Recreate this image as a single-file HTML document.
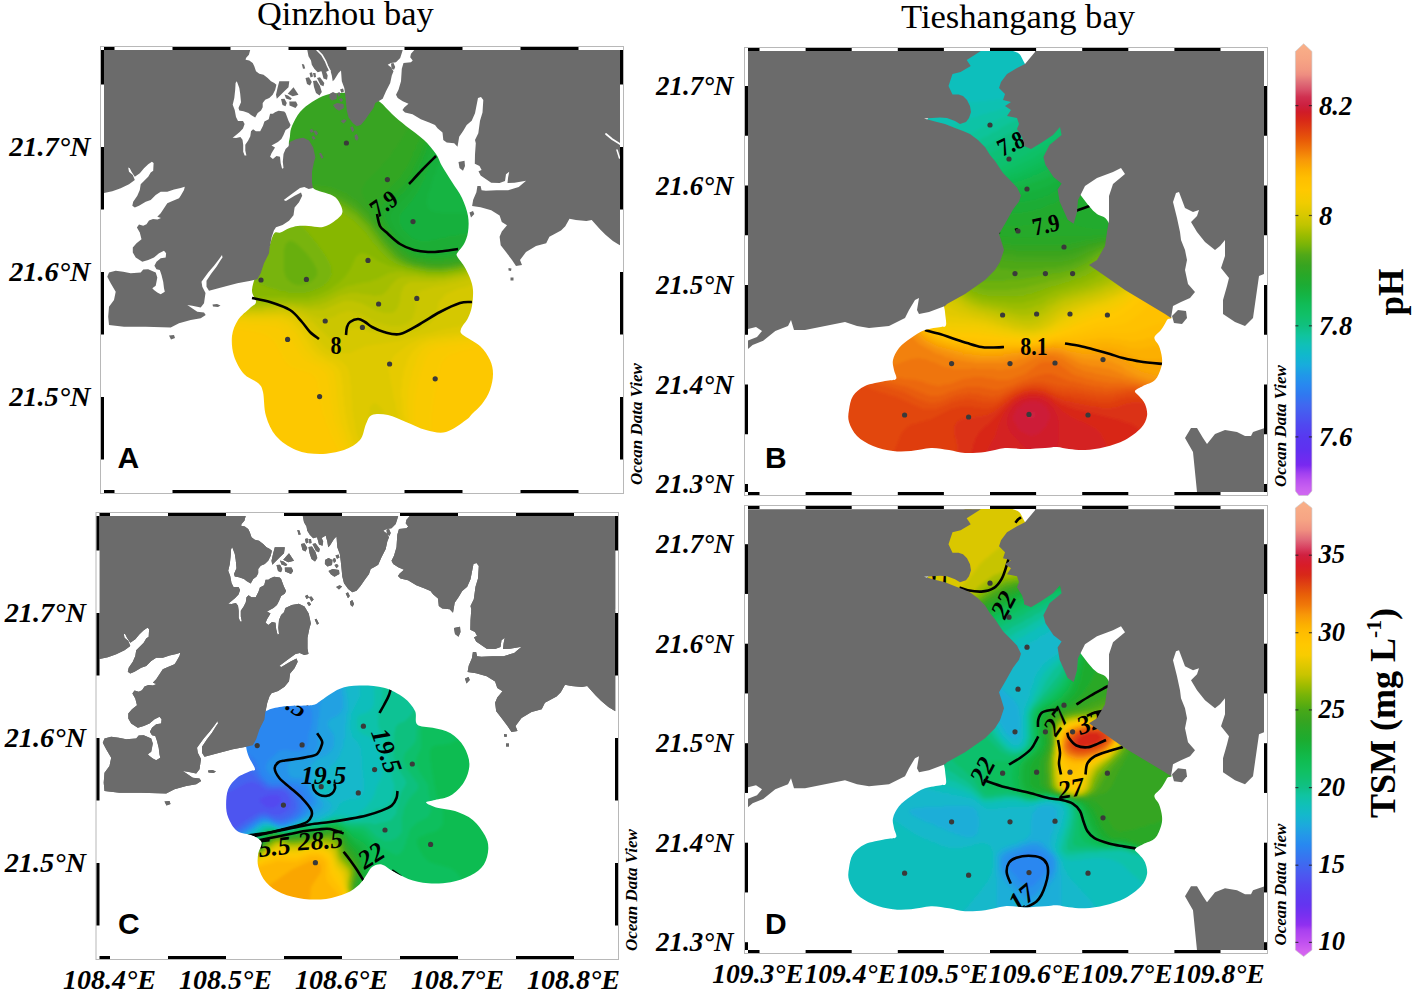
<!DOCTYPE html>
<html><head><meta charset="utf-8"><style>
html,body{margin:0;padding:0;background:#fff;}
body{width:1417px;height:990px;overflow:hidden;}
svg{display:block;}
.t{font-family:"Liberation Serif",serif;}
.bi{font-family:"Liberation Serif",serif;font-weight:bold;font-style:italic;}
.b{font-family:"Liberation Serif",serif;font-weight:bold;}
.s{font-family:"Liberation Sans",sans-serif;font-weight:bold;}
</style></head><body>
<svg width="1417" height="990" viewBox="0 0 1417 990">
<rect width="1417" height="990" fill="#fff"/>

<defs><clipPath id="clipA"><rect x="104" y="50" width="516" height="440"/></clipPath><clipPath id="clipC"><rect x="99.5" y="516" width="516" height="440"/></clipPath></defs>
<g clip-path="url(#clipA)"><g transform="translate(0,0)">
<defs><clipPath id="bcA"><path d="M290.0,150.0 C287.5,142.7 289.7,140.0 290.0,136.0 C290.3,132.0 290.3,130.0 292.0,126.0 C293.7,122.0 296.7,116.0 300.0,112.0 C303.3,108.0 307.7,104.8 312.0,102.0 C316.3,99.2 321.3,96.5 326.0,95.0 C330.7,93.5 335.2,93.3 340.0,93.0 C344.8,92.7 350.3,92.5 355.0,93.0 C359.7,93.5 363.8,94.5 368.0,96.0 C372.2,97.5 376.0,99.0 380.0,102.0 C384.0,105.0 387.7,110.0 392.0,114.0 C396.3,118.0 400.7,121.7 406.0,126.0 C411.3,130.3 419.0,135.3 424.0,140.0 C429.0,144.7 433.0,149.7 436.0,154.0 C439.0,158.3 439.3,161.3 442.0,166.0 C444.7,170.7 448.7,176.7 452.0,182.0 C455.3,187.3 459.3,192.3 462.0,198.0 C464.7,203.7 467.0,210.3 468.0,216.0 C469.0,221.7 468.7,227.3 468.0,232.0 C467.3,236.7 465.7,240.7 464.0,244.0 C462.3,247.3 459.2,250.0 458.0,252.0 C456.8,254.0 456.0,253.7 457.0,256.0 C458.0,258.3 461.8,262.3 464.0,266.0 C466.2,269.7 468.5,274.0 470.0,278.0 C471.5,282.0 472.7,285.3 473.0,290.0 C473.3,294.7 472.8,301.3 472.0,306.0 C471.2,310.7 469.8,314.2 468.0,318.0 C466.2,321.8 461.8,326.2 461.0,329.0 C460.2,331.8 459.8,332.2 463.0,335.0 C466.2,337.8 475.5,341.8 480.0,346.0 C484.5,350.2 487.8,355.3 490.0,360.0 C492.2,364.7 493.0,369.0 493.0,374.0 C493.0,379.0 491.8,385.0 490.0,390.0 C488.2,395.0 485.0,400.0 482.0,404.0 C479.0,408.0 474.7,411.3 472.0,414.0 C469.3,416.7 470.3,417.0 466.0,420.0 C461.7,423.0 452.7,430.3 446.0,432.0 C439.3,433.7 432.7,431.7 426.0,430.0 C419.3,428.3 412.3,424.5 406.0,422.0 C399.7,419.5 393.7,416.2 388.0,415.0 C382.3,413.8 375.7,413.5 372.0,415.0 C368.3,416.5 368.0,419.8 366.0,424.0 C364.0,428.2 363.7,435.7 360.0,440.0 C356.3,444.3 350.7,447.7 344.0,450.0 C337.3,452.3 328.0,454.0 320.0,454.0 C312.0,454.0 303.3,453.0 296.0,450.0 C288.7,447.0 281.0,441.7 276.0,436.0 C271.0,430.3 268.2,423.3 266.0,416.0 C263.8,408.7 264.3,397.5 263.0,392.0 C261.7,386.5 261.2,386.0 258.0,383.0 C254.8,380.0 248.0,378.5 244.0,374.0 C240.0,369.5 236.0,362.3 234.0,356.0 C232.0,349.7 231.3,342.0 232.0,336.0 C232.7,330.0 235.0,324.7 238.0,320.0 C241.0,315.3 247.0,311.0 250.0,308.0 C253.0,305.0 255.7,305.0 256.0,302.0 C256.3,299.0 251.7,295.3 252.0,290.0 C252.3,284.7 255.3,276.7 258.0,270.0 C260.7,263.3 265.4,256.1 268.0,250.0 C270.6,243.9 271.8,236.6 273.9,233.7 C276.0,230.8 277.9,233.5 280.4,232.6 C282.9,231.7 286.1,229.4 289.0,228.3 C291.9,227.2 294.5,226.4 297.8,226.0 C301.1,225.6 305.1,225.8 308.7,226.0 C312.3,226.2 316.7,227.2 319.6,227.2 C322.5,227.2 323.6,226.9 326.0,226.0 C328.4,225.1 331.3,223.3 333.7,221.7 C336.1,220.1 338.8,217.9 340.2,216.3 C341.6,214.7 342.2,213.6 342.4,212.0 C342.6,210.4 342.2,208.7 341.3,206.5 C340.4,204.3 338.8,201.0 337.0,199.0 C335.2,197.0 333.3,195.9 330.4,194.6 C327.5,193.3 322.5,192.4 319.6,191.3 C316.7,190.2 315.4,189.9 313.0,188.0 C310.6,186.1 308.8,186.3 305.0,180.0 C301.2,173.7 292.5,157.3 290.0,150.0Z"/></clipPath><filter id="bfA" x="-5%" y="-5%" width="110%" height="110%"><feGaussianBlur stdDeviation="1.5"/></filter></defs><g clip-path="url(#bcA)"><g filter="url(#bfA)"><rect x="230" y="88" width="270" height="372" fill="#10bc58"/><path d="M230.0,88.0 230.0,459.0 499.0,459.0 499.0,88.0Z" fill="#13b74b" fill-rule="evenodd"/><path d="M230.0,88.0 230.0,459.0 499.0,459.0 499.0,88.0Z" fill="#14b443" fill-rule="evenodd"/><path d="M230.0,88.0 230.0,459.0 499.0,459.0 499.0,213.0 442.0,213.0 441.0,212.0 436.0,212.0 431.0,210.0 428.0,207.0 428.0,205.0 427.0,204.0 428.0,194.0 429.0,193.0 434.0,176.0 436.0,173.0 437.0,168.0 439.0,165.0 440.0,160.0 444.0,152.0 445.0,147.0 447.0,144.0 447.0,142.0 451.0,134.0 452.0,129.0 458.0,116.0 459.0,111.0 461.0,108.0 461.0,106.0 463.0,103.0 463.0,101.0 469.0,88.0Z" fill="#18b03d" fill-rule="evenodd"/><path d="M230.0,88.0 230.0,459.0 499.0,459.0 499.0,230.0 484.0,231.0 483.0,232.0 475.0,232.0 474.0,233.0 466.0,233.0 465.0,234.0 459.0,234.0 458.0,235.0 448.0,236.0 447.0,237.0 439.0,238.0 438.0,239.0 430.0,240.0 429.0,241.0 420.0,241.0 419.0,240.0 414.0,239.0 411.0,237.0 403.0,229.0 400.0,223.0 400.0,216.0 401.0,214.0 412.0,201.0 418.0,192.0 425.0,178.0 425.0,176.0 428.0,171.0 428.0,169.0 430.0,166.0 430.0,164.0 432.0,161.0 432.0,159.0 434.0,156.0 434.0,154.0 436.0,151.0 436.0,149.0 438.0,146.0 438.0,144.0 444.0,131.0 445.0,126.0 447.0,123.0 447.0,121.0 449.0,118.0 449.0,116.0 451.0,113.0 451.0,111.0 453.0,108.0 453.0,106.0 455.0,103.0 455.0,101.0 461.0,88.0Z" fill="#1bad36" fill-rule="evenodd"/><path d="M230.0,88.0 230.0,459.0 499.0,459.0 499.0,239.0 492.0,240.0 491.0,241.0 487.0,241.0 482.0,243.0 478.0,243.0 477.0,244.0 473.0,244.0 468.0,246.0 454.0,248.0 453.0,249.0 448.0,249.0 447.0,250.0 438.0,250.0 437.0,251.0 422.0,250.0 421.0,249.0 415.0,248.0 410.0,245.0 399.0,234.0 394.0,227.0 391.0,220.0 391.0,215.0 393.0,211.0 410.0,193.0 416.0,184.0 422.0,172.0 422.0,170.0 426.0,163.0 426.0,161.0 428.0,158.0 428.0,156.0 430.0,153.0 430.0,151.0 432.0,148.0 432.0,146.0 434.0,143.0 434.0,141.0 436.0,138.0 436.0,136.0 438.0,133.0 438.0,131.0 444.0,118.0 447.0,108.0 450.0,103.0 450.0,101.0 456.0,88.0Z" fill="#1fab31" fill-rule="evenodd"/><path d="M230.0,88.0 230.0,459.0 499.0,459.0 499.0,244.0 495.0,244.0 494.0,245.0 491.0,245.0 486.0,247.0 482.0,247.0 481.0,248.0 478.0,248.0 473.0,250.0 469.0,250.0 468.0,251.0 460.0,252.0 459.0,253.0 455.0,253.0 454.0,254.0 448.0,254.0 447.0,255.0 426.0,255.0 425.0,254.0 420.0,254.0 412.0,251.0 402.0,243.0 402.0,242.0 396.0,236.0 389.0,226.0 385.0,217.0 386.0,210.0 390.0,206.0 390.0,205.0 405.0,191.0 414.0,178.0 419.0,168.0 419.0,166.0 423.0,159.0 423.0,157.0 425.0,154.0 427.0,147.0 430.0,142.0 430.0,140.0 432.0,137.0 433.0,132.0 435.0,129.0 435.0,127.0 437.0,124.0 437.0,122.0 439.0,119.0 441.0,112.0 444.0,107.0 446.0,100.0 452.0,88.0Z" fill="#24a92c" fill-rule="evenodd"/><path d="M230.0,88.0 230.0,459.0 499.0,459.0 499.0,247.0 491.0,248.0 490.0,249.0 487.0,249.0 486.0,250.0 483.0,250.0 478.0,252.0 474.0,252.0 473.0,253.0 470.0,253.0 465.0,255.0 461.0,255.0 460.0,256.0 456.0,256.0 455.0,257.0 449.0,257.0 448.0,258.0 426.0,258.0 425.0,257.0 417.0,256.0 407.0,251.0 395.0,239.0 385.0,225.0 380.0,214.0 380.0,210.0 383.0,204.0 404.0,184.0 410.0,175.0 421.0,152.0 423.0,145.0 426.0,140.0 426.0,138.0 428.0,135.0 428.0,133.0 430.0,130.0 430.0,128.0 432.0,125.0 432.0,123.0 434.0,120.0 436.0,113.0 439.0,108.0 439.0,106.0 442.0,101.0 442.0,99.0 447.0,90.0 447.0,88.0Z" fill="#2aa827" fill-rule="evenodd"/><path d="M230.0,88.0 230.0,459.0 499.0,459.0 499.0,249.0 489.0,251.0 488.0,252.0 485.0,252.0 484.0,253.0 480.0,253.0 479.0,254.0 476.0,254.0 471.0,256.0 467.0,256.0 462.0,258.0 452.0,259.0 451.0,260.0 444.0,260.0 443.0,261.0 432.0,261.0 431.0,260.0 424.0,260.0 423.0,259.0 416.0,258.0 409.0,255.0 399.0,247.0 399.0,246.0 393.0,240.0 380.0,222.0 375.0,211.0 375.0,203.0 376.0,201.0 399.0,179.0 407.0,167.0 413.0,155.0 413.0,153.0 416.0,148.0 416.0,146.0 419.0,141.0 419.0,139.0 422.0,134.0 422.0,132.0 427.0,122.0 427.0,120.0 431.0,113.0 431.0,111.0 437.0,100.0 437.0,98.0 442.0,88.0Z" fill="#30a624" fill-rule="evenodd"/><path d="M230.0,88.0 230.0,459.0 499.0,459.0 499.0,251.0 489.0,253.0 488.0,254.0 484.0,254.0 483.0,255.0 480.0,255.0 479.0,256.0 476.0,256.0 471.0,258.0 467.0,258.0 462.0,260.0 452.0,261.0 451.0,262.0 443.0,262.0 442.0,263.0 425.0,262.0 424.0,261.0 420.0,261.0 419.0,260.0 413.0,259.0 405.0,255.0 392.0,242.0 374.0,217.0 373.0,214.0 368.0,207.0 362.0,193.0 362.0,189.0 365.0,183.0 382.0,166.0 382.0,165.0 388.0,159.0 404.0,136.0 405.0,133.0 409.0,128.0 410.0,125.0 414.0,120.0 415.0,117.0 422.0,107.0 423.0,104.0 425.0,102.0 426.0,99.0 428.0,97.0 433.0,88.0Z" fill="#37a421" fill-rule="evenodd"/><path d="M230.0,165.0 230.0,459.0 499.0,459.0 499.0,253.0 496.0,253.0 495.0,254.0 492.0,254.0 487.0,256.0 483.0,256.0 482.0,257.0 479.0,257.0 478.0,258.0 475.0,258.0 470.0,260.0 466.0,260.0 461.0,262.0 451.0,263.0 450.0,264.0 426.0,264.0 425.0,263.0 417.0,262.0 416.0,261.0 411.0,260.0 402.0,255.0 388.0,240.0 367.0,211.0 358.0,202.0 345.0,193.0 330.0,187.0 320.0,186.0 319.0,185.0 309.0,185.0 308.0,184.0 291.0,184.0 290.0,183.0 277.0,183.0 276.0,182.0 271.0,182.0 270.0,181.0 267.0,181.0 261.0,178.0 259.0,178.0 254.0,175.0 252.0,175.0 247.0,172.0 245.0,172.0 240.0,169.0 238.0,169.0Z" fill="#40a51d" fill-rule="evenodd"/><path d="M230.0,167.0 230.0,459.0 499.0,459.0 499.0,254.0 494.0,255.0 493.0,256.0 490.0,256.0 489.0,257.0 486.0,257.0 485.0,258.0 482.0,258.0 481.0,259.0 478.0,259.0 477.0,260.0 473.0,260.0 472.0,261.0 469.0,261.0 464.0,263.0 454.0,264.0 453.0,265.0 448.0,265.0 447.0,266.0 429.0,266.0 428.0,265.0 423.0,265.0 422.0,264.0 414.0,263.0 400.0,256.0 387.0,242.0 367.0,215.0 356.0,205.0 350.0,201.0 345.0,199.0 343.0,197.0 341.0,197.0 338.0,195.0 336.0,195.0 332.0,193.0 323.0,192.0 322.0,191.0 301.0,190.0 300.0,189.0 286.0,189.0 285.0,188.0 273.0,187.0 272.0,186.0 267.0,185.0 264.0,183.0 262.0,183.0Z" fill="#4aa71a" fill-rule="evenodd"/><path d="M230.0,169.0 230.0,459.0 499.0,459.0 499.0,256.0 496.0,256.0 495.0,257.0 492.0,257.0 491.0,258.0 488.0,258.0 487.0,259.0 484.0,259.0 483.0,260.0 480.0,260.0 475.0,262.0 471.0,262.0 466.0,264.0 462.0,264.0 461.0,265.0 457.0,265.0 456.0,266.0 452.0,266.0 451.0,267.0 443.0,267.0 442.0,268.0 425.0,267.0 424.0,266.0 420.0,266.0 419.0,265.0 412.0,264.0 401.0,259.0 397.0,256.0 386.0,244.0 369.0,221.0 359.0,211.0 346.0,202.0 335.0,197.0 329.0,196.0 328.0,195.0 315.0,194.0 314.0,193.0 302.0,193.0 301.0,192.0 288.0,192.0 287.0,191.0 279.0,191.0 278.0,190.0 271.0,189.0Z" fill="#57aa15" fill-rule="evenodd"/><path d="M230.0,171.0 230.0,459.0 499.0,459.0 499.0,257.0 494.0,258.0 493.0,259.0 490.0,259.0 489.0,260.0 486.0,260.0 485.0,261.0 482.0,261.0 481.0,262.0 478.0,262.0 477.0,263.0 473.0,263.0 472.0,264.0 469.0,264.0 464.0,266.0 460.0,266.0 459.0,267.0 455.0,267.0 454.0,268.0 448.0,268.0 447.0,269.0 428.0,269.0 427.0,268.0 422.0,268.0 421.0,267.0 413.0,266.0 412.0,265.0 407.0,264.0 395.0,257.0 383.0,244.0 370.0,226.0 356.0,212.0 347.0,206.0 344.0,205.0 342.0,203.0 329.0,198.0 319.0,197.0 318.0,196.0 295.0,195.0 294.0,194.0 283.0,194.0 282.0,193.0 273.0,192.0 267.0,189.0 265.0,189.0 257.0,185.0 255.0,183.0Z" fill="#67af0f" fill-rule="evenodd"/><path d="M230.0,173.0 230.0,459.0 499.0,459.0 499.0,259.0 496.0,259.0 495.0,260.0 492.0,260.0 491.0,261.0 488.0,261.0 487.0,262.0 484.0,262.0 483.0,263.0 480.0,263.0 475.0,265.0 471.0,265.0 466.0,267.0 462.0,267.0 457.0,269.0 444.0,270.0 443.0,271.0 424.0,270.0 423.0,269.0 419.0,269.0 418.0,268.0 414.0,268.0 410.0,266.0 407.0,266.0 398.0,262.0 391.0,257.0 381.0,246.0 366.0,226.0 356.0,216.0 339.0,205.0 337.0,205.0 334.0,203.0 332.0,203.0 328.0,201.0 320.0,200.0 319.0,199.0 276.0,196.0 275.0,195.0 270.0,194.0ZM289.0,241.0 292.0,241.0 297.0,244.0 307.0,254.0 313.0,262.0 317.0,270.0 317.0,275.0 316.0,277.0 311.0,282.0 307.0,284.0 304.0,284.0 303.0,285.0 296.0,285.0 295.0,284.0 293.0,284.0 287.0,279.0 285.0,275.0 285.0,273.0 284.0,272.0 284.0,249.0 285.0,248.0 285.0,245.0Z" fill="#78b408" fill-rule="evenodd"/><path d="M230.0,265.0 230.0,459.0 499.0,459.0 499.0,260.0 494.0,261.0 493.0,262.0 490.0,262.0 489.0,263.0 486.0,263.0 485.0,264.0 482.0,264.0 481.0,265.0 478.0,265.0 477.0,266.0 474.0,266.0 473.0,267.0 469.0,267.0 464.0,269.0 460.0,269.0 459.0,270.0 455.0,270.0 454.0,271.0 449.0,271.0 448.0,272.0 426.0,272.0 425.0,271.0 420.0,271.0 419.0,270.0 415.0,270.0 414.0,269.0 407.0,268.0 406.0,267.0 398.0,265.0 388.0,259.0 378.0,249.0 378.0,248.0 373.0,243.0 365.0,232.0 353.0,220.0 338.0,210.0 325.0,205.0 316.0,204.0 315.0,203.0 291.0,203.0 288.0,205.0 289.0,210.0 316.0,242.0 326.0,256.0 331.0,266.0 332.0,274.0 328.0,282.0 322.0,287.0 310.0,292.0 307.0,292.0 306.0,293.0 288.0,293.0 287.0,292.0 279.0,291.0 278.0,290.0 267.0,287.0 264.0,285.0 262.0,285.0 242.0,274.0Z" fill="#87b705" fill-rule="evenodd"/><path d="M230.0,297.0 230.0,459.0 499.0,459.0 499.0,262.0 489.0,264.0 488.0,265.0 485.0,265.0 484.0,266.0 480.0,266.0 479.0,267.0 476.0,267.0 475.0,268.0 472.0,268.0 467.0,270.0 463.0,270.0 458.0,272.0 453.0,272.0 452.0,273.0 447.0,273.0 446.0,274.0 427.0,274.0 426.0,273.0 415.0,272.0 414.0,271.0 410.0,271.0 409.0,270.0 405.0,270.0 404.0,269.0 389.0,266.0 376.0,260.0 374.0,258.0 366.0,254.0 361.0,253.0 356.0,257.0 350.0,270.0 345.0,277.0 340.0,282.0 329.0,290.0 316.0,296.0 313.0,296.0 308.0,298.0 287.0,298.0 286.0,297.0 236.0,298.0 235.0,297.0Z" fill="#95bb01" fill-rule="evenodd"/><path d="M499.0,264.0 496.0,264.0 495.0,265.0 492.0,265.0 491.0,266.0 488.0,266.0 487.0,267.0 484.0,267.0 483.0,268.0 480.0,268.0 475.0,270.0 471.0,270.0 470.0,271.0 467.0,271.0 462.0,273.0 458.0,273.0 457.0,274.0 453.0,274.0 452.0,275.0 446.0,275.0 445.0,276.0 426.0,276.0 425.0,275.0 419.0,275.0 418.0,274.0 405.0,273.0 404.0,272.0 395.0,272.0 394.0,273.0 390.0,273.0 376.0,280.0 374.0,280.0 370.0,282.0 361.0,283.0 360.0,284.0 356.0,284.0 355.0,285.0 348.0,286.0 324.0,298.0 322.0,298.0 319.0,300.0 316.0,300.0 315.0,301.0 311.0,301.0 310.0,302.0 269.0,301.0 268.0,302.0 258.0,302.0 257.0,303.0 243.0,303.0 242.0,302.0 232.0,302.0 230.0,301.0 230.0,459.0 499.0,459.0Z" fill="#a4be00" fill-rule="evenodd"/><path d="M499.0,266.0 496.0,266.0 495.0,267.0 492.0,267.0 491.0,268.0 488.0,268.0 487.0,269.0 484.0,269.0 483.0,270.0 480.0,270.0 479.0,271.0 476.0,271.0 471.0,273.0 467.0,273.0 462.0,275.0 458.0,275.0 457.0,276.0 453.0,276.0 452.0,277.0 447.0,277.0 446.0,278.0 435.0,278.0 433.0,279.0 432.0,278.0 420.0,278.0 419.0,277.0 402.0,277.0 397.0,279.0 391.0,285.0 388.0,290.0 382.0,295.0 373.0,296.0 372.0,295.0 360.0,294.0 359.0,293.0 349.0,293.0 348.0,294.0 341.0,295.0 325.0,303.0 323.0,303.0 319.0,305.0 314.0,305.0 313.0,306.0 304.0,306.0 303.0,305.0 295.0,305.0 294.0,304.0 268.0,304.0 267.0,305.0 258.0,305.0 257.0,306.0 244.0,306.0 243.0,305.0 233.0,305.0 232.0,304.0 230.0,304.0 230.0,459.0 499.0,459.0Z" fill="#b3c100" fill-rule="evenodd"/><path d="M499.0,268.0 494.0,269.0 493.0,270.0 490.0,270.0 489.0,271.0 486.0,271.0 485.0,272.0 482.0,272.0 481.0,273.0 478.0,273.0 477.0,274.0 474.0,274.0 473.0,275.0 470.0,275.0 469.0,276.0 466.0,276.0 465.0,277.0 461.0,277.0 460.0,278.0 452.0,279.0 451.0,280.0 446.0,280.0 445.0,281.0 438.0,281.0 437.0,282.0 410.0,282.0 404.0,286.0 401.0,293.0 400.0,302.0 399.0,303.0 398.0,308.0 393.0,313.0 383.0,313.0 382.0,312.0 377.0,311.0 361.0,303.0 355.0,302.0 354.0,301.0 344.0,301.0 323.0,310.0 308.0,310.0 307.0,309.0 302.0,309.0 301.0,308.0 296.0,308.0 295.0,307.0 289.0,307.0 288.0,306.0 272.0,306.0 271.0,307.0 263.0,307.0 262.0,308.0 240.0,308.0 239.0,307.0 231.0,307.0 230.0,306.0 230.0,459.0 499.0,459.0Z" fill="#c1c400" fill-rule="evenodd"/><path d="M499.0,272.0 496.0,272.0 495.0,273.0 492.0,273.0 491.0,274.0 488.0,274.0 487.0,275.0 484.0,275.0 483.0,276.0 480.0,276.0 479.0,277.0 476.0,277.0 475.0,278.0 472.0,278.0 471.0,279.0 468.0,279.0 467.0,280.0 464.0,280.0 463.0,281.0 460.0,281.0 455.0,283.0 451.0,283.0 446.0,285.0 432.0,287.0 431.0,288.0 428.0,288.0 427.0,289.0 422.0,290.0 419.0,292.0 416.0,298.0 415.0,312.0 414.0,313.0 413.0,318.0 408.0,323.0 400.0,326.0 389.0,326.0 388.0,325.0 384.0,325.0 383.0,324.0 375.0,322.0 358.0,313.0 352.0,312.0 351.0,311.0 346.0,311.0 345.0,312.0 340.0,313.0 334.0,317.0 332.0,317.0 328.0,319.0 324.0,319.0 323.0,318.0 319.0,318.0 300.0,311.0 297.0,311.0 292.0,309.0 286.0,309.0 285.0,308.0 275.0,308.0 274.0,309.0 265.0,309.0 264.0,310.0 241.0,310.0 240.0,309.0 232.0,309.0 230.0,308.0 230.0,459.0 499.0,459.0Z" fill="#cbc600" fill-rule="evenodd"/><path d="M499.0,278.0 494.0,279.0 493.0,280.0 490.0,280.0 489.0,281.0 486.0,281.0 485.0,282.0 482.0,282.0 481.0,283.0 478.0,283.0 477.0,284.0 474.0,284.0 463.0,288.0 460.0,288.0 446.0,294.0 439.0,302.0 437.0,312.0 434.0,319.0 427.0,326.0 415.0,331.0 407.0,332.0 406.0,333.0 400.0,333.0 399.0,334.0 383.0,334.0 382.0,333.0 371.0,332.0 363.0,329.0 354.0,328.0 353.0,329.0 350.0,329.0 337.0,339.0 331.0,339.0 329.0,338.0 313.0,322.0 307.0,318.0 293.0,312.0 290.0,312.0 289.0,311.0 281.0,311.0 280.0,310.0 277.0,310.0 276.0,311.0 265.0,311.0 264.0,312.0 242.0,312.0 241.0,311.0 233.0,311.0 232.0,310.0 230.0,310.0 230.0,459.0 499.0,459.0Z" fill="#d5c800" fill-rule="evenodd"/><path d="M230.0,312.0 230.0,459.0 378.0,459.0 373.0,443.0 372.0,442.0 371.0,434.0 370.0,433.0 370.0,426.0 369.0,425.0 369.0,412.0 370.0,411.0 370.0,407.0 374.0,403.0 377.0,404.0 382.0,409.0 388.0,420.0 388.0,422.0 393.0,435.0 393.0,438.0 394.0,439.0 394.0,442.0 395.0,443.0 395.0,446.0 396.0,447.0 396.0,450.0 398.0,455.0 398.0,459.0 499.0,459.0 499.0,319.0 497.0,320.0 487.0,321.0 486.0,322.0 476.0,323.0 475.0,324.0 470.0,324.0 469.0,325.0 464.0,325.0 463.0,326.0 459.0,326.0 458.0,327.0 453.0,327.0 452.0,328.0 443.0,329.0 442.0,330.0 439.0,330.0 438.0,331.0 435.0,331.0 434.0,332.0 419.0,335.0 415.0,337.0 412.0,337.0 411.0,338.0 408.0,338.0 407.0,339.0 404.0,339.0 399.0,341.0 365.0,346.0 350.0,353.0 337.0,353.0 327.0,349.0 320.0,342.0 310.0,327.0 304.0,321.0 293.0,315.0 287.0,314.0 286.0,313.0 244.0,314.0 243.0,313.0 235.0,313.0 234.0,312.0Z" fill="#dec900" fill-rule="evenodd"/><path d="M499.0,327.0 490.0,328.0 489.0,329.0 485.0,329.0 484.0,330.0 479.0,330.0 478.0,331.0 465.0,332.0 464.0,333.0 446.0,334.0 445.0,335.0 438.0,335.0 437.0,336.0 428.0,337.0 424.0,339.0 421.0,339.0 408.0,345.0 394.0,356.0 389.0,366.0 389.0,373.0 390.0,374.0 390.0,379.0 391.0,380.0 391.0,384.0 392.0,385.0 394.0,399.0 396.0,404.0 396.0,408.0 398.0,413.0 399.0,422.0 401.0,427.0 402.0,436.0 404.0,441.0 404.0,445.0 405.0,446.0 405.0,450.0 406.0,451.0 407.0,459.0 499.0,459.0ZM230.0,314.0 230.0,459.0 367.0,459.0 362.0,450.0 362.0,448.0 360.0,445.0 360.0,443.0 356.0,433.0 356.0,430.0 355.0,429.0 354.0,419.0 353.0,418.0 353.0,412.0 352.0,411.0 352.0,400.0 351.0,399.0 351.0,385.0 350.0,384.0 350.0,376.0 349.0,375.0 349.0,372.0 347.0,367.0 342.0,362.0 332.0,357.0 330.0,357.0 323.0,353.0 316.0,346.0 310.0,337.0 309.0,334.0 303.0,326.0 296.0,320.0 290.0,317.0 283.0,316.0 282.0,315.0 246.0,316.0 245.0,315.0Z" fill="#e6ca00" fill-rule="evenodd"/><path d="M499.0,331.0 490.0,332.0 489.0,333.0 484.0,333.0 483.0,334.0 478.0,334.0 477.0,335.0 472.0,335.0 471.0,336.0 454.0,337.0 453.0,338.0 443.0,338.0 442.0,339.0 431.0,340.0 421.0,344.0 412.0,352.0 407.0,361.0 407.0,363.0 404.0,370.0 403.0,378.0 402.0,379.0 402.0,388.0 401.0,389.0 401.0,397.0 402.0,398.0 403.0,415.0 404.0,416.0 405.0,427.0 406.0,428.0 406.0,432.0 407.0,433.0 407.0,437.0 408.0,438.0 408.0,443.0 409.0,444.0 412.0,459.0 499.0,459.0ZM230.0,316.0 230.0,459.0 361.0,459.0 354.0,445.0 354.0,443.0 352.0,440.0 352.0,438.0 348.0,428.0 348.0,425.0 347.0,424.0 347.0,420.0 346.0,419.0 346.0,415.0 345.0,414.0 345.0,407.0 344.0,406.0 344.0,397.0 343.0,396.0 343.0,385.0 342.0,384.0 342.0,378.0 341.0,377.0 341.0,374.0 339.0,369.0 333.0,363.0 326.0,360.0 324.0,358.0 318.0,355.0 312.0,349.0 301.0,331.0 293.0,323.0 288.0,320.0 286.0,320.0 282.0,318.0 244.0,318.0 243.0,317.0 235.0,317.0 234.0,316.0Z" fill="#eecc00" fill-rule="evenodd"/><path d="M499.0,334.0 492.0,335.0 491.0,336.0 486.0,336.0 485.0,337.0 480.0,337.0 479.0,338.0 474.0,338.0 473.0,339.0 467.0,339.0 466.0,340.0 458.0,340.0 457.0,341.0 448.0,341.0 447.0,342.0 435.0,343.0 434.0,344.0 429.0,345.0 423.0,349.0 419.0,354.0 416.0,360.0 416.0,362.0 412.0,372.0 412.0,375.0 410.0,379.0 410.0,383.0 409.0,384.0 409.0,388.0 408.0,389.0 408.0,400.0 407.0,401.0 409.0,425.0 410.0,426.0 411.0,437.0 412.0,438.0 412.0,442.0 413.0,443.0 413.0,447.0 414.0,448.0 414.0,453.0 415.0,454.0 415.0,458.0 416.0,459.0 499.0,459.0ZM230.0,318.0 230.0,459.0 356.0,459.0 346.0,438.0 346.0,436.0 341.0,423.0 340.0,415.0 339.0,414.0 339.0,409.0 338.0,408.0 338.0,401.0 337.0,400.0 336.0,381.0 335.0,380.0 335.0,376.0 333.0,371.0 327.0,365.0 315.0,359.0 306.0,350.0 296.0,333.0 288.0,325.0 277.0,321.0 250.0,321.0 249.0,320.0 240.0,320.0 239.0,319.0 232.0,319.0Z" fill="#f4cb00" fill-rule="evenodd"/><path d="M499.0,338.0 495.0,338.0 494.0,339.0 490.0,339.0 489.0,340.0 484.0,340.0 483.0,341.0 478.0,341.0 477.0,342.0 472.0,342.0 471.0,343.0 465.0,343.0 464.0,344.0 458.0,344.0 457.0,345.0 450.0,345.0 449.0,346.0 439.0,347.0 430.0,352.0 427.0,356.0 424.0,362.0 424.0,364.0 420.0,374.0 420.0,377.0 418.0,381.0 417.0,389.0 416.0,390.0 416.0,394.0 415.0,395.0 415.0,401.0 414.0,402.0 414.0,421.0 415.0,422.0 415.0,430.0 416.0,431.0 418.0,448.0 419.0,449.0 419.0,453.0 420.0,454.0 420.0,459.0 499.0,459.0ZM230.0,321.0 230.0,459.0 351.0,459.0 340.0,437.0 340.0,435.0 338.0,432.0 338.0,430.0 334.0,420.0 333.0,412.0 332.0,411.0 332.0,406.0 331.0,405.0 331.0,399.0 330.0,398.0 329.0,382.0 328.0,381.0 328.0,378.0 326.0,373.0 318.0,366.0 307.0,361.0 300.0,354.0 290.0,337.0 282.0,329.0 275.0,326.0 270.0,326.0 269.0,325.0 246.0,324.0 245.0,323.0 238.0,323.0 237.0,322.0 231.0,322.0Z" fill="#f9ca00" fill-rule="evenodd"/><path d="M499.0,343.0 459.0,351.0 458.0,352.0 450.0,354.0 443.0,360.0 440.0,366.0 439.0,372.0 438.0,373.0 438.0,377.0 437.0,378.0 437.0,382.0 436.0,383.0 436.0,387.0 435.0,388.0 435.0,392.0 434.0,393.0 434.0,398.0 433.0,399.0 433.0,404.0 432.0,405.0 432.0,412.0 431.0,413.0 431.0,448.0 432.0,449.0 432.0,458.0 433.0,459.0 499.0,459.0ZM230.0,327.0 230.0,459.0 344.0,459.0 342.0,457.0 330.0,433.0 330.0,431.0 326.0,423.0 326.0,421.0 323.0,414.0 323.0,411.0 322.0,410.0 322.0,406.0 321.0,405.0 321.0,401.0 320.0,400.0 320.0,394.0 319.0,393.0 319.0,388.0 318.0,387.0 318.0,383.0 316.0,378.0 312.0,374.0 308.0,372.0 306.0,372.0 302.0,370.0 299.0,370.0 290.0,366.0 285.0,361.0 275.0,342.0 267.0,335.0 262.0,333.0 255.0,332.0 254.0,331.0 250.0,331.0 249.0,330.0 244.0,330.0 243.0,329.0 238.0,329.0 237.0,328.0 232.0,328.0Z" fill="#fdc800" fill-rule="evenodd"/></g></g><path d="M436.0,156.0 C433.7,158.3 426.5,165.3 422.0,170.0 C417.5,174.7 411.2,181.7 409.0,184.0" fill="none" stroke="#000" stroke-width="2.6" stroke-linecap="butt"/><path d="M377.0,214.0 C377.5,216.0 378.5,223.0 380.0,226.0 C381.5,229.0 382.7,229.0 386.0,232.0 C389.3,235.0 395.3,241.0 400.0,244.0 C404.7,247.0 409.3,248.7 414.0,250.0 C418.7,251.3 423.0,251.8 428.0,252.0 C433.0,252.2 439.0,251.5 444.0,251.0 C449.0,250.5 455.7,249.3 458.0,249.0" fill="none" stroke="#000" stroke-width="2.6" stroke-linecap="butt"/><path d="M252.0,298.0 C255.0,298.7 263.7,300.0 270.0,302.0 C276.3,304.0 284.7,306.7 290.0,310.0 C295.3,313.3 298.7,318.3 302.0,322.0 C305.3,325.7 307.2,329.2 310.0,332.0 C312.8,334.8 317.5,337.8 319.0,339.0" fill="none" stroke="#000" stroke-width="2.6" stroke-linecap="butt"/><path d="M346.0,335.0 C346.2,333.7 346.3,329.2 347.0,327.0 C347.7,324.8 348.2,323.3 350.0,322.0 C351.8,320.7 355.5,319.0 358.0,319.0 C360.5,319.0 362.7,320.7 365.0,322.0 C367.3,323.3 368.8,325.3 372.0,327.0 C375.2,328.7 379.3,330.8 384.0,332.0 C388.7,333.2 394.0,335.3 400.0,334.0 C406.0,332.7 413.3,327.7 420.0,324.0 C426.7,320.3 433.3,315.5 440.0,312.0 C446.7,308.5 454.7,304.7 460.0,303.0 C465.3,301.3 470.0,302.2 472.0,302.0" fill="none" stroke="#000" stroke-width="2.6" stroke-linecap="butt"/>
<path d="M104.0,50.0 250.2,50.0 248.9,54.7 246.0,58.0 245.6,59.7 249.3,60.5 252.7,63.0 254.3,66.3 256.0,71.3 259.3,73.8 263.5,74.7 267.7,78.0 271.0,81.3 274.3,83.0 276.4,84.7 275.2,89.7 272.7,94.7 269.3,98.0 265.2,99.7 262.7,103.0 262.7,107.2 261.0,110.5 257.7,113.0 255.2,117.5 251.0,115.0 248.5,113.0 243.5,111.3 239.3,110.5 238.5,108.0 241.0,102.2 240.2,93.8 239.3,88.0 236.8,81.3 235.6,83.0 235.2,89.7 234.3,98.0 232.7,104.7 234.7,110.0 236.0,117.0 238.0,121.0 243.0,121.0 244.6,124.0 243.0,128.5 239.7,132.0 236.1,134.9 232.6,137.7 236.1,138.0 240.4,137.0 242.5,139.8 243.2,144.8 243.2,151.8 244.6,155.4 246.4,155.4 245.3,150.4 245.3,144.8 248.2,140.5 250.3,136.3 251.0,131.3 253.1,129.2 255.9,131.3 260.2,131.3 263.0,125.7 264.4,121.4 268.7,119.3 270.1,113.7 272.9,113.7 275.0,112.2 278.6,110.8 284.2,111.5 285.6,113.0 288.5,120.7 290.6,125.0 289.2,127.8 285.6,129.9 283.5,134.9 281.4,139.1 277.9,142.0 271.5,145.5 275.0,147.6 271.5,153.3 270.1,156.8 272.9,158.9 276.5,156.1 280.0,156.8 280.7,163.2 282.1,168.8 283.5,168.1 282.8,161.7 283.5,154.0 285.6,149.0 288.5,146.2 289.9,142.0 296.3,139.1 303.3,137.7 309.0,140.5 313.2,147.6 315.4,157.5 314.0,162.0 312.0,171.7 312.0,182.6 313.0,188.0 308.7,189.1 304.3,187.0 300.0,188.0 292.4,193.5 283.7,200.0 285.9,201.1 294.6,195.7 301.0,192.4 302.2,195.7 299.0,202.2 294.6,207.6 293.5,215.2 289.0,220.7 282.6,225.0 276.0,227.2 273.9,230.4 271.7,237.0 269.6,247.8 269.0,253.3 264.0,263.3 260.7,273.3 257.3,279.2 250.7,280.8 237.3,283.3 224.0,286.7 209.0,290.8 206.5,286.7 206.5,280.8 211.5,273.3 216.5,266.7 220.7,260.0 222.5,257.5 222.0,255.0 219.0,259.2 214.0,265.8 208.2,272.5 204.0,278.3 201.5,281.7 202.3,286.7 205.5,293.0 204.0,303.3 200.7,307.5 192.3,305.8 187.3,305.0 197.3,311.7 204.0,312.5 205.7,315.0 200.7,318.3 190.7,320.0 179.0,323.3 170.7,327.5 145.7,326.7 124.0,326.7 109.0,325.0 108.2,316.7 109.0,306.7 114.0,300.0 115.7,291.7 110.7,283.3 107.3,276.7 109.0,272.5 115.7,270.8 123.2,271.7 130.7,273.3 140.7,272.5 143.2,269.6 148.2,269.2 155.7,272.5 157.3,277.5 156.5,281.7 155.7,285.8 152.3,288.3 154.0,290.0 157.3,292.5 160.7,294.2 164.8,291.7 164.0,288.3 163.2,281.7 161.5,275.0 159.8,270.0 156.5,269.2 154.4,265.8 156.5,261.7 160.7,258.3 165.7,257.5 166.1,253.3 164.0,250.8 159.0,253.3 154.0,257.5 148.2,260.0 142.3,261.7 135.7,257.5 132.8,252.5 132.8,247.5 136.5,243.3 141.5,239.2 139.8,232.5 136.9,227.5 139.0,224.6 143.2,225.8 146.5,224.2 149.0,220.5 153.0,219.0 157.5,219.5 161.0,218.0 157.3,216.7 160.7,213.3 164.0,208.3 167.3,203.3 170.7,201.7 179.0,198.3 180.7,195.8 184.0,190.0 184.8,186.7 180.7,187.9 174.0,189.6 167.3,191.7 160.7,191.7 155.7,195.0 150.7,200.0 145.7,201.7 139.0,205.8 134.8,207.5 132.3,205.8 133.2,201.7 137.3,195.8 139.8,190.0 140.7,184.2 143.2,181.7 148.2,176.7 150.7,172.5 153.2,170.8 153.6,162.9 151.9,161.7 148.2,164.2 144.0,168.3 139.8,173.3 134.8,176.7 131.5,171.7 129.8,168.3 128.2,167.5 129.0,171.7 132.8,175.0 134.8,180.0 129.0,184.2 120.7,188.3 112.3,191.2 104.0,192.9ZM307.3,50.0 402.7,50.0 401.8,53.0 400.2,58.0 396.0,62.2 391.0,63.0 387.7,64.7 391.0,67.2 393.5,71.3 391.8,75.5 390.2,83.0 386.0,91.3 382.7,98.8 378.5,101.3 375.2,103.0 373.5,108.0 369.3,113.8 365.2,119.7 361.0,124.7 356.8,126.3 352.7,123.0 348.5,117.2 346.8,110.5 346.0,102.2 345.2,94.7 344.3,88.0 341.8,81.3 341.0,70.5 338.5,73.0 334.3,79.7 332.7,81.3 331.8,75.5 330.2,69.7 326.0,72.0 321.0,71.3 317.7,72.2 314.3,68.8 311.8,64.7 311.0,60.5 308.5,56.3ZM414.3,50.0 620.0,50.0 620.0,245.3 618.2,244.2 612.9,241.0 605.5,234.7 600.2,229.4 591.7,219.9 586.4,220.9 575.9,219.9 569.5,218.8 565.3,226.2 561.0,230.4 549.4,236.8 546.2,243.2 536.0,246.0 526.0,252.0 520.0,260.0 522.0,265.0 516.0,266.0 512.0,260.0 506.0,252.0 500.7,245.3 499.6,236.8 501.8,231.5 507.0,225.2 501.8,222.0 499.6,215.6 491.2,210.3 480.6,207.2 472.1,206.1 473.2,199.8 476.4,192.3 477.4,186.0 480.6,186.0 481.6,190.2 485.9,190.8 496.5,190.2 508.1,190.2 518.7,187.0 526.1,180.7 514.5,182.8 507.5,183.0 508.1,177.5 509.2,171.7 506.0,174.3 505.0,181.0 499.6,183.0 491.2,182.8 480.6,175.4 478.5,171.2 481.6,170.1 479.5,165.9 474.8,163.8 475.0,154.2 475.8,143.3 475.0,140.0 478.3,133.3 480.0,120.8 482.5,112.5 483.3,100.0 481.0,97.0 478.0,98.0 475.0,113.3 471.7,120.8 466.7,125.0 463.3,130.8 459.2,136.7 457.5,146.7 454.2,143.3 446.7,142.5 443.3,140.0 442.5,132.5 437.5,128.3 435.0,125.0 429.2,122.5 420.8,119.2 412.5,114.2 405.0,112.5 402.5,110.0 404.2,107.5 408.5,103.8 402.7,101.3 397.7,98.0 396.0,94.7 398.5,89.7 401.0,81.3 401.8,68.8 403.5,63.0 411.0,62.2 412.7,60.5 410.2,57.2 411.0,53.8Z" fill="#6b6b6b"/>
<path d="M317.0,50.0 322.0,55.0 325.5,61.0 327.5,66.0 330.0,71.0" fill="none" stroke="#fff" stroke-width="1.6" stroke-linecap="round"/>
<path d="M606.0,134.0 612.0,139.0 620.0,144.0" fill="none" stroke="#fff" stroke-width="1.8" stroke-linecap="round"/>
<path d="M617.0,150.0 619.5,158.0" fill="none" stroke="#fff" stroke-width="1.5" stroke-linecap="round"/>
<path d="M279.3,81.3 289.3,81.3 288.5,87.2 284.3,91.3 279.3,96.3 276.8,98.8 276.0,94.7 277.7,87.2ZM293.5,87.2 298.5,94.7 292.7,96.3 287.7,93.8ZM284.5,94.5 288.0,95.5 291.8,98.5 290.5,100.0 286.0,98.5ZM281.0,99.0 284.5,98.8 286.8,103.0 285.5,106.3 282.5,105.0ZM289.3,101.5 296.0,101.5 297.7,105.0 295.5,108.0 292.0,106.5 289.5,105.5ZM301.8,64.0 304.0,64.5 305.2,68.5 303.0,68.8ZM305.5,78.0 309.0,77.2 311.8,82.0 310.0,85.5 307.0,84.0ZM309.5,73.0 312.0,72.2 313.0,76.5 310.5,77.5ZM313.0,73.0 315.5,73.0 316.0,77.0 314.0,77.5ZM313.0,81.0 316.5,80.5 320.0,86.0 321.8,92.0 319.5,95.5 316.0,93.0 314.0,87.0ZM317.0,78.0 320.0,77.2 324.3,83.0 323.5,86.3 320.5,85.0ZM321.5,71.0 325.5,70.5 327.7,75.5 327.0,79.7 323.5,78.5ZM391.0,63.5 393.5,63.0 395.2,67.0 394.0,69.7 391.5,68.5ZM458.5,162.0 464.5,160.8 465.0,166.0 463.0,170.8 459.5,168.0ZM508.5,268.0 511.5,268.5 511.0,271.0 508.5,270.5ZM510.5,277.5 513.5,277.5 513.5,280.5 510.5,280.5ZM169.0,335.5 174.0,335.0 175.0,338.0 171.0,339.5ZM212.5,304.5 217.0,304.0 220.5,305.5 218.0,307.0 213.0,306.5ZM329.5,94.0 333.0,91.9 337.0,94.0 336.5,99.0 332.0,100.5 329.4,98.0ZM337.2,93.0 339.5,91.9 340.6,95.0 338.5,97.0ZM339.0,99.0 341.5,97.9 343.1,100.0 341.0,102.2ZM340.0,89.5 343.0,88.4 344.0,91.5 341.5,92.7ZM333.0,105.0 337.0,103.0 343.5,104.0 343.9,108.0 339.0,110.8 335.5,108.5ZM340.6,121.0 344.0,119.3 346.6,120.5 343.5,123.6ZM350.2,127.5 352.5,126.2 354.3,130.0 352.5,132.2ZM354.5,135.5 356.8,134.0 358.6,138.0 357.0,140.8 355.0,139.0ZM309.6,130.0 312.0,128.8 313.5,131.5 311.0,133.0ZM313.5,131.0 316.0,130.5 318.2,133.5 316.0,135.7ZM311.4,137.0 313.5,135.7 315.7,138.5 313.5,140.0ZM319.2,153.5 321.0,152.8 323.4,157.5 321.5,158.8ZM469.5,212.5 473.0,211.0 474.3,214.0 471.0,217.6Z" fill="#6b6b6b"/>
<circle cx="346.4" cy="143" r="2.6" fill="#3a3a3a"/><circle cx="387.4" cy="179.6" r="2.6" fill="#3a3a3a"/><circle cx="413" cy="221.6" r="2.6" fill="#3a3a3a"/><circle cx="368" cy="260.4" r="2.6" fill="#3a3a3a"/><circle cx="306.4" cy="279.4" r="2.6" fill="#3a3a3a"/><circle cx="261" cy="280" r="2.6" fill="#3a3a3a"/><circle cx="416.8" cy="298.4" r="2.6" fill="#3a3a3a"/><circle cx="378.6" cy="304" r="2.6" fill="#3a3a3a"/><circle cx="325.2" cy="321" r="2.6" fill="#3a3a3a"/><circle cx="362.4" cy="327.4" r="2.6" fill="#3a3a3a"/><circle cx="287.6" cy="339.4" r="2.6" fill="#3a3a3a"/><circle cx="389.6" cy="364" r="2.6" fill="#3a3a3a"/><circle cx="435.2" cy="378.8" r="2.6" fill="#3a3a3a"/><circle cx="319.6" cy="396.6" r="2.6" fill="#3a3a3a"/><g><text class="b" x="384" y="212" font-size="25" text-anchor="middle" transform="rotate(-35,384,204) translate(384,0) scale(0.88,1) translate(-384,0)">7.9</text><text class="b" x="336" y="354" font-size="25" text-anchor="middle" transform="rotate(0,336,346) translate(336,0) scale(0.88,1) translate(-336,0)">8</text></g>
</g></g>
<g clip-path="url(#clipC)"><g transform="translate(-4.5,466)">
<path d="M104.0,50.0 250.2,50.0 248.9,54.7 246.0,58.0 245.6,59.7 249.3,60.5 252.7,63.0 254.3,66.3 256.0,71.3 259.3,73.8 263.5,74.7 267.7,78.0 271.0,81.3 274.3,83.0 276.4,84.7 275.2,89.7 272.7,94.7 269.3,98.0 265.2,99.7 262.7,103.0 262.7,107.2 261.0,110.5 257.7,113.0 255.2,117.5 251.0,115.0 248.5,113.0 243.5,111.3 239.3,110.5 238.5,108.0 241.0,102.2 240.2,93.8 239.3,88.0 236.8,81.3 235.6,83.0 235.2,89.7 234.3,98.0 232.7,104.7 234.7,110.0 236.0,117.0 238.0,121.0 243.0,121.0 244.6,124.0 243.0,128.5 239.7,132.0 236.1,134.9 232.6,137.7 236.1,138.0 240.4,137.0 242.5,139.8 243.2,144.8 243.2,151.8 244.6,155.4 246.4,155.4 245.3,150.4 245.3,144.8 248.2,140.5 250.3,136.3 251.0,131.3 253.1,129.2 255.9,131.3 260.2,131.3 263.0,125.7 264.4,121.4 268.7,119.3 270.1,113.7 272.9,113.7 275.0,112.2 278.6,110.8 284.2,111.5 285.6,113.0 288.5,120.7 290.6,125.0 289.2,127.8 285.6,129.9 283.5,134.9 281.4,139.1 277.9,142.0 271.5,145.5 275.0,147.6 271.5,153.3 270.1,156.8 272.9,158.9 276.5,156.1 280.0,156.8 280.7,163.2 282.1,168.8 283.5,168.1 282.8,161.7 283.5,154.0 285.6,149.0 288.5,146.2 289.9,142.0 296.3,139.1 303.3,137.7 309.0,140.5 313.2,147.6 315.4,157.5 314.0,162.0 312.0,171.7 312.0,182.6 313.0,188.0 308.7,189.1 304.3,187.0 300.0,188.0 292.4,193.5 283.7,200.0 285.9,201.1 294.6,195.7 301.0,192.4 302.2,195.7 299.0,202.2 294.6,207.6 293.5,215.2 289.0,220.7 282.6,225.0 276.0,227.2 273.9,230.4 271.7,237.0 269.6,247.8 269.0,253.3 264.0,263.3 260.7,273.3 257.3,279.2 250.7,280.8 237.3,283.3 224.0,286.7 209.0,290.8 206.5,286.7 206.5,280.8 211.5,273.3 216.5,266.7 220.7,260.0 222.5,257.5 222.0,255.0 219.0,259.2 214.0,265.8 208.2,272.5 204.0,278.3 201.5,281.7 202.3,286.7 205.5,293.0 204.0,303.3 200.7,307.5 192.3,305.8 187.3,305.0 197.3,311.7 204.0,312.5 205.7,315.0 200.7,318.3 190.7,320.0 179.0,323.3 170.7,327.5 145.7,326.7 124.0,326.7 109.0,325.0 108.2,316.7 109.0,306.7 114.0,300.0 115.7,291.7 110.7,283.3 107.3,276.7 109.0,272.5 115.7,270.8 123.2,271.7 130.7,273.3 140.7,272.5 143.2,269.6 148.2,269.2 155.7,272.5 157.3,277.5 156.5,281.7 155.7,285.8 152.3,288.3 154.0,290.0 157.3,292.5 160.7,294.2 164.8,291.7 164.0,288.3 163.2,281.7 161.5,275.0 159.8,270.0 156.5,269.2 154.4,265.8 156.5,261.7 160.7,258.3 165.7,257.5 166.1,253.3 164.0,250.8 159.0,253.3 154.0,257.5 148.2,260.0 142.3,261.7 135.7,257.5 132.8,252.5 132.8,247.5 136.5,243.3 141.5,239.2 139.8,232.5 136.9,227.5 139.0,224.6 143.2,225.8 146.5,224.2 149.0,220.5 153.0,219.0 157.5,219.5 161.0,218.0 157.3,216.7 160.7,213.3 164.0,208.3 167.3,203.3 170.7,201.7 179.0,198.3 180.7,195.8 184.0,190.0 184.8,186.7 180.7,187.9 174.0,189.6 167.3,191.7 160.7,191.7 155.7,195.0 150.7,200.0 145.7,201.7 139.0,205.8 134.8,207.5 132.3,205.8 133.2,201.7 137.3,195.8 139.8,190.0 140.7,184.2 143.2,181.7 148.2,176.7 150.7,172.5 153.2,170.8 153.6,162.9 151.9,161.7 148.2,164.2 144.0,168.3 139.8,173.3 134.8,176.7 131.5,171.7 129.8,168.3 128.2,167.5 129.0,171.7 132.8,175.0 134.8,180.0 129.0,184.2 120.7,188.3 112.3,191.2 104.0,192.9ZM307.3,50.0 402.7,50.0 401.8,53.0 400.2,58.0 396.0,62.2 391.0,63.0 387.7,64.7 391.0,67.2 393.5,71.3 391.8,75.5 390.2,83.0 386.0,91.3 382.7,98.8 378.5,101.3 375.2,103.0 373.5,108.0 369.3,113.8 365.2,119.7 361.0,124.7 356.8,126.3 352.7,123.0 348.5,117.2 346.8,110.5 346.0,102.2 345.2,94.7 344.3,88.0 341.8,81.3 341.0,70.5 338.5,73.0 334.3,79.7 332.7,81.3 331.8,75.5 330.2,69.7 326.0,72.0 321.0,71.3 317.7,72.2 314.3,68.8 311.8,64.7 311.0,60.5 308.5,56.3ZM414.3,50.0 620.0,50.0 620.0,245.3 618.2,244.2 612.9,241.0 605.5,234.7 600.2,229.4 591.7,219.9 586.4,220.9 575.9,219.9 569.5,218.8 565.3,226.2 561.0,230.4 549.4,236.8 546.2,243.2 536.0,246.0 526.0,252.0 520.0,260.0 522.0,265.0 516.0,266.0 512.0,260.0 506.0,252.0 500.7,245.3 499.6,236.8 501.8,231.5 507.0,225.2 501.8,222.0 499.6,215.6 491.2,210.3 480.6,207.2 472.1,206.1 473.2,199.8 476.4,192.3 477.4,186.0 480.6,186.0 481.6,190.2 485.9,190.8 496.5,190.2 508.1,190.2 518.7,187.0 526.1,180.7 514.5,182.8 507.5,183.0 508.1,177.5 509.2,171.7 506.0,174.3 505.0,181.0 499.6,183.0 491.2,182.8 480.6,175.4 478.5,171.2 481.6,170.1 479.5,165.9 474.8,163.8 475.0,154.2 475.8,143.3 475.0,140.0 478.3,133.3 480.0,120.8 482.5,112.5 483.3,100.0 481.0,97.0 478.0,98.0 475.0,113.3 471.7,120.8 466.7,125.0 463.3,130.8 459.2,136.7 457.5,146.7 454.2,143.3 446.7,142.5 443.3,140.0 442.5,132.5 437.5,128.3 435.0,125.0 429.2,122.5 420.8,119.2 412.5,114.2 405.0,112.5 402.5,110.0 404.2,107.5 408.5,103.8 402.7,101.3 397.7,98.0 396.0,94.7 398.5,89.7 401.0,81.3 401.8,68.8 403.5,63.0 411.0,62.2 412.7,60.5 410.2,57.2 411.0,53.8Z" fill="#6b6b6b"/>
<path d="M317.0,50.0 322.0,55.0 325.5,61.0 327.5,66.0 330.0,71.0" fill="none" stroke="#fff" stroke-width="1.6" stroke-linecap="round"/>
<path d="M606.0,134.0 612.0,139.0 620.0,144.0" fill="none" stroke="#fff" stroke-width="1.8" stroke-linecap="round"/>
<path d="M617.0,150.0 619.5,158.0" fill="none" stroke="#fff" stroke-width="1.5" stroke-linecap="round"/>
<path d="M279.3,81.3 289.3,81.3 288.5,87.2 284.3,91.3 279.3,96.3 276.8,98.8 276.0,94.7 277.7,87.2ZM293.5,87.2 298.5,94.7 292.7,96.3 287.7,93.8ZM284.5,94.5 288.0,95.5 291.8,98.5 290.5,100.0 286.0,98.5ZM281.0,99.0 284.5,98.8 286.8,103.0 285.5,106.3 282.5,105.0ZM289.3,101.5 296.0,101.5 297.7,105.0 295.5,108.0 292.0,106.5 289.5,105.5ZM301.8,64.0 304.0,64.5 305.2,68.5 303.0,68.8ZM305.5,78.0 309.0,77.2 311.8,82.0 310.0,85.5 307.0,84.0ZM309.5,73.0 312.0,72.2 313.0,76.5 310.5,77.5ZM313.0,73.0 315.5,73.0 316.0,77.0 314.0,77.5ZM313.0,81.0 316.5,80.5 320.0,86.0 321.8,92.0 319.5,95.5 316.0,93.0 314.0,87.0ZM317.0,78.0 320.0,77.2 324.3,83.0 323.5,86.3 320.5,85.0ZM321.5,71.0 325.5,70.5 327.7,75.5 327.0,79.7 323.5,78.5ZM391.0,63.5 393.5,63.0 395.2,67.0 394.0,69.7 391.5,68.5ZM458.5,162.0 464.5,160.8 465.0,166.0 463.0,170.8 459.5,168.0ZM508.5,268.0 511.5,268.5 511.0,271.0 508.5,270.5ZM510.5,277.5 513.5,277.5 513.5,280.5 510.5,280.5ZM169.0,335.5 174.0,335.0 175.0,338.0 171.0,339.5ZM212.5,304.5 217.0,304.0 220.5,305.5 218.0,307.0 213.0,306.5ZM329.5,94.0 333.0,91.9 337.0,94.0 336.5,99.0 332.0,100.5 329.4,98.0ZM337.2,93.0 339.5,91.9 340.6,95.0 338.5,97.0ZM339.0,99.0 341.5,97.9 343.1,100.0 341.0,102.2ZM340.0,89.5 343.0,88.4 344.0,91.5 341.5,92.7ZM333.0,105.0 337.0,103.0 343.5,104.0 343.9,108.0 339.0,110.8 335.5,108.5ZM340.6,121.0 344.0,119.3 346.6,120.5 343.5,123.6ZM350.2,127.5 352.5,126.2 354.3,130.0 352.5,132.2ZM354.5,135.5 356.8,134.0 358.6,138.0 357.0,140.8 355.0,139.0ZM309.6,130.0 312.0,128.8 313.5,131.5 311.0,133.0ZM313.5,131.0 316.0,130.5 318.2,133.5 316.0,135.7ZM311.4,137.0 313.5,135.7 315.7,138.5 313.5,140.0ZM319.2,153.5 321.0,152.8 323.4,157.5 321.5,158.8ZM469.5,212.5 473.0,211.0 474.3,214.0 471.0,217.6Z" fill="#6b6b6b"/>
</g></g>
<g clip-path="url(#clipC)"><defs><clipPath id="bcC"><path d="M321.7,700.0 C325.8,697.4 333.1,691.3 339.4,688.9 C345.7,686.5 352.0,685.8 359.4,685.6 C366.8,685.4 376.5,685.8 383.9,687.8 C391.3,689.8 398.7,693.9 403.9,697.8 C409.1,701.7 412.8,706.6 415.0,711.0 C417.2,715.4 414.2,721.6 417.2,724.4 C420.2,727.2 427.2,726.3 432.8,727.8 C438.4,729.3 445.4,730.1 450.6,733.3 C455.8,736.4 460.8,741.5 463.9,746.7 C467.0,751.9 469.4,758.5 469.4,764.4 C469.4,770.3 467.0,777.0 463.9,782.2 C460.8,787.4 455.4,792.6 450.6,795.6 C445.8,798.6 439.1,798.9 435.0,800.0 C430.9,801.1 425.7,801.2 426.1,802.5 C426.5,803.8 432.4,806.4 437.2,807.8 C442.0,809.2 449.1,809.1 455.0,811.1 C460.9,813.1 467.8,815.9 472.8,820.0 C477.8,824.1 482.4,830.8 485.0,835.6 C487.6,840.4 488.5,844.1 488.3,848.9 C488.1,853.7 486.8,859.9 483.9,864.4 C480.9,868.9 476.2,872.6 470.6,875.6 C465.1,878.6 457.7,880.9 450.6,882.2 C443.6,883.5 435.4,883.8 428.3,883.3 C421.2,882.8 414.2,880.9 408.3,878.9 C402.4,876.9 397.2,873.5 392.8,871.1 C388.4,868.7 385.2,865.1 381.7,864.4 C378.2,863.7 374.6,865.1 372.0,867.0 C369.4,868.9 368.2,872.7 366.1,875.6 C364.0,878.5 362.7,881.5 359.4,884.4 C356.1,887.3 351.7,890.9 346.1,893.3 C340.6,895.7 333.1,898.0 326.1,898.9 C319.1,899.8 311.3,899.8 303.9,898.9 C296.5,898.0 288.0,896.1 281.7,893.3 C275.4,890.5 270.0,886.6 266.1,882.2 C262.2,877.8 259.6,871.5 258.3,866.7 C257.0,861.9 257.7,857.4 258.3,853.3 C258.9,849.2 262.6,845.2 261.7,842.2 C260.8,839.2 256.9,837.5 252.8,835.6 C248.7,833.8 241.3,834.1 237.2,831.1 C233.1,828.1 230.2,822.2 228.3,817.8 C226.5,813.3 226.1,809.2 226.1,804.4 C226.1,799.6 226.5,793.3 228.3,788.9 C230.2,784.5 233.5,780.8 237.2,777.8 C240.9,774.8 247.6,772.6 250.6,771.1 C253.6,769.6 255.4,771.5 255.0,768.9 C254.6,766.3 249.8,760.0 248.3,755.6 C246.8,751.2 245.7,747.4 246.1,742.2 C246.5,737.0 247.3,729.6 250.6,724.4 C253.9,719.2 260.9,714.0 266.1,711.1 C271.3,708.2 275.4,707.6 281.7,706.7 C288.0,705.8 298.3,706.0 303.9,705.6 C309.4,705.2 312.0,705.3 315.0,704.4 C318.0,703.5 317.6,702.6 321.7,700.0Z"/></clipPath><filter id="bfC" x="-5%" y="-5%" width="110%" height="110%"><feGaussianBlur stdDeviation="1.5"/></filter></defs><g clip-path="url(#bcC)"><g filter="url(#bfC)"><rect x="215" y="670" width="285" height="240" fill="#5d3bf0"/><path d="M215.0,670.0 215.0,909.0 499.0,909.0 499.0,670.0Z" fill="#5349f0" fill-rule="evenodd"/><path d="M215.0,670.0 215.0,909.0 499.0,909.0 499.0,670.0ZM259.0,801.0 261.0,798.0 269.0,795.0 278.0,795.0 281.0,798.0 281.0,802.0 277.0,806.0 273.0,808.0 266.0,807.0Z" fill="#4d55f0" fill-rule="evenodd"/><path d="M215.0,670.0 215.0,796.0 216.0,795.0 222.0,794.0 225.0,792.0 230.0,791.0 246.0,783.0 248.0,783.0 249.0,782.0 254.0,782.0 255.0,783.0 257.0,783.0 263.0,788.0 267.0,790.0 281.0,790.0 282.0,791.0 284.0,791.0 288.0,795.0 291.0,802.0 290.0,808.0 286.0,812.0 280.0,815.0 273.0,815.0 265.0,812.0 258.0,813.0 242.0,823.0 239.0,826.0 235.0,828.0 215.0,843.0 215.0,909.0 499.0,909.0 499.0,670.0Z" fill="#4562f0" fill-rule="evenodd"/><path d="M215.0,670.0 215.0,764.0 216.0,765.0 222.0,765.0 223.0,766.0 229.0,766.0 230.0,767.0 235.0,767.0 236.0,768.0 244.0,769.0 250.0,772.0 267.0,787.0 269.0,787.0 270.0,788.0 284.0,788.0 285.0,789.0 287.0,789.0 292.0,794.0 296.0,802.0 296.0,809.0 291.0,815.0 283.0,819.0 276.0,819.0 267.0,815.0 261.0,815.0 243.0,826.0 215.0,847.0 215.0,909.0 499.0,909.0 499.0,670.0Z" fill="#3b6ef0" fill-rule="evenodd"/><path d="M215.0,670.0 215.0,741.0 247.0,760.0 254.0,767.0 261.0,779.0 268.0,785.0 270.0,785.0 271.0,786.0 286.0,786.0 293.0,790.0 298.0,796.0 300.0,801.0 300.0,804.0 301.0,805.0 299.0,812.0 295.0,816.0 288.0,820.0 286.0,820.0 282.0,822.0 275.0,821.0 267.0,817.0 261.0,817.0 257.0,819.0 215.0,849.0 215.0,909.0 499.0,909.0 499.0,670.0Z" fill="#327bf0" fill-rule="evenodd"/><path d="M215.0,670.0 215.0,735.0 218.0,736.0 220.0,738.0 223.0,739.0 225.0,741.0 235.0,746.0 237.0,748.0 240.0,749.0 242.0,751.0 251.0,756.0 256.0,761.0 261.0,774.0 267.0,781.0 271.0,783.0 284.0,783.0 285.0,784.0 291.0,785.0 299.0,789.0 305.0,796.0 305.0,806.0 304.0,807.0 304.0,809.0 302.0,813.0 296.0,818.0 286.0,823.0 277.0,823.0 269.0,819.0 266.0,819.0 265.0,818.0 261.0,819.0 251.0,825.0 248.0,828.0 244.0,830.0 241.0,833.0 237.0,835.0 234.0,838.0 230.0,840.0 223.0,846.0 215.0,851.0 215.0,909.0 499.0,909.0 499.0,670.0Z" fill="#2987f0" fill-rule="evenodd"/><path d="M287.0,670.0 296.0,686.0 309.0,705.0 312.0,712.0 312.0,724.0 311.0,725.0 311.0,728.0 309.0,733.0 308.0,743.0 307.0,744.0 307.0,746.0 303.0,750.0 301.0,750.0 300.0,751.0 290.0,751.0 289.0,750.0 282.0,750.0 281.0,751.0 279.0,751.0 268.0,761.0 266.0,765.0 266.0,769.0 268.0,773.0 274.0,778.0 277.0,778.0 278.0,779.0 285.0,780.0 289.0,782.0 298.0,783.0 299.0,784.0 304.0,785.0 307.0,788.0 312.0,798.0 312.0,801.0 306.0,812.0 298.0,819.0 284.0,825.0 279.0,825.0 268.0,820.0 262.0,820.0 255.0,824.0 252.0,827.0 248.0,829.0 245.0,832.0 241.0,834.0 234.0,840.0 230.0,842.0 223.0,848.0 215.0,853.0 215.0,909.0 499.0,909.0 499.0,670.0Z" fill="#2593ea" fill-rule="evenodd"/><path d="M313.0,670.0 315.0,673.0 315.0,675.0 317.0,678.0 317.0,680.0 321.0,690.0 321.0,703.0 320.0,704.0 319.0,718.0 318.0,719.0 318.0,726.0 317.0,727.0 318.0,745.0 315.0,752.0 311.0,756.0 305.0,759.0 298.0,759.0 297.0,760.0 292.0,760.0 290.0,761.0 288.0,765.0 288.0,772.0 289.0,773.0 289.0,775.0 291.0,777.0 293.0,777.0 294.0,778.0 301.0,778.0 307.0,781.0 312.0,793.0 317.0,800.0 317.0,803.0 307.0,815.0 303.0,818.0 291.0,824.0 289.0,824.0 285.0,826.0 278.0,826.0 267.0,821.0 261.0,822.0 249.0,831.0 245.0,833.0 234.0,842.0 230.0,844.0 223.0,850.0 215.0,855.0 215.0,909.0 499.0,909.0 499.0,670.0Z" fill="#20a1e2" fill-rule="evenodd"/><path d="M215.0,858.0 215.0,909.0 499.0,909.0 499.0,670.0 338.0,670.0 339.0,672.0 339.0,677.0 340.0,678.0 340.0,683.0 341.0,684.0 341.0,689.0 342.0,690.0 342.0,695.0 343.0,696.0 343.0,708.0 341.0,712.0 337.0,716.0 331.0,719.0 328.0,722.0 328.0,726.0 334.0,735.0 334.0,738.0 335.0,739.0 334.0,741.0 334.0,746.0 332.0,750.0 327.0,755.0 317.0,759.0 310.0,766.0 311.0,785.0 316.0,795.0 323.0,802.0 323.0,807.0 319.0,811.0 313.0,814.0 311.0,816.0 286.0,827.0 279.0,827.0 278.0,826.0 273.0,825.0 270.0,823.0 263.0,823.0 253.0,829.0Z" fill="#1aaed8" fill-rule="evenodd"/><path d="M215.0,860.0 215.0,909.0 499.0,909.0 499.0,670.0 343.0,670.0 344.0,680.0 345.0,681.0 345.0,686.0 346.0,687.0 346.0,692.0 347.0,693.0 347.0,698.0 348.0,699.0 348.0,711.0 346.0,716.0 346.0,723.0 345.0,724.0 345.0,738.0 344.0,739.0 343.0,747.0 340.0,753.0 340.0,755.0 336.0,761.0 328.0,769.0 324.0,770.0 317.0,774.0 314.0,779.0 314.0,787.0 315.0,788.0 315.0,790.0 318.0,794.0 326.0,798.0 331.0,804.0 331.0,807.0 329.0,811.0 319.0,817.0 313.0,818.0 312.0,819.0 308.0,819.0 286.0,828.0 279.0,828.0 269.0,824.0 264.0,824.0 257.0,828.0 241.0,840.0 237.0,844.0Z" fill="#14b8cb" fill-rule="evenodd"/><path d="M318.0,780.0 317.0,782.0 317.0,788.0 318.0,790.0 324.0,794.0 329.0,793.0 331.0,790.0 331.0,785.0 330.0,783.0 325.0,779.0 320.0,779.0ZM499.0,670.0 358.0,670.0 358.0,672.0 359.0,673.0 360.0,696.0 351.0,714.0 351.0,719.0 350.0,720.0 350.0,730.0 351.0,731.0 352.0,736.0 358.0,743.0 361.0,749.0 361.0,756.0 362.0,757.0 362.0,770.0 363.0,771.0 363.0,778.0 364.0,779.0 364.0,791.0 361.0,796.0 358.0,798.0 356.0,798.0 355.0,799.0 350.0,799.0 342.0,802.0 339.0,805.0 337.0,809.0 332.0,814.0 319.0,820.0 303.0,822.0 286.0,829.0 280.0,829.0 269.0,825.0 263.0,826.0 231.0,850.0 227.0,854.0 218.0,860.0 215.0,863.0 215.0,909.0 499.0,909.0Z" fill="#11bebc" fill-rule="evenodd"/><path d="M499.0,670.0 374.0,670.0 374.0,704.0 373.0,705.0 373.0,707.0 368.0,712.0 359.0,715.0 357.0,718.0 357.0,728.0 358.0,730.0 362.0,734.0 372.0,738.0 377.0,743.0 377.0,745.0 379.0,749.0 379.0,752.0 381.0,756.0 382.0,763.0 383.0,764.0 383.0,772.0 382.0,773.0 382.0,776.0 376.0,788.0 375.0,793.0 372.0,799.0 367.0,806.0 357.0,815.0 352.0,815.0 351.0,816.0 349.0,816.0 348.0,815.0 336.0,815.0 319.0,822.0 315.0,822.0 314.0,823.0 304.0,823.0 285.0,830.0 281.0,830.0 273.0,827.0 265.0,827.0 260.0,830.0 243.0,844.0 233.0,851.0 229.0,855.0 215.0,865.0 215.0,909.0 499.0,909.0Z" fill="#10c2aa" fill-rule="evenodd"/><path d="M499.0,670.0 382.0,670.0 382.0,701.0 381.0,702.0 381.0,706.0 378.0,713.0 378.0,726.0 381.0,733.0 383.0,735.0 386.0,741.0 388.0,759.0 390.0,764.0 391.0,774.0 392.0,775.0 392.0,779.0 394.0,784.0 394.0,791.0 393.0,792.0 393.0,796.0 392.0,797.0 391.0,802.0 385.0,807.0 375.0,809.0 366.0,817.0 359.0,820.0 346.0,820.0 341.0,818.0 333.0,818.0 317.0,824.0 304.0,824.0 289.0,830.0 278.0,830.0 274.0,828.0 266.0,828.0 264.0,829.0 237.0,851.0 232.0,854.0 228.0,858.0 215.0,867.0 215.0,909.0 499.0,909.0Z" fill="#10c294" fill-rule="evenodd"/><path d="M499.0,670.0 442.0,670.0 410.0,716.0 405.0,721.0 398.0,724.0 395.0,728.0 395.0,732.0 394.0,733.0 394.0,748.0 393.0,749.0 394.0,759.0 395.0,760.0 396.0,765.0 406.0,781.0 406.0,783.0 404.0,788.0 401.0,792.0 401.0,794.0 399.0,798.0 396.0,814.0 391.0,820.0 386.0,822.0 379.0,823.0 378.0,824.0 372.0,824.0 371.0,823.0 348.0,823.0 340.0,820.0 331.0,820.0 319.0,825.0 305.0,825.0 304.0,826.0 301.0,826.0 288.0,831.0 279.0,831.0 274.0,829.0 268.0,829.0 264.0,831.0 232.0,857.0 215.0,868.0 215.0,909.0 499.0,909.0Z" fill="#10c07e" fill-rule="evenodd"/><path d="M499.0,670.0 462.0,670.0 420.0,721.0 417.0,728.0 416.0,740.0 414.0,744.0 406.0,752.0 404.0,755.0 404.0,758.0 403.0,759.0 407.0,769.0 418.0,784.0 418.0,789.0 409.0,799.0 404.0,808.0 403.0,815.0 402.0,816.0 402.0,832.0 397.0,838.0 390.0,841.0 385.0,841.0 377.0,837.0 369.0,829.0 364.0,826.0 352.0,826.0 351.0,825.0 347.0,825.0 337.0,821.0 329.0,822.0 328.0,823.0 326.0,823.0 319.0,826.0 316.0,826.0 315.0,827.0 309.0,827.0 308.0,826.0 306.0,827.0 301.0,827.0 300.0,828.0 298.0,828.0 291.0,831.0 288.0,831.0 287.0,832.0 281.0,832.0 280.0,831.0 276.0,831.0 275.0,830.0 269.0,830.0 262.0,834.0 233.0,858.0 229.0,860.0 223.0,865.0 215.0,869.0 215.0,909.0 499.0,909.0Z" fill="#10c06c" fill-rule="evenodd"/><path d="M499.0,670.0 467.0,670.0 424.0,722.0 421.0,728.0 421.0,732.0 420.0,733.0 421.0,734.0 421.0,748.0 416.0,759.0 416.0,764.0 420.0,773.0 428.0,785.0 429.0,796.0 430.0,797.0 431.0,811.0 428.0,817.0 418.0,822.0 411.0,828.0 409.0,832.0 408.0,837.0 406.0,840.0 406.0,843.0 404.0,846.0 404.0,848.0 400.0,854.0 396.0,855.0 384.0,849.0 378.0,845.0 365.0,831.0 361.0,829.0 350.0,828.0 339.0,823.0 330.0,823.0 329.0,824.0 327.0,824.0 320.0,827.0 317.0,827.0 316.0,828.0 302.0,828.0 301.0,829.0 298.0,829.0 297.0,830.0 295.0,830.0 291.0,832.0 287.0,832.0 286.0,833.0 278.0,832.0 277.0,831.0 270.0,831.0 269.0,832.0 267.0,832.0 259.0,838.0 254.0,843.0 253.0,843.0 249.0,847.0 248.0,847.0 244.0,851.0 228.0,863.0 222.0,866.0 220.0,868.0 215.0,870.0 215.0,909.0 499.0,909.0Z" fill="#10bf5d" fill-rule="evenodd"/><path d="M396.0,905.0 395.0,904.0 395.0,893.0 394.0,892.0 394.0,889.0 381.0,865.0 378.0,854.0 374.0,847.0 370.0,843.0 370.0,842.0 361.0,834.0 351.0,831.0 345.0,828.0 343.0,826.0 341.0,826.0 338.0,824.0 331.0,824.0 330.0,825.0 327.0,825.0 316.0,829.0 302.0,829.0 301.0,830.0 298.0,830.0 290.0,833.0 270.0,832.0 261.0,838.0 256.0,843.0 255.0,843.0 237.0,858.0 220.0,869.0 215.0,871.0 215.0,909.0 396.0,909.0ZM499.0,711.0 458.0,740.0 449.0,744.0 445.0,744.0 444.0,745.0 436.0,745.0 435.0,746.0 433.0,746.0 430.0,750.0 430.0,762.0 431.0,763.0 431.0,769.0 432.0,770.0 432.0,774.0 433.0,775.0 433.0,779.0 434.0,780.0 434.0,785.0 435.0,786.0 436.0,794.0 443.0,810.0 443.0,823.0 441.0,827.0 438.0,830.0 434.0,832.0 426.0,834.0 423.0,836.0 421.0,836.0 417.0,839.0 417.0,845.0 423.0,856.0 428.0,861.0 432.0,863.0 450.0,868.0 456.0,872.0 465.0,883.0 467.0,887.0 473.0,894.0 483.0,909.0 499.0,909.0Z" fill="#10bc51" fill-rule="evenodd"/><path d="M391.0,895.0 390.0,894.0 389.0,887.0 385.0,880.0 371.0,866.0 369.0,861.0 368.0,849.0 366.0,845.0 363.0,842.0 354.0,837.0 346.0,830.0 336.0,825.0 328.0,826.0 317.0,830.0 303.0,830.0 302.0,831.0 299.0,831.0 298.0,832.0 295.0,832.0 290.0,834.0 271.0,833.0 263.0,838.0 236.0,860.0 227.0,865.0 225.0,867.0 215.0,872.0 215.0,909.0 391.0,909.0Z" fill="#13b644" fill-rule="evenodd"/><path d="M380.0,903.0 379.0,902.0 379.0,899.0 378.0,898.0 377.0,893.0 368.0,874.0 368.0,872.0 365.0,865.0 365.0,862.0 364.0,861.0 364.0,855.0 363.0,854.0 362.0,849.0 357.0,844.0 356.0,844.0 342.0,829.0 338.0,827.0 329.0,827.0 328.0,828.0 325.0,828.0 317.0,831.0 305.0,831.0 304.0,832.0 299.0,832.0 298.0,833.0 295.0,833.0 290.0,835.0 282.0,835.0 281.0,834.0 276.0,834.0 275.0,833.0 274.0,834.0 271.0,834.0 266.0,837.0 251.0,850.0 239.0,859.0 215.0,873.0 215.0,909.0 380.0,909.0Z" fill="#18b038" fill-rule="evenodd"/><path d="M360.0,855.0 358.0,851.0 349.0,842.0 343.0,832.0 339.0,829.0 337.0,829.0 336.0,828.0 330.0,828.0 329.0,829.0 322.0,830.0 318.0,832.0 300.0,833.0 299.0,834.0 290.0,835.0 289.0,836.0 283.0,836.0 282.0,835.0 278.0,835.0 277.0,834.0 271.0,835.0 242.0,858.0 233.0,864.0 230.0,865.0 228.0,867.0 215.0,873.0 215.0,909.0 362.0,909.0 361.0,901.0 360.0,900.0 360.0,893.0 361.0,892.0 361.0,888.0 362.0,887.0 363.0,879.0 364.0,878.0 364.0,872.0 363.0,871.0 363.0,867.0 362.0,866.0Z" fill="#1fab2e" fill-rule="evenodd"/><path d="M359.0,861.0 355.0,853.0 348.0,845.0 343.0,835.0 337.0,830.0 327.0,830.0 326.0,831.0 323.0,831.0 318.0,833.0 314.0,833.0 313.0,834.0 302.0,834.0 301.0,835.0 290.0,836.0 289.0,837.0 285.0,837.0 284.0,836.0 280.0,836.0 279.0,835.0 274.0,835.0 267.0,839.0 253.0,851.0 236.0,863.0 215.0,874.0 215.0,909.0 360.0,909.0 359.0,903.0 358.0,902.0 358.0,898.0 357.0,897.0 358.0,886.0 359.0,885.0 359.0,882.0 361.0,877.0 361.0,869.0 360.0,868.0Z" fill="#29a828" fill-rule="evenodd"/><path d="M358.0,865.0 356.0,860.0 347.0,848.0 344.0,842.0 344.0,840.0 340.0,834.0 337.0,832.0 330.0,831.0 329.0,832.0 325.0,832.0 324.0,833.0 316.0,834.0 315.0,835.0 306.0,835.0 305.0,836.0 298.0,836.0 297.0,837.0 291.0,837.0 290.0,838.0 286.0,838.0 285.0,837.0 281.0,837.0 280.0,836.0 274.0,836.0 270.0,838.0 256.0,850.0 236.0,864.0 229.0,867.0 227.0,869.0 217.0,874.0 215.0,874.0 215.0,909.0 359.0,909.0 358.0,908.0 358.0,905.0 356.0,900.0 356.0,894.0 355.0,893.0 356.0,891.0 356.0,885.0 357.0,884.0 357.0,881.0 359.0,876.0 359.0,869.0 358.0,868.0Z" fill="#35a521" fill-rule="evenodd"/><path d="M357.0,868.0 354.0,861.0 347.0,853.0 342.0,840.0 338.0,835.0 334.0,833.0 328.0,833.0 327.0,834.0 322.0,834.0 321.0,835.0 317.0,835.0 316.0,836.0 301.0,837.0 300.0,838.0 293.0,838.0 292.0,839.0 286.0,839.0 285.0,838.0 281.0,838.0 280.0,837.0 275.0,837.0 268.0,841.0 255.0,852.0 239.0,863.0 215.0,875.0 215.0,909.0 358.0,909.0 356.0,905.0 355.0,897.0 354.0,896.0 354.0,887.0 355.0,886.0 355.0,882.0 357.0,877.0Z" fill="#42a61b" fill-rule="evenodd"/><path d="M355.0,867.0 353.0,863.0 345.0,854.0 342.0,844.0 340.0,840.0 336.0,836.0 334.0,836.0 333.0,835.0 326.0,835.0 325.0,836.0 320.0,836.0 319.0,837.0 314.0,837.0 313.0,838.0 306.0,838.0 305.0,839.0 297.0,839.0 296.0,840.0 286.0,840.0 281.0,838.0 275.0,838.0 271.0,840.0 258.0,851.0 242.0,862.0 215.0,876.0 215.0,909.0 357.0,909.0 356.0,908.0 356.0,905.0 355.0,904.0 354.0,897.0 353.0,896.0 353.0,884.0 355.0,879.0Z" fill="#54ab12" fill-rule="evenodd"/><path d="M354.0,870.0 352.0,865.0 344.0,856.0 339.0,842.0 334.0,838.0 332.0,838.0 331.0,837.0 324.0,837.0 323.0,838.0 317.0,838.0 316.0,839.0 310.0,839.0 309.0,840.0 302.0,840.0 301.0,841.0 286.0,841.0 281.0,839.0 276.0,839.0 269.0,843.0 261.0,850.0 247.0,860.0 233.0,867.0 231.0,869.0 227.0,870.0 215.0,876.0 215.0,909.0 356.0,909.0 354.0,904.0 353.0,897.0 352.0,896.0 352.0,882.0 353.0,881.0 353.0,877.0 354.0,876.0Z" fill="#6db10b" fill-rule="evenodd"/><path d="M352.0,869.0 349.0,864.0 342.0,857.0 338.0,844.0 333.0,840.0 330.0,840.0 329.0,839.0 322.0,839.0 321.0,840.0 314.0,840.0 313.0,841.0 298.0,842.0 297.0,843.0 289.0,843.0 288.0,842.0 277.0,840.0 271.0,843.0 263.0,850.0 247.0,861.0 215.0,877.0 215.0,909.0 355.0,909.0 355.0,907.0 352.0,900.0 352.0,897.0 351.0,896.0Z" fill="#89b705" fill-rule="evenodd"/><path d="M350.0,869.0 341.0,859.0 336.0,845.0 331.0,842.0 327.0,842.0 326.0,841.0 318.0,841.0 317.0,842.0 311.0,842.0 310.0,843.0 305.0,843.0 304.0,844.0 287.0,844.0 283.0,842.0 275.0,842.0 269.0,846.0 265.0,850.0 247.0,862.0 221.0,875.0 219.0,875.0 215.0,877.0 215.0,909.0 354.0,909.0 353.0,903.0 350.0,895.0 350.0,890.0 349.0,889.0 350.0,876.0 351.0,875.0Z" fill="#a8be00" fill-rule="evenodd"/><path d="M215.0,878.0 215.0,909.0 354.0,909.0 351.0,902.0 351.0,899.0 349.0,894.0 349.0,890.0 348.0,889.0 348.0,880.0 349.0,879.0 349.0,873.0 348.0,872.0 348.0,870.0 339.0,860.0 337.0,855.0 337.0,852.0 335.0,848.0 332.0,845.0 330.0,845.0 329.0,844.0 325.0,844.0 324.0,843.0 315.0,843.0 314.0,844.0 309.0,844.0 308.0,845.0 303.0,845.0 302.0,846.0 288.0,846.0 281.0,843.0 277.0,843.0 247.0,863.0Z" fill="#c7c400" fill-rule="evenodd"/><path d="M215.0,878.0 215.0,909.0 353.0,909.0 349.0,898.0 348.0,891.0 347.0,890.0 347.0,874.0 346.0,873.0 346.0,871.0 338.0,862.0 334.0,851.0 330.0,847.0 328.0,847.0 327.0,846.0 323.0,846.0 322.0,845.0 312.0,845.0 311.0,846.0 307.0,846.0 306.0,847.0 302.0,847.0 301.0,848.0 289.0,848.0 282.0,845.0 277.0,845.0 270.0,849.0 261.0,856.0 251.0,861.0 249.0,863.0 235.0,870.0 233.0,870.0 224.0,875.0 222.0,875.0 217.0,878.0Z" fill="#dac700" fill-rule="evenodd"/><path d="M215.0,879.0 215.0,909.0 352.0,909.0 348.0,898.0 347.0,891.0 346.0,890.0 344.0,873.0 337.0,865.0 332.0,852.0 330.0,850.0 322.0,847.0 311.0,847.0 310.0,848.0 306.0,848.0 301.0,850.0 289.0,850.0 282.0,847.0 277.0,847.0 267.0,854.0 257.0,859.0 255.0,861.0 239.0,869.0 237.0,869.0 228.0,874.0 226.0,874.0 221.0,877.0 219.0,877.0Z" fill="#edca00" fill-rule="evenodd"/><path d="M346.0,895.0 346.0,892.0 344.0,888.0 342.0,877.0 340.0,873.0 335.0,867.0 331.0,855.0 328.0,852.0 321.0,849.0 310.0,849.0 309.0,850.0 306.0,850.0 301.0,852.0 296.0,852.0 295.0,853.0 288.0,852.0 284.0,850.0 276.0,850.0 274.0,852.0 269.0,854.0 267.0,856.0 260.0,859.0 258.0,861.0 252.0,864.0 250.0,864.0 239.0,870.0 237.0,870.0 230.0,874.0 228.0,874.0 223.0,877.0 221.0,877.0 215.0,880.0 215.0,909.0 351.0,909.0Z" fill="#facb00" fill-rule="evenodd"/><path d="M350.0,909.0 349.0,908.0 343.0,888.0 341.0,885.0 341.0,883.0 333.0,870.0 333.0,868.0 331.0,864.0 331.0,861.0 329.0,857.0 325.0,853.0 320.0,851.0 310.0,851.0 309.0,852.0 306.0,852.0 298.0,855.0 289.0,855.0 284.0,853.0 277.0,853.0 253.0,865.0 251.0,865.0 244.0,869.0 242.0,869.0 237.0,872.0 235.0,872.0 230.0,875.0 228.0,875.0 223.0,878.0 221.0,878.0 215.0,881.0 215.0,909.0Z" fill="#ffc700" fill-rule="evenodd"/><path d="M348.0,908.0 347.0,907.0 346.0,902.0 344.0,899.0 343.0,894.0 339.0,886.0 334.0,880.0 330.0,873.0 330.0,869.0 329.0,868.0 329.0,863.0 328.0,862.0 328.0,860.0 323.0,855.0 318.0,853.0 310.0,853.0 297.0,858.0 288.0,858.0 284.0,856.0 275.0,857.0 272.0,859.0 265.0,861.0 260.0,864.0 258.0,864.0 248.0,869.0 246.0,869.0 236.0,874.0 234.0,874.0 224.0,879.0 222.0,879.0 219.0,881.0 215.0,882.0 215.0,909.0 348.0,909.0Z" fill="#ffc000" fill-rule="evenodd"/><path d="M338.0,894.0 327.0,881.0 327.0,879.0 326.0,878.0 326.0,864.0 324.0,860.0 318.0,856.0 310.0,856.0 296.0,862.0 276.0,861.0 275.0,862.0 258.0,867.0 255.0,869.0 250.0,870.0 247.0,872.0 245.0,872.0 242.0,874.0 240.0,874.0 237.0,876.0 235.0,876.0 232.0,878.0 230.0,878.0 227.0,880.0 225.0,880.0 222.0,882.0 215.0,884.0 215.0,909.0 344.0,909.0Z" fill="#feb600" fill-rule="evenodd"/><path d="M321.0,865.0 316.0,861.0 310.0,861.0 291.0,870.0 236.0,909.0 309.0,909.0 311.0,887.0 321.0,872.0Z" fill="#faa603" fill-rule="evenodd"/></g></g><g clip-path="url(#bcC)"><path d="M317.1,733.3 C317.8,734.4 320.7,738.2 321.5,740.0 C322.3,741.8 322.7,741.9 322.0,744.2 C321.3,746.5 319.6,751.8 317.1,753.9 C314.6,756.0 310.2,756.2 307.0,757.0 C303.8,757.8 301.4,758.2 297.7,758.8 C294.0,759.4 288.2,759.9 285.0,760.5 C281.8,761.1 280.0,761.1 278.3,762.4 C276.6,763.7 274.5,765.9 274.7,768.5 C274.9,771.1 276.9,775.0 279.5,778.2 C282.1,781.4 286.6,784.5 290.5,787.9 C294.4,791.3 299.2,795.2 302.6,798.8 C306.0,802.4 309.6,806.8 311.1,809.7 C312.6,812.6 312.2,814.0 311.5,816.0 C310.8,818.0 309.6,820.3 307.0,822.0 C304.4,823.7 300.2,824.8 296.0,826.0 C291.8,827.2 286.8,828.4 282.0,829.5 C277.2,830.6 272.9,831.8 267.4,832.7 C261.9,833.7 254.6,834.5 249.2,835.2 C243.8,835.9 237.4,836.7 235.0,837.0" fill="none" stroke="#000" stroke-width="2.6"/><path d="M392.0,684.0 C391.5,685.8 390.3,691.5 389.0,695.0 C387.7,698.5 385.6,702.0 384.0,705.0 C382.4,708.0 380.2,711.7 379.5,713.0" fill="none" stroke="#000" stroke-width="2.6"/><path d="M397.5,791.0 C397.3,792.2 397.4,795.6 396.5,798.0 C395.6,800.4 394.4,803.4 391.8,805.5 C389.2,807.6 385.1,809.2 380.9,810.9 C376.7,812.6 371.8,814.1 366.4,815.5 C360.9,816.9 354.3,818.0 348.2,819.1 C342.1,820.2 336.4,821.1 330.0,822.0 C323.6,822.9 316.3,823.5 310.0,824.5 C303.7,825.5 297.8,826.8 292.0,828.0 C286.2,829.2 281.2,830.2 275.0,831.5 C268.8,832.8 261.2,834.8 255.0,836.0 C248.8,837.2 240.8,838.5 238.0,839.0" fill="none" stroke="#000" stroke-width="2.6"/><path d="M250.0,842.0 C253.3,841.3 263.3,839.3 270.0,838.0 C276.7,836.7 284.2,835.2 290.0,834.0 C295.8,832.8 300.3,831.8 305.0,831.0 C309.7,830.2 313.8,829.8 318.0,829.5 C322.2,829.2 325.7,828.3 330.0,829.0 C334.3,829.7 341.3,832.8 343.6,833.6" fill="none" stroke="#000" stroke-width="2.6"/><path d="M343.6,851.8 C344.7,853.2 347.8,857.0 350.0,860.0 C352.2,863.0 354.6,866.3 357.0,870.0 C359.4,873.7 363.2,880.0 364.5,882.0" fill="none" stroke="#000" stroke-width="2.6"/><path d="M392.0,870.5 C392.7,870.9 394.5,872.0 396.0,873.0 C397.5,874.0 400.2,875.9 401.0,876.5" fill="none" stroke="#000" stroke-width="2.6"/><path d="M312.8,784.0 C313.0,785.0 312.9,788.2 314.0,790.0 C315.1,791.8 317.5,793.8 319.5,794.8 C321.5,795.8 323.9,796.2 326.0,796.0 C328.1,795.8 330.5,794.8 332.0,793.5 C333.5,792.2 334.6,790.1 335.0,788.5 C335.4,786.9 334.6,784.8 334.5,784.0" fill="none" stroke="#000" stroke-width="2.6"/></g><g clip-path="url(#bcC)"><text class="bi" x="286" y="708" font-size="26" text-anchor="middle" transform="rotate(32,286,700)">16.5</text><text class="bi" x="386" y="759" font-size="26" text-anchor="middle" transform="rotate(70,386,751)">19.5</text><text class="bi" x="323.5" y="783.5" font-size="26" text-anchor="middle" transform="rotate(0,323.5,775.5)">19.5</text><text class="bi" x="320.5" y="849" font-size="26" text-anchor="middle" transform="rotate(-4,320.5,841)">28.5</text><text class="bi" x="268" y="856" font-size="26" text-anchor="middle" transform="rotate(-6,268,848)">25.5</text><text class="bi" x="371.5" y="864" font-size="26" text-anchor="middle" transform="rotate(-32,371.5,856)">22</text></g><path d="M104.0,50.0 250.2,50.0 248.9,54.7 246.0,58.0 245.6,59.7 249.3,60.5 252.7,63.0 254.3,66.3 256.0,71.3 259.3,73.8 263.5,74.7 267.7,78.0 271.0,81.3 274.3,83.0 276.4,84.7 275.2,89.7 272.7,94.7 269.3,98.0 265.2,99.7 262.7,103.0 262.7,107.2 261.0,110.5 257.7,113.0 255.2,117.5 251.0,115.0 248.5,113.0 243.5,111.3 239.3,110.5 238.5,108.0 241.0,102.2 240.2,93.8 239.3,88.0 236.8,81.3 235.6,83.0 235.2,89.7 234.3,98.0 232.7,104.7 234.7,110.0 236.0,117.0 238.0,121.0 243.0,121.0 244.6,124.0 243.0,128.5 239.7,132.0 236.1,134.9 232.6,137.7 236.1,138.0 240.4,137.0 242.5,139.8 243.2,144.8 243.2,151.8 244.6,155.4 246.4,155.4 245.3,150.4 245.3,144.8 248.2,140.5 250.3,136.3 251.0,131.3 253.1,129.2 255.9,131.3 260.2,131.3 263.0,125.7 264.4,121.4 268.7,119.3 270.1,113.7 272.9,113.7 275.0,112.2 278.6,110.8 284.2,111.5 285.6,113.0 288.5,120.7 290.6,125.0 289.2,127.8 285.6,129.9 283.5,134.9 281.4,139.1 277.9,142.0 271.5,145.5 275.0,147.6 271.5,153.3 270.1,156.8 272.9,158.9 276.5,156.1 280.0,156.8 280.7,163.2 282.1,168.8 283.5,168.1 282.8,161.7 283.5,154.0 285.6,149.0 288.5,146.2 289.9,142.0 296.3,139.1 303.3,137.7 309.0,140.5 313.2,147.6 315.4,157.5 314.0,162.0 312.0,171.7 312.0,182.6 313.0,188.0 308.7,189.1 304.3,187.0 300.0,188.0 292.4,193.5 283.7,200.0 285.9,201.1 294.6,195.7 301.0,192.4 302.2,195.7 299.0,202.2 294.6,207.6 293.5,215.2 289.0,220.7 282.6,225.0 276.0,227.2 273.9,230.4 271.7,237.0 269.6,247.8 269.0,253.3 264.0,263.3 260.7,273.3 257.3,279.2 250.7,280.8 237.3,283.3 224.0,286.7 209.0,290.8 206.5,286.7 206.5,280.8 211.5,273.3 216.5,266.7 220.7,260.0 222.5,257.5 222.0,255.0 219.0,259.2 214.0,265.8 208.2,272.5 204.0,278.3 201.5,281.7 202.3,286.7 205.5,293.0 204.0,303.3 200.7,307.5 192.3,305.8 187.3,305.0 197.3,311.7 204.0,312.5 205.7,315.0 200.7,318.3 190.7,320.0 179.0,323.3 170.7,327.5 145.7,326.7 124.0,326.7 109.0,325.0 108.2,316.7 109.0,306.7 114.0,300.0 115.7,291.7 110.7,283.3 107.3,276.7 109.0,272.5 115.7,270.8 123.2,271.7 130.7,273.3 140.7,272.5 143.2,269.6 148.2,269.2 155.7,272.5 157.3,277.5 156.5,281.7 155.7,285.8 152.3,288.3 154.0,290.0 157.3,292.5 160.7,294.2 164.8,291.7 164.0,288.3 163.2,281.7 161.5,275.0 159.8,270.0 156.5,269.2 154.4,265.8 156.5,261.7 160.7,258.3 165.7,257.5 166.1,253.3 164.0,250.8 159.0,253.3 154.0,257.5 148.2,260.0 142.3,261.7 135.7,257.5 132.8,252.5 132.8,247.5 136.5,243.3 141.5,239.2 139.8,232.5 136.9,227.5 139.0,224.6 143.2,225.8 146.5,224.2 149.0,220.5 153.0,219.0 157.5,219.5 161.0,218.0 157.3,216.7 160.7,213.3 164.0,208.3 167.3,203.3 170.7,201.7 179.0,198.3 180.7,195.8 184.0,190.0 184.8,186.7 180.7,187.9 174.0,189.6 167.3,191.7 160.7,191.7 155.7,195.0 150.7,200.0 145.7,201.7 139.0,205.8 134.8,207.5 132.3,205.8 133.2,201.7 137.3,195.8 139.8,190.0 140.7,184.2 143.2,181.7 148.2,176.7 150.7,172.5 153.2,170.8 153.6,162.9 151.9,161.7 148.2,164.2 144.0,168.3 139.8,173.3 134.8,176.7 131.5,171.7 129.8,168.3 128.2,167.5 129.0,171.7 132.8,175.0 134.8,180.0 129.0,184.2 120.7,188.3 112.3,191.2 104.0,192.9ZM307.3,50.0 402.7,50.0 401.8,53.0 400.2,58.0 396.0,62.2 391.0,63.0 387.7,64.7 391.0,67.2 393.5,71.3 391.8,75.5 390.2,83.0 386.0,91.3 382.7,98.8 378.5,101.3 375.2,103.0 373.5,108.0 369.3,113.8 365.2,119.7 361.0,124.7 356.8,126.3 352.7,123.0 348.5,117.2 346.8,110.5 346.0,102.2 345.2,94.7 344.3,88.0 341.8,81.3 341.0,70.5 338.5,73.0 334.3,79.7 332.7,81.3 331.8,75.5 330.2,69.7 326.0,72.0 321.0,71.3 317.7,72.2 314.3,68.8 311.8,64.7 311.0,60.5 308.5,56.3ZM414.3,50.0 620.0,50.0 620.0,245.3 618.2,244.2 612.9,241.0 605.5,234.7 600.2,229.4 591.7,219.9 586.4,220.9 575.9,219.9 569.5,218.8 565.3,226.2 561.0,230.4 549.4,236.8 546.2,243.2 536.0,246.0 526.0,252.0 520.0,260.0 522.0,265.0 516.0,266.0 512.0,260.0 506.0,252.0 500.7,245.3 499.6,236.8 501.8,231.5 507.0,225.2 501.8,222.0 499.6,215.6 491.2,210.3 480.6,207.2 472.1,206.1 473.2,199.8 476.4,192.3 477.4,186.0 480.6,186.0 481.6,190.2 485.9,190.8 496.5,190.2 508.1,190.2 518.7,187.0 526.1,180.7 514.5,182.8 507.5,183.0 508.1,177.5 509.2,171.7 506.0,174.3 505.0,181.0 499.6,183.0 491.2,182.8 480.6,175.4 478.5,171.2 481.6,170.1 479.5,165.9 474.8,163.8 475.0,154.2 475.8,143.3 475.0,140.0 478.3,133.3 480.0,120.8 482.5,112.5 483.3,100.0 481.0,97.0 478.0,98.0 475.0,113.3 471.7,120.8 466.7,125.0 463.3,130.8 459.2,136.7 457.5,146.7 454.2,143.3 446.7,142.5 443.3,140.0 442.5,132.5 437.5,128.3 435.0,125.0 429.2,122.5 420.8,119.2 412.5,114.2 405.0,112.5 402.5,110.0 404.2,107.5 408.5,103.8 402.7,101.3 397.7,98.0 396.0,94.7 398.5,89.7 401.0,81.3 401.8,68.8 403.5,63.0 411.0,62.2 412.7,60.5 410.2,57.2 411.0,53.8Z" fill="#6b6b6b" transform="translate(-4.5,466)"/><path d="M279.3,81.3 289.3,81.3 288.5,87.2 284.3,91.3 279.3,96.3 276.8,98.8 276.0,94.7 277.7,87.2ZM293.5,87.2 298.5,94.7 292.7,96.3 287.7,93.8ZM284.5,94.5 288.0,95.5 291.8,98.5 290.5,100.0 286.0,98.5ZM281.0,99.0 284.5,98.8 286.8,103.0 285.5,106.3 282.5,105.0ZM289.3,101.5 296.0,101.5 297.7,105.0 295.5,108.0 292.0,106.5 289.5,105.5ZM301.8,64.0 304.0,64.5 305.2,68.5 303.0,68.8ZM305.5,78.0 309.0,77.2 311.8,82.0 310.0,85.5 307.0,84.0ZM309.5,73.0 312.0,72.2 313.0,76.5 310.5,77.5ZM313.0,73.0 315.5,73.0 316.0,77.0 314.0,77.5ZM313.0,81.0 316.5,80.5 320.0,86.0 321.8,92.0 319.5,95.5 316.0,93.0 314.0,87.0ZM317.0,78.0 320.0,77.2 324.3,83.0 323.5,86.3 320.5,85.0ZM321.5,71.0 325.5,70.5 327.7,75.5 327.0,79.7 323.5,78.5ZM391.0,63.5 393.5,63.0 395.2,67.0 394.0,69.7 391.5,68.5ZM458.5,162.0 464.5,160.8 465.0,166.0 463.0,170.8 459.5,168.0ZM508.5,268.0 511.5,268.5 511.0,271.0 508.5,270.5ZM510.5,277.5 513.5,277.5 513.5,280.5 510.5,280.5ZM169.0,335.5 174.0,335.0 175.0,338.0 171.0,339.5ZM212.5,304.5 217.0,304.0 220.5,305.5 218.0,307.0 213.0,306.5ZM329.5,94.0 333.0,91.9 337.0,94.0 336.5,99.0 332.0,100.5 329.4,98.0ZM337.2,93.0 339.5,91.9 340.6,95.0 338.5,97.0ZM339.0,99.0 341.5,97.9 343.1,100.0 341.0,102.2ZM340.0,89.5 343.0,88.4 344.0,91.5 341.5,92.7ZM333.0,105.0 337.0,103.0 343.5,104.0 343.9,108.0 339.0,110.8 335.5,108.5ZM340.6,121.0 344.0,119.3 346.6,120.5 343.5,123.6ZM350.2,127.5 352.5,126.2 354.3,130.0 352.5,132.2ZM354.5,135.5 356.8,134.0 358.6,138.0 357.0,140.8 355.0,139.0ZM309.6,130.0 312.0,128.8 313.5,131.5 311.0,133.0ZM313.5,131.0 316.0,130.5 318.2,133.5 316.0,135.7ZM311.4,137.0 313.5,135.7 315.7,138.5 313.5,140.0ZM319.2,153.5 321.0,152.8 323.4,157.5 321.5,158.8ZM469.5,212.5 473.0,211.0 474.3,214.0 471.0,217.6Z" fill="#6b6b6b" transform="translate(-4.5,466)"/><circle cx="257.2" cy="745.6" r="2.6" fill="#3a3a3a"/><circle cx="302.1" cy="744.9" r="2.6" fill="#3a3a3a"/><circle cx="363.4" cy="726.2" r="2.6" fill="#3a3a3a"/><circle cx="412.3" cy="764" r="2.6" fill="#3a3a3a"/><circle cx="374.6" cy="769.6" r="2.6" fill="#3a3a3a"/><circle cx="321.2" cy="786.7" r="2.6" fill="#3a3a3a"/><circle cx="358.3" cy="792.9" r="2.6" fill="#3a3a3a"/><circle cx="283.4" cy="805.1" r="2.6" fill="#3a3a3a"/><circle cx="385" cy="830" r="2.6" fill="#3a3a3a"/><circle cx="430.6" cy="844.4" r="2.6" fill="#3a3a3a"/><circle cx="315.4" cy="862.7" r="2.6" fill="#3a3a3a"/></g>
<defs><clipPath id="clipB"><rect x="748" y="51" width="516" height="441"/></clipPath><clipPath id="clipD"><rect x="748" y="509" width="516" height="441"/></clipPath></defs>
<g clip-path="url(#clipB)">
<defs><clipPath id="bcB"><path d="M975.0,51.0 C983.0,51.0 1004.7,48.8 1013.0,51.0 C1021.3,53.2 1020.5,55.8 1025.0,64.0 C1029.5,72.2 1033.2,90.3 1040.0,100.0 C1046.8,109.7 1061.3,113.7 1066.0,122.0 C1070.7,130.3 1066.5,139.5 1068.0,150.0 C1069.5,160.5 1073.5,178.3 1075.0,185.0 C1076.5,191.7 1074.7,186.5 1077.0,190.0 C1079.3,193.5 1085.7,202.0 1089.0,206.0 C1092.3,210.0 1094.0,211.7 1097.0,214.0 C1100.0,216.3 1104.0,215.7 1107.0,220.0 C1110.0,224.3 1111.2,230.0 1115.0,240.0 C1118.8,250.0 1121.0,267.7 1130.0,280.0 C1139.0,292.3 1162.8,307.3 1169.0,314.0 C1175.2,320.7 1168.3,317.3 1167.0,320.0 C1165.7,322.7 1163.0,327.3 1161.0,330.0 C1159.0,332.7 1156.0,334.3 1155.0,336.0 C1154.0,337.7 1154.3,338.3 1155.0,340.0 C1155.7,341.7 1157.8,343.0 1159.0,346.0 C1160.2,349.0 1161.7,354.3 1162.0,358.0 C1162.3,361.7 1162.2,364.3 1161.0,368.0 C1159.8,371.7 1158.0,377.0 1155.0,380.0 C1152.0,383.0 1146.3,384.2 1143.0,386.0 C1139.7,387.8 1135.7,389.3 1135.0,391.0 C1134.3,392.7 1137.3,393.8 1139.0,396.0 C1140.7,398.2 1143.7,400.7 1145.0,404.0 C1146.3,407.3 1147.7,412.0 1147.0,416.0 C1146.3,420.0 1144.7,424.0 1141.0,428.0 C1137.3,432.0 1131.0,436.8 1125.0,440.0 C1119.0,443.2 1111.7,445.3 1105.0,447.0 C1098.3,448.7 1091.0,449.7 1085.0,450.0 C1079.0,450.3 1073.7,449.5 1069.0,449.0 C1064.3,448.5 1061.0,447.2 1057.0,447.0 C1053.0,446.8 1050.3,447.7 1045.0,448.0 C1039.7,448.3 1031.7,449.0 1025.0,449.0 C1018.3,449.0 1011.7,447.5 1005.0,448.0 C998.3,448.5 991.7,451.2 985.0,452.0 C978.3,452.8 971.0,453.3 965.0,453.0 C959.0,452.7 954.7,450.8 949.0,450.0 C943.3,449.2 937.3,447.8 931.0,448.0 C924.7,448.2 917.3,450.5 911.0,451.0 C904.7,451.5 899.3,451.8 893.0,451.0 C886.7,450.2 879.0,448.5 873.0,446.0 C867.0,443.5 861.0,440.0 857.0,436.0 C853.0,432.0 850.3,426.3 849.0,422.0 C847.7,417.7 848.3,414.3 849.0,410.0 C849.7,405.7 850.3,400.0 853.0,396.0 C855.7,392.0 859.7,388.5 865.0,386.0 C870.3,383.5 879.8,382.2 885.0,381.0 C890.2,379.8 894.5,380.8 896.0,379.0 C897.5,377.2 894.5,373.2 894.0,370.0 C893.5,366.8 892.2,363.7 893.0,360.0 C893.8,356.3 896.0,351.7 899.0,348.0 C902.0,344.3 906.7,341.0 911.0,338.0 C915.3,335.0 920.0,331.8 925.0,330.0 C930.0,328.2 937.5,327.8 941.0,327.0 C944.5,326.2 945.3,327.5 946.0,325.0 C946.7,322.5 945.2,316.2 945.0,312.0 C944.8,307.8 942.5,305.3 945.0,300.0 C947.5,294.7 953.3,288.3 960.0,280.0 C966.7,271.7 979.5,263.3 985.0,250.0 C990.5,236.7 994.2,216.7 993.0,200.0 C991.8,183.3 984.3,161.0 978.0,150.0 C971.7,139.0 963.3,138.7 955.0,134.0 C946.7,129.3 931.3,125.7 928.0,122.0 C924.7,118.3 932.3,116.5 935.0,112.0 C937.7,107.5 942.7,101.2 944.0,95.0 C945.3,88.8 941.2,81.2 943.0,75.0 C944.8,68.8 951.3,62.0 955.0,58.0 C958.7,54.0 961.7,52.2 965.0,51.0 C968.3,49.8 967.0,51.0 975.0,51.0Z"/></clipPath><filter id="bfB" x="-5%" y="-5%" width="110%" height="110%"><feGaussianBlur stdDeviation="1.5"/></filter></defs><g clip-path="url(#bcB)"><g filter="url(#bfB)"><rect x="840" y="48" width="340" height="412" fill="#12b5cf"/><path d="M840.0,48.0 840.0,459.0 1179.0,459.0 1179.0,48.0Z" fill="#10bbc4" fill-rule="evenodd"/><path d="M840.0,48.0 840.0,459.0 1179.0,459.0 1179.0,48.0Z" fill="#10bfbc" fill-rule="evenodd"/><path d="M1179.0,48.0 1155.0,48.0 1127.0,69.0 1114.0,76.0 1112.0,76.0 1105.0,79.0 1102.0,79.0 1097.0,81.0 1093.0,81.0 1092.0,82.0 1088.0,82.0 1087.0,83.0 1079.0,84.0 1078.0,85.0 1074.0,85.0 1069.0,87.0 1065.0,87.0 1064.0,88.0 1060.0,88.0 1059.0,89.0 1045.0,91.0 1044.0,92.0 1034.0,93.0 1033.0,94.0 1028.0,94.0 1027.0,95.0 1022.0,95.0 1021.0,96.0 1016.0,96.0 1015.0,97.0 1010.0,97.0 1009.0,98.0 1003.0,98.0 1002.0,99.0 996.0,99.0 995.0,100.0 988.0,100.0 987.0,101.0 980.0,101.0 979.0,102.0 969.0,102.0 968.0,103.0 957.0,103.0 956.0,104.0 917.0,105.0 916.0,106.0 889.0,106.0 888.0,107.0 861.0,107.0 860.0,108.0 840.0,108.0 840.0,459.0 1179.0,459.0Z" fill="#10c1b2" fill-rule="evenodd"/><path d="M1179.0,48.0 1158.0,48.0 1127.0,72.0 1118.0,78.0 1106.0,84.0 1100.0,85.0 1092.0,88.0 1088.0,88.0 1087.0,89.0 1076.0,91.0 1075.0,92.0 1071.0,92.0 1070.0,93.0 1067.0,93.0 1062.0,95.0 1058.0,95.0 1057.0,96.0 1054.0,96.0 1053.0,97.0 1050.0,97.0 1045.0,99.0 1041.0,99.0 1040.0,100.0 1037.0,100.0 1036.0,101.0 1033.0,101.0 1032.0,102.0 1029.0,102.0 1028.0,103.0 1025.0,103.0 1024.0,104.0 1021.0,104.0 1020.0,105.0 1017.0,105.0 1016.0,106.0 1013.0,106.0 1012.0,107.0 1009.0,107.0 1008.0,108.0 1005.0,108.0 1000.0,110.0 997.0,110.0 996.0,111.0 990.0,112.0 986.0,114.0 983.0,114.0 976.0,117.0 973.0,117.0 972.0,118.0 967.0,119.0 964.0,121.0 959.0,122.0 956.0,124.0 954.0,124.0 951.0,126.0 949.0,126.0 921.0,140.0 919.0,142.0 916.0,143.0 914.0,145.0 911.0,146.0 909.0,148.0 891.0,158.0 886.0,162.0 873.0,169.0 868.0,173.0 865.0,174.0 853.0,182.0 847.0,185.0 840.0,186.0 840.0,459.0 1179.0,459.0Z" fill="#10c3a6" fill-rule="evenodd"/><path d="M1179.0,48.0 1160.0,48.0 1121.0,78.0 1112.0,83.0 1110.0,85.0 1106.0,87.0 1104.0,87.0 1101.0,89.0 1095.0,90.0 1087.0,93.0 1084.0,93.0 1083.0,94.0 1080.0,94.0 1079.0,95.0 1076.0,95.0 1075.0,96.0 1072.0,96.0 1071.0,97.0 1068.0,97.0 1064.0,99.0 1053.0,101.0 1052.0,102.0 1042.0,104.0 1035.0,107.0 1032.0,107.0 1031.0,108.0 1014.0,113.0 1011.0,115.0 1006.0,116.0 990.0,124.0 988.0,124.0 982.0,128.0 964.0,137.0 962.0,139.0 952.0,144.0 950.0,146.0 947.0,147.0 945.0,149.0 942.0,150.0 940.0,152.0 937.0,153.0 935.0,155.0 932.0,156.0 930.0,158.0 927.0,159.0 910.0,170.0 905.0,172.0 898.0,177.0 893.0,179.0 891.0,181.0 876.0,189.0 874.0,189.0 871.0,191.0 868.0,191.0 867.0,192.0 844.0,192.0 843.0,191.0 840.0,191.0 840.0,459.0 1179.0,459.0Z" fill="#10c49a" fill-rule="evenodd"/><path d="M1179.0,48.0 1161.0,48.0 1140.0,65.0 1108.0,88.0 1098.0,93.0 1096.0,93.0 1089.0,96.0 1086.0,96.0 1082.0,98.0 1079.0,98.0 1075.0,100.0 1072.0,100.0 1068.0,102.0 1065.0,102.0 1055.0,106.0 1052.0,106.0 1051.0,107.0 1043.0,109.0 1040.0,111.0 1035.0,112.0 1027.0,116.0 1025.0,116.0 1020.0,119.0 1018.0,119.0 1000.0,128.0 998.0,130.0 991.0,133.0 989.0,135.0 982.0,138.0 975.0,143.0 970.0,145.0 963.0,150.0 958.0,152.0 956.0,154.0 946.0,159.0 944.0,161.0 934.0,166.0 932.0,168.0 927.0,170.0 925.0,172.0 920.0,174.0 918.0,176.0 889.0,191.0 887.0,191.0 883.0,193.0 880.0,193.0 879.0,194.0 873.0,194.0 872.0,195.0 848.0,194.0 847.0,193.0 841.0,193.0 840.0,192.0 840.0,459.0 1179.0,459.0Z" fill="#10c28d" fill-rule="evenodd"/><path d="M1179.0,48.0 1162.0,48.0 1158.0,52.0 1149.0,58.0 1132.0,72.0 1103.0,93.0 1091.0,99.0 1065.0,107.0 1062.0,109.0 1057.0,110.0 1054.0,112.0 1047.0,114.0 1042.0,117.0 1040.0,117.0 1012.0,131.0 1010.0,133.0 994.0,141.0 992.0,143.0 971.0,154.0 962.0,160.0 955.0,163.0 953.0,165.0 946.0,168.0 944.0,170.0 935.0,174.0 933.0,176.0 904.0,190.0 902.0,190.0 899.0,192.0 897.0,192.0 890.0,195.0 885.0,195.0 884.0,196.0 858.0,196.0 857.0,195.0 849.0,195.0 848.0,194.0 843.0,194.0 842.0,193.0 840.0,193.0 840.0,459.0 1179.0,459.0Z" fill="#10c081" fill-rule="evenodd"/><path d="M1179.0,48.0 1163.0,48.0 1159.0,52.0 1137.0,68.0 1115.0,86.0 1091.0,103.0 1081.0,108.0 1079.0,108.0 1072.0,112.0 1070.0,112.0 1063.0,116.0 1061.0,116.0 1029.0,132.0 1027.0,134.0 1016.0,139.0 1014.0,141.0 981.0,158.0 979.0,160.0 935.0,182.0 933.0,182.0 928.0,185.0 926.0,185.0 921.0,188.0 916.0,189.0 913.0,191.0 911.0,191.0 901.0,195.0 893.0,196.0 892.0,197.0 874.0,198.0 873.0,197.0 860.0,197.0 859.0,196.0 852.0,196.0 851.0,195.0 840.0,194.0 840.0,459.0 1179.0,459.0Z" fill="#10c077" fill-rule="evenodd"/><path d="M1179.0,48.0 1164.0,48.0 1143.0,65.0 1138.0,68.0 1134.0,72.0 1129.0,75.0 1115.0,87.0 1114.0,87.0 1085.0,112.0 1075.0,119.0 1063.0,125.0 1061.0,127.0 1048.0,133.0 1046.0,135.0 1031.0,142.0 1029.0,144.0 1012.0,152.0 1010.0,154.0 971.0,173.0 969.0,173.0 964.0,176.0 962.0,176.0 959.0,178.0 957.0,178.0 944.0,184.0 936.0,186.0 933.0,188.0 931.0,188.0 915.0,194.0 912.0,194.0 904.0,197.0 899.0,197.0 898.0,198.0 877.0,199.0 876.0,198.0 863.0,198.0 862.0,197.0 855.0,197.0 854.0,196.0 848.0,196.0 847.0,195.0 842.0,195.0 840.0,194.0 840.0,459.0 1179.0,459.0Z" fill="#10c06e" fill-rule="evenodd"/><path d="M1179.0,48.0 1165.0,48.0 1149.0,61.0 1144.0,64.0 1140.0,68.0 1135.0,71.0 1115.0,88.0 1114.0,88.0 1105.0,97.0 1104.0,97.0 1079.0,123.0 1064.0,134.0 1054.0,139.0 1052.0,141.0 1045.0,144.0 1043.0,146.0 1028.0,153.0 1026.0,155.0 995.0,170.0 993.0,170.0 988.0,173.0 986.0,173.0 978.0,177.0 970.0,179.0 967.0,181.0 965.0,181.0 955.0,185.0 952.0,185.0 942.0,189.0 939.0,189.0 938.0,190.0 936.0,190.0 932.0,192.0 929.0,192.0 925.0,194.0 922.0,194.0 918.0,196.0 910.0,197.0 909.0,198.0 905.0,198.0 904.0,199.0 883.0,200.0 882.0,199.0 868.0,199.0 867.0,198.0 859.0,198.0 858.0,197.0 852.0,197.0 851.0,196.0 840.0,195.0 840.0,459.0 1179.0,459.0Z" fill="#10c066" fill-rule="evenodd"/><path d="M1179.0,48.0 1166.0,48.0 1150.0,60.0 1146.0,64.0 1141.0,67.0 1122.0,83.0 1121.0,83.0 1101.0,102.0 1101.0,103.0 1094.0,110.0 1094.0,111.0 1080.0,126.0 1080.0,127.0 1065.0,140.0 1056.0,145.0 1054.0,147.0 1049.0,149.0 1047.0,151.0 1038.0,155.0 1036.0,157.0 1005.0,172.0 1003.0,172.0 1000.0,174.0 990.0,177.0 987.0,179.0 985.0,179.0 975.0,183.0 972.0,183.0 965.0,186.0 962.0,186.0 958.0,188.0 951.0,189.0 947.0,191.0 944.0,191.0 943.0,192.0 940.0,192.0 939.0,193.0 936.0,193.0 935.0,194.0 932.0,194.0 931.0,195.0 928.0,195.0 927.0,196.0 924.0,196.0 919.0,198.0 909.0,199.0 908.0,200.0 895.0,200.0 894.0,201.0 892.0,201.0 891.0,200.0 873.0,200.0 872.0,199.0 863.0,199.0 862.0,198.0 856.0,198.0 855.0,197.0 849.0,197.0 848.0,196.0 843.0,196.0 842.0,195.0 840.0,195.0 840.0,459.0 1179.0,459.0Z" fill="#10be5f" fill-rule="evenodd"/><path d="M1179.0,48.0 1167.0,48.0 1147.0,63.0 1143.0,67.0 1138.0,70.0 1122.0,84.0 1121.0,84.0 1101.0,104.0 1101.0,105.0 1097.0,109.0 1085.0,125.0 1080.0,130.0 1080.0,131.0 1067.0,144.0 1049.0,156.0 1015.0,173.0 1013.0,173.0 1000.0,179.0 998.0,179.0 988.0,183.0 985.0,183.0 981.0,185.0 978.0,185.0 974.0,187.0 971.0,187.0 970.0,188.0 967.0,188.0 966.0,189.0 963.0,189.0 962.0,190.0 959.0,190.0 958.0,191.0 955.0,191.0 954.0,192.0 951.0,192.0 950.0,193.0 947.0,193.0 946.0,194.0 943.0,194.0 938.0,196.0 934.0,196.0 929.0,198.0 925.0,198.0 924.0,199.0 920.0,199.0 919.0,200.0 914.0,200.0 913.0,201.0 878.0,201.0 877.0,200.0 868.0,200.0 867.0,199.0 853.0,198.0 852.0,197.0 847.0,197.0 846.0,196.0 842.0,196.0 840.0,195.0 840.0,459.0 1179.0,459.0Z" fill="#10bc59" fill-rule="evenodd"/><path d="M1179.0,48.0 1168.0,48.0 1166.0,49.0 1162.0,53.0 1153.0,59.0 1149.0,63.0 1129.0,78.0 1106.0,100.0 1106.0,101.0 1098.0,110.0 1078.0,137.0 1061.0,154.0 1049.0,162.0 1027.0,173.0 1025.0,173.0 1015.0,178.0 1013.0,178.0 994.0,185.0 991.0,185.0 987.0,187.0 984.0,187.0 983.0,188.0 980.0,188.0 979.0,189.0 976.0,189.0 975.0,190.0 972.0,190.0 967.0,192.0 963.0,192.0 958.0,194.0 954.0,194.0 949.0,196.0 945.0,196.0 940.0,198.0 936.0,198.0 935.0,199.0 931.0,199.0 930.0,200.0 925.0,200.0 924.0,201.0 918.0,201.0 917.0,202.0 884.0,202.0 883.0,201.0 873.0,201.0 872.0,200.0 865.0,200.0 864.0,199.0 857.0,199.0 856.0,198.0 851.0,198.0 850.0,197.0 840.0,196.0 840.0,459.0 1179.0,459.0Z" fill="#11b951" fill-rule="evenodd"/><path d="M1179.0,48.0 1169.0,48.0 1167.0,49.0 1163.0,53.0 1145.0,66.0 1130.0,79.0 1129.0,79.0 1123.0,85.0 1122.0,85.0 1111.0,96.0 1111.0,97.0 1102.0,107.0 1093.0,119.0 1091.0,123.0 1085.0,130.0 1083.0,134.0 1073.0,146.0 1073.0,147.0 1068.0,152.0 1068.0,153.0 1056.0,164.0 1050.0,168.0 1036.0,175.0 1034.0,175.0 1029.0,178.0 1024.0,179.0 1021.0,181.0 1019.0,181.0 1015.0,183.0 1012.0,183.0 1005.0,186.0 1002.0,186.0 1001.0,187.0 998.0,187.0 997.0,188.0 994.0,188.0 993.0,189.0 990.0,189.0 985.0,191.0 981.0,191.0 976.0,193.0 967.0,194.0 962.0,196.0 958.0,196.0 957.0,197.0 953.0,197.0 952.0,198.0 948.0,198.0 947.0,199.0 943.0,199.0 942.0,200.0 937.0,200.0 936.0,201.0 931.0,201.0 930.0,202.0 924.0,202.0 923.0,203.0 889.0,203.0 888.0,202.0 878.0,202.0 877.0,201.0 862.0,200.0 861.0,199.0 855.0,199.0 854.0,198.0 849.0,198.0 848.0,197.0 840.0,196.0 840.0,459.0 1179.0,459.0Z" fill="#13b649" fill-rule="evenodd"/><path d="M1179.0,48.0 1170.0,48.0 1150.0,63.0 1130.0,80.0 1129.0,80.0 1106.0,104.0 1063.0,165.0 1053.0,174.0 1042.0,180.0 1040.0,180.0 1024.0,186.0 1021.0,186.0 1020.0,187.0 1017.0,187.0 1016.0,188.0 1013.0,188.0 1012.0,189.0 1009.0,189.0 1004.0,191.0 1000.0,191.0 999.0,192.0 995.0,192.0 994.0,193.0 990.0,193.0 989.0,194.0 984.0,194.0 983.0,195.0 979.0,195.0 978.0,196.0 974.0,196.0 973.0,197.0 968.0,197.0 967.0,198.0 963.0,198.0 962.0,199.0 951.0,200.0 950.0,201.0 946.0,201.0 945.0,202.0 933.0,203.0 932.0,204.0 920.0,204.0 919.0,205.0 894.0,204.0 893.0,203.0 883.0,203.0 882.0,202.0 874.0,202.0 873.0,201.0 853.0,199.0 852.0,198.0 848.0,198.0 847.0,197.0 842.0,197.0 840.0,196.0 840.0,459.0 1179.0,459.0Z" fill="#15b341" fill-rule="evenodd"/><path d="M1179.0,48.0 1171.0,48.0 1163.0,55.0 1144.0,69.0 1140.0,73.0 1139.0,73.0 1127.0,84.0 1126.0,84.0 1117.0,93.0 1093.0,125.0 1087.0,134.0 1086.0,137.0 1080.0,145.0 1079.0,148.0 1075.0,153.0 1068.0,166.0 1061.0,176.0 1055.0,182.0 1044.0,188.0 1042.0,188.0 1038.0,190.0 1035.0,190.0 1034.0,191.0 1031.0,191.0 1030.0,192.0 1027.0,192.0 1026.0,193.0 1016.0,194.0 1015.0,195.0 1009.0,195.0 1008.0,196.0 1002.0,196.0 1001.0,197.0 994.0,197.0 993.0,198.0 987.0,198.0 986.0,199.0 980.0,199.0 979.0,200.0 973.0,200.0 972.0,201.0 966.0,201.0 965.0,202.0 959.0,202.0 958.0,203.0 945.0,204.0 944.0,205.0 936.0,205.0 935.0,206.0 910.0,206.0 909.0,205.0 888.0,204.0 887.0,203.0 879.0,203.0 878.0,202.0 864.0,201.0 863.0,200.0 846.0,198.0 845.0,197.0 841.0,197.0 840.0,196.0 840.0,459.0 1179.0,459.0Z" fill="#19af3a" fill-rule="evenodd"/><path d="M1179.0,48.0 1173.0,48.0 1169.0,52.0 1164.0,55.0 1160.0,59.0 1155.0,62.0 1135.0,79.0 1134.0,79.0 1117.0,96.0 1105.0,112.0 1091.0,133.0 1090.0,136.0 1082.0,148.0 1072.0,169.0 1070.0,171.0 1067.0,178.0 1063.0,184.0 1056.0,191.0 1047.0,196.0 1045.0,196.0 1042.0,198.0 1039.0,198.0 1035.0,200.0 1031.0,200.0 1030.0,201.0 1026.0,201.0 1025.0,202.0 1006.0,203.0 1005.0,204.0 975.0,205.0 974.0,206.0 964.0,206.0 963.0,207.0 953.0,207.0 952.0,208.0 920.0,208.0 919.0,207.0 910.0,207.0 909.0,206.0 901.0,206.0 900.0,205.0 892.0,205.0 891.0,204.0 876.0,203.0 875.0,202.0 869.0,202.0 868.0,201.0 862.0,201.0 861.0,200.0 856.0,200.0 855.0,199.0 850.0,199.0 849.0,198.0 840.0,197.0 840.0,459.0 1179.0,459.0Z" fill="#1cac34" fill-rule="evenodd"/><path d="M1179.0,48.0 1151.0,69.0 1139.0,80.0 1138.0,80.0 1126.0,92.0 1126.0,93.0 1116.0,105.0 1102.0,126.0 1097.0,136.0 1095.0,138.0 1085.0,158.0 1085.0,160.0 1081.0,167.0 1081.0,169.0 1078.0,174.0 1078.0,176.0 1074.0,184.0 1070.0,190.0 1062.0,198.0 1052.0,204.0 1050.0,204.0 1039.0,209.0 1036.0,209.0 1035.0,210.0 1028.0,211.0 1027.0,212.0 1022.0,212.0 1021.0,213.0 1012.0,213.0 1011.0,214.0 967.0,214.0 966.0,213.0 948.0,213.0 947.0,212.0 930.0,211.0 929.0,210.0 916.0,209.0 915.0,208.0 910.0,208.0 909.0,207.0 902.0,207.0 901.0,206.0 895.0,206.0 894.0,205.0 887.0,205.0 886.0,204.0 866.0,202.0 865.0,201.0 860.0,201.0 859.0,200.0 854.0,200.0 853.0,199.0 849.0,199.0 848.0,198.0 840.0,197.0 840.0,459.0 1179.0,459.0Z" fill="#21aa2f" fill-rule="evenodd"/><path d="M840.0,197.0 840.0,459.0 1179.0,459.0 1179.0,220.0 1167.0,221.0 1166.0,222.0 1160.0,222.0 1159.0,223.0 1153.0,223.0 1152.0,224.0 1146.0,224.0 1145.0,225.0 1139.0,225.0 1138.0,226.0 1123.0,227.0 1122.0,228.0 1112.0,228.0 1111.0,229.0 1093.0,229.0 1092.0,228.0 1086.0,228.0 1085.0,227.0 1078.0,226.0 1063.0,218.0 1052.0,218.0 1051.0,219.0 1045.0,220.0 1038.0,223.0 1030.0,224.0 1029.0,225.0 1023.0,225.0 1022.0,226.0 989.0,226.0 988.0,225.0 980.0,225.0 979.0,224.0 968.0,223.0 967.0,222.0 964.0,222.0 963.0,221.0 948.0,218.0 944.0,216.0 941.0,216.0 940.0,215.0 937.0,215.0 936.0,214.0 933.0,214.0 932.0,213.0 929.0,213.0 924.0,211.0 915.0,210.0 914.0,209.0 909.0,209.0 908.0,208.0 903.0,208.0 902.0,207.0 897.0,207.0 896.0,206.0 890.0,206.0 889.0,205.0 884.0,205.0 883.0,204.0 877.0,204.0 876.0,203.0 870.0,203.0 869.0,202.0 858.0,201.0 857.0,200.0 847.0,199.0 846.0,198.0Z" fill="#26a92a" fill-rule="evenodd"/><path d="M840.0,197.0 840.0,459.0 1179.0,459.0 1179.0,224.0 1178.0,225.0 1166.0,226.0 1165.0,227.0 1160.0,227.0 1159.0,228.0 1153.0,228.0 1152.0,229.0 1146.0,229.0 1145.0,230.0 1139.0,230.0 1138.0,231.0 1131.0,231.0 1130.0,232.0 1124.0,232.0 1123.0,233.0 1116.0,233.0 1115.0,234.0 1106.0,234.0 1105.0,235.0 1093.0,235.0 1092.0,236.0 1055.0,236.0 1054.0,237.0 1012.0,238.0 1011.0,237.0 994.0,236.0 993.0,235.0 988.0,235.0 987.0,234.0 976.0,232.0 975.0,231.0 961.0,227.0 958.0,225.0 953.0,224.0 950.0,222.0 945.0,221.0 942.0,219.0 940.0,219.0 924.0,213.0 921.0,213.0 917.0,211.0 913.0,211.0 912.0,210.0 904.0,209.0 903.0,208.0 899.0,208.0 898.0,207.0 887.0,206.0 886.0,205.0 880.0,205.0 879.0,204.0 862.0,202.0 861.0,201.0 851.0,200.0 850.0,199.0 846.0,199.0 845.0,198.0 841.0,198.0Z" fill="#2ca726" fill-rule="evenodd"/><path d="M840.0,198.0 840.0,459.0 1179.0,459.0 1179.0,227.0 1177.0,227.0 1176.0,228.0 1171.0,228.0 1170.0,229.0 1165.0,229.0 1164.0,230.0 1152.0,231.0 1151.0,232.0 1145.0,232.0 1144.0,233.0 1138.0,233.0 1137.0,234.0 1131.0,234.0 1130.0,235.0 1123.0,235.0 1122.0,236.0 1116.0,236.0 1115.0,237.0 1095.0,239.0 1094.0,240.0 1083.0,241.0 1082.0,242.0 1078.0,242.0 1077.0,243.0 1073.0,243.0 1072.0,244.0 1066.0,244.0 1065.0,245.0 1010.0,245.0 1009.0,244.0 1003.0,244.0 1002.0,243.0 992.0,242.0 988.0,240.0 985.0,240.0 984.0,239.0 973.0,236.0 970.0,234.0 963.0,232.0 958.0,229.0 956.0,229.0 951.0,226.0 949.0,226.0 942.0,222.0 940.0,222.0 937.0,220.0 935.0,220.0 932.0,218.0 930.0,218.0 927.0,216.0 925.0,216.0 915.0,212.0 912.0,212.0 911.0,211.0 908.0,211.0 903.0,209.0 899.0,209.0 898.0,208.0 894.0,208.0 893.0,207.0 889.0,207.0 888.0,206.0 883.0,206.0 882.0,205.0 877.0,205.0 876.0,204.0 872.0,204.0 871.0,203.0 866.0,203.0 865.0,202.0 861.0,202.0 860.0,201.0 855.0,201.0 854.0,200.0Z" fill="#33a523" fill-rule="evenodd"/><path d="M840.0,198.0 840.0,459.0 1179.0,459.0 1179.0,229.0 1177.0,229.0 1176.0,230.0 1171.0,230.0 1170.0,231.0 1166.0,231.0 1165.0,232.0 1153.0,233.0 1152.0,234.0 1146.0,234.0 1145.0,235.0 1139.0,235.0 1138.0,236.0 1132.0,236.0 1131.0,237.0 1125.0,237.0 1124.0,238.0 1119.0,238.0 1118.0,239.0 1106.0,240.0 1105.0,241.0 1101.0,241.0 1100.0,242.0 1089.0,244.0 1085.0,246.0 1082.0,246.0 1078.0,248.0 1075.0,248.0 1070.0,250.0 1066.0,250.0 1065.0,251.0 1017.0,251.0 1016.0,250.0 1001.0,249.0 1000.0,248.0 997.0,248.0 996.0,247.0 993.0,247.0 992.0,246.0 989.0,246.0 988.0,245.0 983.0,244.0 980.0,242.0 978.0,242.0 970.0,238.0 968.0,238.0 933.0,221.0 931.0,221.0 926.0,218.0 924.0,218.0 921.0,216.0 919.0,216.0 906.0,211.0 903.0,211.0 902.0,210.0 899.0,210.0 894.0,208.0 890.0,208.0 889.0,207.0 885.0,207.0 884.0,206.0 880.0,206.0 879.0,205.0 875.0,205.0 874.0,204.0 869.0,204.0 868.0,203.0 864.0,203.0 863.0,202.0 859.0,202.0 858.0,201.0 854.0,201.0 853.0,200.0 849.0,200.0 848.0,199.0Z" fill="#3aa41f" fill-rule="evenodd"/><path d="M840.0,198.0 840.0,459.0 1179.0,459.0 1179.0,231.0 1175.0,231.0 1174.0,232.0 1170.0,232.0 1169.0,233.0 1164.0,233.0 1163.0,234.0 1158.0,234.0 1157.0,235.0 1152.0,235.0 1151.0,236.0 1139.0,237.0 1138.0,238.0 1125.0,239.0 1124.0,240.0 1119.0,240.0 1118.0,241.0 1114.0,241.0 1113.0,242.0 1108.0,242.0 1107.0,243.0 1100.0,244.0 1099.0,245.0 1088.0,248.0 1080.0,252.0 1078.0,252.0 1071.0,255.0 1068.0,255.0 1067.0,256.0 1061.0,256.0 1060.0,257.0 1015.0,256.0 1014.0,255.0 1006.0,255.0 1005.0,254.0 1001.0,254.0 1000.0,253.0 997.0,253.0 996.0,252.0 993.0,252.0 992.0,251.0 984.0,249.0 972.0,243.0 970.0,243.0 929.0,222.0 927.0,222.0 913.0,215.0 911.0,215.0 901.0,211.0 898.0,211.0 894.0,209.0 886.0,208.0 881.0,206.0 877.0,206.0 876.0,205.0 872.0,205.0 871.0,204.0 867.0,204.0 866.0,203.0 862.0,203.0 861.0,202.0 857.0,202.0 856.0,201.0 852.0,201.0 851.0,200.0 847.0,200.0 846.0,199.0Z" fill="#44a61c" fill-rule="evenodd"/><path d="M840.0,198.0 840.0,459.0 1179.0,459.0 1179.0,232.0 1173.0,233.0 1172.0,234.0 1168.0,234.0 1167.0,235.0 1163.0,235.0 1162.0,236.0 1150.0,237.0 1149.0,238.0 1144.0,238.0 1143.0,239.0 1137.0,239.0 1136.0,240.0 1131.0,240.0 1130.0,241.0 1125.0,241.0 1124.0,242.0 1119.0,242.0 1118.0,243.0 1114.0,243.0 1113.0,244.0 1106.0,245.0 1105.0,246.0 1097.0,248.0 1092.0,251.0 1090.0,251.0 1074.0,259.0 1068.0,260.0 1067.0,261.0 1063.0,261.0 1062.0,262.0 1015.0,262.0 1014.0,261.0 1006.0,261.0 1005.0,260.0 1001.0,260.0 1000.0,259.0 993.0,258.0 992.0,257.0 987.0,256.0 984.0,254.0 982.0,254.0 954.0,240.0 952.0,238.0 941.0,233.0 939.0,231.0 909.0,216.0 907.0,216.0 899.0,212.0 897.0,212.0 893.0,210.0 890.0,210.0 886.0,208.0 879.0,207.0 878.0,206.0 874.0,206.0 869.0,204.0 860.0,203.0 859.0,202.0 851.0,201.0 850.0,200.0 846.0,200.0 845.0,199.0Z" fill="#4da819" fill-rule="evenodd"/><path d="M840.0,198.0 840.0,459.0 1179.0,459.0 1179.0,233.0 1178.0,234.0 1175.0,234.0 1170.0,236.0 1166.0,236.0 1165.0,237.0 1161.0,237.0 1160.0,238.0 1155.0,238.0 1154.0,239.0 1149.0,239.0 1148.0,240.0 1143.0,240.0 1142.0,241.0 1137.0,241.0 1136.0,242.0 1131.0,242.0 1130.0,243.0 1125.0,243.0 1124.0,244.0 1120.0,244.0 1119.0,245.0 1111.0,246.0 1110.0,247.0 1105.0,248.0 1102.0,250.0 1100.0,250.0 1079.0,262.0 1077.0,262.0 1071.0,265.0 1064.0,266.0 1063.0,267.0 1058.0,267.0 1057.0,268.0 1045.0,268.0 1044.0,269.0 1009.0,270.0 1008.0,269.0 1000.0,269.0 999.0,268.0 989.0,267.0 988.0,266.0 982.0,265.0 979.0,263.0 977.0,263.0 967.0,258.0 926.0,230.0 923.0,229.0 908.0,219.0 896.0,213.0 894.0,213.0 891.0,211.0 889.0,211.0 882.0,208.0 879.0,208.0 875.0,206.0 867.0,205.0 866.0,204.0 863.0,204.0 858.0,202.0 854.0,202.0 853.0,201.0 849.0,201.0 848.0,200.0 845.0,200.0Z" fill="#5cac13" fill-rule="evenodd"/><path d="M840.0,199.0 840.0,459.0 1179.0,459.0 1179.0,235.0 1169.0,237.0 1168.0,238.0 1165.0,238.0 1164.0,239.0 1155.0,240.0 1154.0,241.0 1149.0,241.0 1148.0,242.0 1143.0,242.0 1142.0,243.0 1137.0,243.0 1136.0,244.0 1131.0,244.0 1130.0,245.0 1126.0,245.0 1125.0,246.0 1117.0,247.0 1116.0,248.0 1108.0,250.0 1098.0,255.0 1087.0,263.0 1075.0,269.0 1073.0,269.0 1069.0,271.0 1066.0,271.0 1065.0,272.0 1062.0,272.0 1061.0,273.0 1051.0,274.0 1050.0,275.0 1045.0,275.0 1044.0,276.0 1038.0,276.0 1037.0,277.0 1032.0,277.0 1031.0,278.0 1026.0,278.0 1025.0,279.0 1020.0,279.0 1019.0,280.0 1006.0,280.0 1005.0,281.0 983.0,281.0 982.0,280.0 975.0,279.0 963.0,272.0 916.0,231.0 894.0,215.0 884.0,210.0 882.0,210.0 872.0,206.0 869.0,206.0 868.0,205.0 865.0,205.0 864.0,204.0 861.0,204.0 856.0,202.0 852.0,202.0 851.0,201.0Z" fill="#6db10c" fill-rule="evenodd"/><path d="M840.0,199.0 840.0,459.0 1179.0,459.0 1179.0,236.0 1174.0,238.0 1171.0,238.0 1167.0,240.0 1160.0,241.0 1159.0,242.0 1155.0,242.0 1154.0,243.0 1150.0,243.0 1149.0,244.0 1145.0,244.0 1144.0,245.0 1140.0,245.0 1139.0,246.0 1129.0,247.0 1128.0,248.0 1125.0,248.0 1124.0,249.0 1121.0,249.0 1120.0,250.0 1112.0,252.0 1100.0,259.0 1087.0,269.0 1074.0,275.0 1071.0,275.0 1060.0,279.0 1049.0,281.0 1045.0,283.0 1042.0,283.0 1041.0,284.0 1038.0,284.0 1037.0,285.0 1034.0,285.0 1033.0,286.0 1030.0,286.0 1025.0,288.0 1020.0,288.0 1019.0,289.0 1011.0,289.0 1010.0,290.0 985.0,290.0 984.0,289.0 980.0,289.0 979.0,288.0 974.0,287.0 964.0,281.0 944.0,263.0 943.0,263.0 905.0,228.0 904.0,228.0 899.0,223.0 884.0,212.0 866.0,205.0 863.0,205.0 862.0,204.0 859.0,204.0 858.0,203.0 855.0,203.0 854.0,202.0 851.0,202.0 850.0,201.0Z" fill="#7db507" fill-rule="evenodd"/><path d="M840.0,199.0 840.0,459.0 1179.0,459.0 1179.0,237.0 1178.0,238.0 1173.0,239.0 1170.0,241.0 1164.0,242.0 1157.0,245.0 1154.0,245.0 1149.0,247.0 1145.0,247.0 1144.0,248.0 1141.0,248.0 1136.0,250.0 1132.0,250.0 1128.0,252.0 1122.0,253.0 1110.0,259.0 1096.0,270.0 1086.0,276.0 1084.0,276.0 1081.0,278.0 1079.0,278.0 1069.0,282.0 1066.0,282.0 1065.0,283.0 1063.0,283.0 1062.0,284.0 1060.0,284.0 1059.0,285.0 1057.0,285.0 1056.0,286.0 1054.0,286.0 1032.0,294.0 1029.0,294.0 1024.0,296.0 1018.0,296.0 1017.0,297.0 987.0,296.0 986.0,295.0 982.0,295.0 981.0,294.0 978.0,294.0 975.0,292.0 973.0,292.0 961.0,284.0 896.0,225.0 895.0,225.0 889.0,219.0 878.0,211.0 872.0,208.0 870.0,208.0 860.0,204.0 857.0,204.0 856.0,203.0 853.0,203.0 852.0,202.0 849.0,202.0 848.0,201.0 845.0,201.0Z" fill="#8cb804" fill-rule="evenodd"/><path d="M840.0,200.0 840.0,459.0 1179.0,459.0 1179.0,239.0 1175.0,240.0 1172.0,242.0 1170.0,242.0 1160.0,247.0 1155.0,248.0 1152.0,250.0 1150.0,250.0 1144.0,253.0 1139.0,254.0 1136.0,256.0 1131.0,257.0 1117.0,264.0 1115.0,266.0 1112.0,267.0 1107.0,271.0 1104.0,272.0 1102.0,274.0 1097.0,276.0 1093.0,279.0 1091.0,279.0 1080.0,284.0 1077.0,284.0 1073.0,286.0 1070.0,286.0 1069.0,287.0 1055.0,291.0 1035.0,300.0 1025.0,302.0 1024.0,303.0 1007.0,303.0 1006.0,302.0 998.0,302.0 997.0,301.0 990.0,301.0 989.0,300.0 981.0,299.0 980.0,298.0 975.0,297.0 966.0,292.0 958.0,285.0 957.0,285.0 951.0,279.0 950.0,279.0 888.0,222.0 887.0,222.0 881.0,216.0 874.0,211.0 858.0,204.0 855.0,204.0 847.0,201.0Z" fill="#9abc00" fill-rule="evenodd"/><path d="M840.0,200.0 840.0,459.0 1179.0,459.0 1179.0,240.0 1159.0,250.0 1157.0,252.0 1147.0,257.0 1140.0,262.0 1131.0,266.0 1129.0,268.0 1125.0,270.0 1123.0,270.0 1099.0,282.0 1097.0,282.0 1086.0,287.0 1083.0,287.0 1079.0,289.0 1072.0,290.0 1071.0,291.0 1060.0,294.0 1055.0,297.0 1053.0,297.0 1047.0,300.0 1045.0,302.0 1039.0,305.0 1037.0,305.0 1031.0,308.0 1028.0,308.0 1027.0,309.0 1013.0,309.0 1012.0,308.0 1007.0,308.0 1006.0,307.0 1002.0,307.0 1001.0,306.0 996.0,306.0 995.0,305.0 991.0,305.0 990.0,304.0 982.0,303.0 968.0,297.0 957.0,289.0 950.0,282.0 949.0,282.0 906.0,242.0 905.0,242.0 895.0,232.0 894.0,232.0 885.0,223.0 884.0,223.0 872.0,212.0 861.0,206.0Z" fill="#a9bf00" fill-rule="evenodd"/><path d="M840.0,200.0 840.0,459.0 1179.0,459.0 1179.0,242.0 1169.0,247.0 1157.0,256.0 1150.0,260.0 1147.0,263.0 1138.0,268.0 1136.0,270.0 1129.0,273.0 1127.0,275.0 1125.0,275.0 1116.0,280.0 1114.0,280.0 1101.0,286.0 1096.0,287.0 1093.0,289.0 1087.0,290.0 1083.0,292.0 1080.0,292.0 1076.0,294.0 1073.0,294.0 1072.0,295.0 1064.0,297.0 1061.0,299.0 1059.0,299.0 1053.0,303.0 1048.0,305.0 1043.0,309.0 1033.0,314.0 1030.0,314.0 1029.0,315.0 1019.0,315.0 1018.0,314.0 1014.0,314.0 1013.0,313.0 1010.0,313.0 1009.0,312.0 1006.0,312.0 1005.0,311.0 1002.0,311.0 997.0,309.0 993.0,309.0 988.0,307.0 984.0,307.0 983.0,306.0 975.0,304.0 967.0,300.0 955.0,291.0 949.0,285.0 948.0,285.0 938.0,275.0 937.0,275.0 927.0,265.0 926.0,265.0 904.0,244.0 903.0,244.0 893.0,234.0 892.0,234.0 881.0,223.0 880.0,223.0 867.0,211.0 856.0,205.0 854.0,205.0 844.0,201.0 841.0,201.0Z" fill="#b8c200" fill-rule="evenodd"/><path d="M840.0,201.0 840.0,459.0 1179.0,459.0 1179.0,243.0 1177.0,245.0 1171.0,248.0 1148.0,266.0 1131.0,277.0 1121.0,282.0 1119.0,282.0 1114.0,285.0 1104.0,288.0 1101.0,290.0 1064.0,301.0 1053.0,307.0 1047.0,312.0 1035.0,319.0 1033.0,319.0 1032.0,320.0 1021.0,320.0 1020.0,319.0 1016.0,319.0 1012.0,317.0 1009.0,317.0 1002.0,314.0 999.0,314.0 995.0,312.0 980.0,309.0 974.0,306.0 972.0,306.0 963.0,301.0 955.0,294.0 954.0,294.0 948.0,288.0 947.0,288.0 939.0,280.0 938.0,280.0 867.0,214.0 859.0,208.0 851.0,204.0Z" fill="#c5c500" fill-rule="evenodd"/><path d="M840.0,201.0 840.0,459.0 1179.0,459.0 1179.0,245.0 1170.0,251.0 1144.0,272.0 1135.0,278.0 1130.0,280.0 1128.0,282.0 1120.0,286.0 1113.0,288.0 1110.0,290.0 1105.0,291.0 1102.0,293.0 1100.0,293.0 1090.0,297.0 1087.0,297.0 1077.0,301.0 1074.0,301.0 1071.0,303.0 1064.0,305.0 1037.0,323.0 1035.0,323.0 1034.0,324.0 1021.0,324.0 1020.0,323.0 1010.0,321.0 994.0,315.0 991.0,315.0 990.0,314.0 987.0,314.0 983.0,312.0 980.0,312.0 979.0,311.0 974.0,310.0 971.0,308.0 969.0,308.0 956.0,300.0 944.0,289.0 943.0,289.0 934.0,280.0 933.0,280.0 897.0,246.0 896.0,246.0 863.0,214.0 862.0,214.0 854.0,207.0Z" fill="#cfc600" fill-rule="evenodd"/><path d="M840.0,202.0 840.0,459.0 1179.0,459.0 1179.0,247.0 1145.0,274.0 1128.0,285.0 1120.0,289.0 1118.0,289.0 1113.0,292.0 1108.0,293.0 1105.0,295.0 1103.0,295.0 1102.0,296.0 1073.0,305.0 1070.0,307.0 1068.0,307.0 1059.0,312.0 1049.0,320.0 1039.0,326.0 1032.0,327.0 1031.0,328.0 1026.0,328.0 1025.0,327.0 1016.0,326.0 1000.0,320.0 997.0,320.0 990.0,317.0 987.0,317.0 983.0,315.0 980.0,315.0 979.0,314.0 976.0,314.0 975.0,313.0 970.0,312.0 965.0,309.0 963.0,309.0 961.0,307.0 952.0,302.0 932.0,284.0 931.0,284.0 904.0,258.0 903.0,258.0 856.0,211.0 848.0,205.0 842.0,202.0Z" fill="#d8c800" fill-rule="evenodd"/><path d="M840.0,202.0 840.0,459.0 1179.0,459.0 1179.0,249.0 1173.0,253.0 1147.0,275.0 1131.0,286.0 1113.0,295.0 1111.0,295.0 1105.0,298.0 1103.0,298.0 1102.0,299.0 1079.0,306.0 1076.0,308.0 1074.0,308.0 1062.0,314.0 1049.0,324.0 1039.0,329.0 1036.0,329.0 1035.0,330.0 1022.0,330.0 1021.0,329.0 1013.0,328.0 1006.0,325.0 1003.0,325.0 990.0,320.0 987.0,320.0 986.0,319.0 971.0,316.0 970.0,315.0 959.0,312.0 946.0,305.0 938.0,299.0 931.0,292.0 930.0,292.0 888.0,250.0 888.0,249.0 873.0,234.0 873.0,233.0 861.0,221.0 861.0,220.0 847.0,206.0Z" fill="#e1c900" fill-rule="evenodd"/><path d="M840.0,203.0 840.0,459.0 1179.0,459.0 1179.0,251.0 1178.0,251.0 1145.0,279.0 1127.0,291.0 1105.0,301.0 1103.0,301.0 1102.0,302.0 1088.0,306.0 1085.0,308.0 1080.0,309.0 1077.0,311.0 1075.0,311.0 1065.0,316.0 1051.0,326.0 1043.0,330.0 1037.0,331.0 1036.0,332.0 1020.0,332.0 1019.0,331.0 1015.0,331.0 1007.0,328.0 1004.0,328.0 1000.0,326.0 997.0,326.0 993.0,324.0 990.0,324.0 986.0,322.0 982.0,322.0 981.0,321.0 973.0,320.0 972.0,319.0 966.0,319.0 965.0,318.0 960.0,318.0 959.0,317.0 950.0,316.0 936.0,310.0 920.0,295.0 920.0,294.0 914.0,288.0 914.0,287.0 893.0,263.0 893.0,262.0 888.0,257.0 883.0,250.0 877.0,244.0 872.0,237.0 854.0,217.0 854.0,216.0 842.0,204.0Z" fill="#e9cb00" fill-rule="evenodd"/><path d="M840.0,204.0 840.0,459.0 1179.0,459.0 1179.0,253.0 1152.0,276.0 1147.0,279.0 1139.0,286.0 1130.0,292.0 1127.0,293.0 1125.0,295.0 1105.0,304.0 1094.0,307.0 1091.0,309.0 1089.0,309.0 1088.0,310.0 1083.0,311.0 1078.0,314.0 1076.0,314.0 1046.0,331.0 1044.0,331.0 1040.0,333.0 1037.0,333.0 1036.0,334.0 1020.0,334.0 1019.0,333.0 1014.0,333.0 1009.0,331.0 1005.0,331.0 1004.0,330.0 1001.0,330.0 1000.0,329.0 997.0,329.0 993.0,327.0 990.0,327.0 985.0,325.0 981.0,325.0 980.0,324.0 946.0,322.0 934.0,317.0 930.0,313.0 929.0,313.0 917.0,300.0 917.0,299.0 909.0,290.0 896.0,272.0 888.0,263.0 885.0,258.0 881.0,254.0 881.0,253.0 877.0,249.0 877.0,248.0 873.0,244.0 861.0,228.0 856.0,223.0 847.0,211.0Z" fill="#f1cc00" fill-rule="evenodd"/><path d="M840.0,206.0 840.0,459.0 1179.0,459.0 1179.0,255.0 1144.0,285.0 1125.0,298.0 1111.0,305.0 1095.0,310.0 1092.0,312.0 1087.0,313.0 1077.0,318.0 1075.0,318.0 1069.0,322.0 1049.0,332.0 1047.0,332.0 1040.0,335.0 1036.0,335.0 1035.0,336.0 1020.0,336.0 1019.0,335.0 1008.0,334.0 1007.0,333.0 1003.0,333.0 1002.0,332.0 998.0,332.0 993.0,330.0 989.0,330.0 988.0,329.0 984.0,329.0 983.0,328.0 978.0,328.0 977.0,327.0 949.0,327.0 948.0,326.0 941.0,325.0 933.0,321.0 921.0,310.0 906.0,290.0 902.0,286.0 887.0,265.0 883.0,261.0 877.0,252.0 873.0,248.0 867.0,239.0Z" fill="#f5cb00" fill-rule="evenodd"/><path d="M840.0,208.0 840.0,459.0 1179.0,459.0 1179.0,258.0 1144.0,288.0 1121.0,304.0 1108.0,310.0 1106.0,310.0 1105.0,311.0 1094.0,314.0 1091.0,316.0 1086.0,317.0 1066.0,327.0 1064.0,327.0 1057.0,331.0 1055.0,331.0 1052.0,333.0 1050.0,333.0 1046.0,335.0 1043.0,335.0 1038.0,337.0 1033.0,337.0 1032.0,338.0 1023.0,338.0 1022.0,337.0 1014.0,337.0 1013.0,336.0 1000.0,335.0 999.0,334.0 994.0,334.0 993.0,333.0 982.0,332.0 981.0,331.0 954.0,331.0 953.0,330.0 947.0,330.0 946.0,329.0 940.0,328.0 931.0,323.0 917.0,309.0 876.0,254.0 872.0,250.0 863.0,237.0 859.0,233.0 856.0,228.0 852.0,224.0Z" fill="#fac900" fill-rule="evenodd"/><path d="M840.0,210.0 840.0,459.0 1179.0,459.0 1179.0,261.0 1145.0,291.0 1122.0,308.0 1112.0,313.0 1089.0,320.0 1086.0,322.0 1084.0,322.0 1081.0,324.0 1074.0,326.0 1069.0,329.0 1064.0,330.0 1061.0,332.0 1059.0,332.0 1052.0,335.0 1049.0,335.0 1045.0,337.0 1037.0,338.0 1036.0,339.0 1015.0,339.0 1014.0,338.0 1005.0,338.0 1004.0,337.0 996.0,337.0 995.0,336.0 979.0,335.0 978.0,334.0 955.0,334.0 954.0,333.0 948.0,333.0 947.0,332.0 944.0,332.0 943.0,331.0 938.0,330.0 931.0,326.0 916.0,311.0 916.0,310.0 912.0,306.0Z" fill="#ffc800" fill-rule="evenodd"/><path d="M840.0,213.0 840.0,459.0 1179.0,459.0 1179.0,266.0 1148.0,294.0 1147.0,294.0 1134.0,306.0 1123.0,314.0 1115.0,318.0 1105.0,320.0 1104.0,321.0 1101.0,321.0 1100.0,322.0 1097.0,322.0 1096.0,323.0 1079.0,328.0 1076.0,330.0 1074.0,330.0 1070.0,332.0 1067.0,332.0 1063.0,334.0 1060.0,334.0 1059.0,335.0 1056.0,335.0 1055.0,336.0 1052.0,336.0 1051.0,337.0 1048.0,337.0 1047.0,338.0 1044.0,338.0 1039.0,340.0 1033.0,340.0 1032.0,341.0 1018.0,341.0 1017.0,340.0 1002.0,340.0 1001.0,339.0 988.0,339.0 987.0,338.0 976.0,338.0 975.0,337.0 960.0,337.0 959.0,336.0 952.0,336.0 951.0,335.0 946.0,335.0 935.0,331.0 929.0,327.0 917.0,315.0 917.0,314.0 909.0,305.0 882.0,269.0 880.0,265.0 865.0,245.0 861.0,241.0Z" fill="#ffc500" fill-rule="evenodd"/><path d="M840.0,215.0 840.0,459.0 1179.0,459.0 1179.0,277.0 1139.0,314.0 1131.0,320.0 1123.0,324.0 1115.0,325.0 1114.0,326.0 1106.0,326.0 1105.0,327.0 1094.0,328.0 1090.0,330.0 1087.0,330.0 1083.0,332.0 1080.0,332.0 1079.0,333.0 1076.0,333.0 1071.0,335.0 1061.0,336.0 1060.0,337.0 1051.0,338.0 1050.0,339.0 1042.0,340.0 1041.0,341.0 1037.0,341.0 1036.0,342.0 990.0,342.0 989.0,341.0 976.0,341.0 975.0,340.0 965.0,340.0 964.0,339.0 950.0,338.0 949.0,337.0 939.0,335.0 933.0,332.0 921.0,322.0 921.0,321.0 907.0,305.0 889.0,281.0 887.0,277.0Z" fill="#ffc100" fill-rule="evenodd"/><path d="M840.0,217.0 840.0,459.0 1179.0,459.0 1179.0,317.0 1178.0,318.0 1175.0,318.0 1174.0,319.0 1172.0,319.0 1171.0,320.0 1169.0,320.0 1168.0,321.0 1166.0,321.0 1165.0,322.0 1163.0,322.0 1162.0,323.0 1160.0,323.0 1159.0,324.0 1157.0,324.0 1135.0,332.0 1130.0,332.0 1129.0,333.0 1112.0,333.0 1111.0,332.0 1096.0,333.0 1095.0,334.0 1091.0,334.0 1090.0,335.0 1086.0,335.0 1085.0,336.0 1081.0,336.0 1080.0,337.0 1075.0,337.0 1074.0,338.0 1064.0,338.0 1063.0,339.0 1055.0,339.0 1054.0,340.0 1044.0,341.0 1043.0,342.0 1033.0,343.0 1032.0,344.0 977.0,344.0 976.0,343.0 968.0,343.0 967.0,342.0 961.0,342.0 960.0,341.0 955.0,341.0 954.0,340.0 945.0,339.0 931.0,333.0 917.0,320.0 917.0,319.0 912.0,314.0 906.0,305.0 899.0,297.0 897.0,293.0Z" fill="#ffbd00" fill-rule="evenodd"/><path d="M840.0,220.0 840.0,459.0 1179.0,459.0 1179.0,329.0 1178.0,330.0 1172.0,331.0 1165.0,334.0 1162.0,334.0 1151.0,338.0 1148.0,338.0 1143.0,340.0 1138.0,340.0 1137.0,341.0 1128.0,341.0 1127.0,340.0 1121.0,340.0 1120.0,339.0 1114.0,339.0 1113.0,338.0 1098.0,338.0 1097.0,339.0 1091.0,339.0 1090.0,340.0 1084.0,340.0 1083.0,341.0 1054.0,341.0 1053.0,342.0 1042.0,343.0 1041.0,344.0 1037.0,344.0 1036.0,345.0 1028.0,345.0 1027.0,346.0 1002.0,346.0 1001.0,347.0 979.0,347.0 978.0,346.0 971.0,346.0 970.0,345.0 965.0,345.0 964.0,344.0 959.0,344.0 958.0,343.0 953.0,343.0 952.0,342.0 945.0,341.0 944.0,340.0 936.0,338.0 928.0,333.0 914.0,319.0Z" fill="#fdb600" fill-rule="evenodd"/><path d="M840.0,222.0 840.0,459.0 1179.0,459.0 1179.0,339.0 1175.0,341.0 1172.0,341.0 1168.0,343.0 1161.0,344.0 1157.0,346.0 1149.0,347.0 1148.0,348.0 1143.0,348.0 1142.0,349.0 1129.0,348.0 1121.0,345.0 1111.0,344.0 1110.0,343.0 1100.0,343.0 1099.0,344.0 1090.0,344.0 1089.0,345.0 1074.0,345.0 1073.0,344.0 1065.0,344.0 1064.0,343.0 1053.0,343.0 1052.0,344.0 1045.0,344.0 1044.0,345.0 1040.0,345.0 1039.0,346.0 1024.0,347.0 1023.0,348.0 1008.0,348.0 1007.0,349.0 996.0,349.0 995.0,350.0 980.0,350.0 979.0,349.0 973.0,349.0 972.0,348.0 967.0,348.0 966.0,347.0 952.0,345.0 951.0,344.0 948.0,344.0 947.0,343.0 944.0,343.0 943.0,342.0 938.0,341.0 925.0,333.0 911.0,318.0Z" fill="#fcaf00" fill-rule="evenodd"/><path d="M840.0,225.0 840.0,459.0 1179.0,459.0 1179.0,355.0 1178.0,356.0 1175.0,356.0 1170.0,358.0 1166.0,358.0 1165.0,359.0 1160.0,359.0 1159.0,360.0 1143.0,360.0 1142.0,359.0 1138.0,359.0 1128.0,354.0 1126.0,354.0 1123.0,352.0 1121.0,352.0 1118.0,350.0 1115.0,350.0 1114.0,349.0 1106.0,349.0 1105.0,348.0 1103.0,349.0 1077.0,349.0 1076.0,348.0 1072.0,348.0 1071.0,347.0 1067.0,347.0 1066.0,346.0 1060.0,346.0 1059.0,345.0 1051.0,345.0 1050.0,346.0 1044.0,346.0 1043.0,347.0 1038.0,347.0 1037.0,348.0 1032.0,348.0 1031.0,349.0 1024.0,349.0 1023.0,350.0 1013.0,350.0 1012.0,351.0 1004.0,351.0 1003.0,352.0 982.0,353.0 981.0,352.0 974.0,352.0 973.0,351.0 968.0,351.0 963.0,349.0 954.0,348.0 953.0,347.0 950.0,347.0 949.0,346.0 946.0,346.0 945.0,345.0 937.0,343.0 931.0,340.0 923.0,334.0 911.0,321.0Z" fill="#faa504" fill-rule="evenodd"/><path d="M840.0,229.0 840.0,459.0 1179.0,459.0 1179.0,381.0 1169.0,379.0 1168.0,378.0 1165.0,378.0 1164.0,377.0 1161.0,377.0 1160.0,376.0 1157.0,376.0 1156.0,375.0 1153.0,375.0 1152.0,374.0 1141.0,371.0 1135.0,368.0 1121.0,358.0 1113.0,355.0 1109.0,355.0 1108.0,354.0 1082.0,354.0 1081.0,353.0 1077.0,353.0 1076.0,352.0 1070.0,351.0 1062.0,348.0 1055.0,348.0 1054.0,347.0 1052.0,347.0 1051.0,348.0 1043.0,348.0 1042.0,349.0 1038.0,349.0 1037.0,350.0 1032.0,350.0 1031.0,351.0 1026.0,351.0 1025.0,352.0 1019.0,352.0 1018.0,353.0 1011.0,353.0 1010.0,354.0 1004.0,354.0 1003.0,355.0 981.0,356.0 980.0,355.0 973.0,355.0 972.0,354.0 963.0,353.0 962.0,352.0 959.0,352.0 958.0,351.0 955.0,351.0 954.0,350.0 951.0,350.0 950.0,349.0 947.0,349.0 946.0,348.0 938.0,346.0 928.0,341.0 924.0,338.0 913.0,327.0Z" fill="#f89b07" fill-rule="evenodd"/><path d="M840.0,234.0 840.0,459.0 1179.0,459.0 1179.0,387.0 1169.0,385.0 1168.0,384.0 1165.0,384.0 1161.0,382.0 1154.0,381.0 1150.0,379.0 1147.0,379.0 1146.0,378.0 1138.0,376.0 1126.0,370.0 1121.0,366.0 1109.0,361.0 1083.0,359.0 1082.0,358.0 1079.0,358.0 1068.0,353.0 1066.0,353.0 1062.0,351.0 1059.0,351.0 1058.0,350.0 1044.0,350.0 1043.0,351.0 1029.0,353.0 1024.0,355.0 1019.0,355.0 1018.0,356.0 1007.0,357.0 1006.0,358.0 1000.0,358.0 999.0,359.0 976.0,359.0 975.0,358.0 970.0,358.0 969.0,357.0 965.0,357.0 964.0,356.0 956.0,355.0 952.0,353.0 949.0,353.0 948.0,352.0 942.0,351.0 939.0,349.0 937.0,349.0 927.0,344.0 923.0,341.0 910.0,328.0Z" fill="#f68f08" fill-rule="evenodd"/><path d="M840.0,243.0 840.0,459.0 1179.0,459.0 1179.0,391.0 1174.0,390.0 1170.0,388.0 1163.0,387.0 1159.0,385.0 1148.0,383.0 1144.0,381.0 1141.0,381.0 1140.0,380.0 1126.0,376.0 1121.0,373.0 1119.0,373.0 1116.0,371.0 1114.0,371.0 1110.0,369.0 1102.0,368.0 1101.0,367.0 1089.0,366.0 1088.0,365.0 1081.0,364.0 1061.0,354.0 1058.0,354.0 1057.0,353.0 1042.0,353.0 1041.0,354.0 1037.0,354.0 1033.0,356.0 1030.0,356.0 1023.0,359.0 1020.0,359.0 1015.0,361.0 1011.0,361.0 1010.0,362.0 1005.0,362.0 1004.0,363.0 974.0,363.0 973.0,362.0 966.0,362.0 965.0,361.0 960.0,361.0 959.0,360.0 952.0,359.0 951.0,358.0 945.0,357.0 942.0,355.0 937.0,354.0 919.0,344.0 903.0,328.0Z" fill="#f28108" fill-rule="evenodd"/><path d="M840.0,341.0 840.0,459.0 1179.0,459.0 1179.0,394.0 1178.0,393.0 1175.0,393.0 1171.0,391.0 1160.0,389.0 1156.0,387.0 1153.0,387.0 1152.0,386.0 1149.0,386.0 1148.0,385.0 1145.0,385.0 1144.0,384.0 1141.0,384.0 1140.0,383.0 1137.0,383.0 1136.0,382.0 1133.0,382.0 1128.0,380.0 1124.0,380.0 1119.0,378.0 1115.0,378.0 1114.0,377.0 1110.0,377.0 1109.0,376.0 1105.0,376.0 1104.0,375.0 1100.0,375.0 1099.0,374.0 1095.0,374.0 1094.0,373.0 1083.0,371.0 1080.0,369.0 1078.0,369.0 1062.0,359.0 1060.0,359.0 1057.0,357.0 1054.0,357.0 1053.0,356.0 1045.0,356.0 1044.0,357.0 1040.0,357.0 1039.0,358.0 1034.0,359.0 1016.0,368.0 1013.0,368.0 1012.0,369.0 1005.0,369.0 1004.0,370.0 996.0,370.0 995.0,369.0 976.0,369.0 975.0,368.0 972.0,368.0 971.0,369.0 952.0,369.0 951.0,368.0 944.0,367.0 934.0,362.0 932.0,362.0 925.0,359.0 921.0,359.0 920.0,358.0 911.0,359.0 895.0,365.0 884.0,365.0 883.0,364.0 877.0,363.0 863.0,356.0Z" fill="#ef7408" fill-rule="evenodd"/><path d="M840.0,350.0 840.0,459.0 1179.0,459.0 1179.0,396.0 1177.0,396.0 1173.0,394.0 1166.0,393.0 1162.0,391.0 1159.0,391.0 1158.0,390.0 1155.0,390.0 1154.0,389.0 1151.0,389.0 1150.0,388.0 1147.0,388.0 1146.0,387.0 1143.0,387.0 1138.0,385.0 1125.0,384.0 1124.0,383.0 1109.0,383.0 1108.0,382.0 1102.0,382.0 1101.0,381.0 1096.0,381.0 1091.0,379.0 1087.0,379.0 1083.0,377.0 1077.0,376.0 1071.0,373.0 1060.0,365.0 1053.0,362.0 1043.0,362.0 1042.0,363.0 1040.0,363.0 1025.0,374.0 1009.0,380.0 996.0,380.0 995.0,379.0 985.0,378.0 984.0,377.0 972.0,377.0 971.0,378.0 963.0,379.0 950.0,384.0 942.0,385.0 941.0,386.0 936.0,386.0 935.0,385.0 931.0,385.0 930.0,384.0 928.0,384.0 921.0,381.0 918.0,381.0 917.0,380.0 903.0,379.0 902.0,378.0 895.0,378.0 894.0,377.0 889.0,377.0 885.0,375.0 882.0,375.0 864.0,366.0Z" fill="#ec6808" fill-rule="evenodd"/><path d="M840.0,355.0 840.0,459.0 1179.0,459.0 1179.0,398.0 1176.0,398.0 1172.0,396.0 1161.0,394.0 1157.0,392.0 1154.0,392.0 1153.0,391.0 1150.0,391.0 1145.0,389.0 1136.0,388.0 1135.0,387.0 1104.0,388.0 1103.0,387.0 1091.0,386.0 1090.0,385.0 1086.0,385.0 1081.0,383.0 1077.0,383.0 1076.0,382.0 1069.0,381.0 1052.0,374.0 1043.0,374.0 1042.0,375.0 1039.0,375.0 1038.0,376.0 1030.0,378.0 1027.0,380.0 1022.0,381.0 1009.0,387.0 1007.0,387.0 1003.0,389.0 1000.0,389.0 999.0,390.0 992.0,390.0 991.0,389.0 987.0,389.0 986.0,388.0 982.0,388.0 981.0,387.0 965.0,387.0 964.0,388.0 961.0,388.0 960.0,389.0 949.0,392.0 943.0,395.0 940.0,395.0 939.0,396.0 930.0,396.0 905.0,386.0 902.0,386.0 901.0,385.0 898.0,385.0 897.0,384.0 894.0,384.0 893.0,383.0 890.0,383.0 889.0,382.0 881.0,380.0 862.0,370.0Z" fill="#e85c08" fill-rule="evenodd"/><path d="M840.0,360.0 840.0,459.0 1179.0,459.0 1179.0,401.0 1178.0,400.0 1171.0,399.0 1167.0,397.0 1164.0,397.0 1163.0,396.0 1160.0,396.0 1159.0,395.0 1156.0,395.0 1155.0,394.0 1152.0,394.0 1151.0,393.0 1148.0,393.0 1143.0,391.0 1138.0,391.0 1137.0,390.0 1123.0,390.0 1122.0,391.0 1117.0,391.0 1116.0,392.0 1104.0,393.0 1103.0,392.0 1095.0,392.0 1094.0,391.0 1084.0,390.0 1083.0,389.0 1078.0,389.0 1077.0,388.0 1057.0,386.0 1056.0,385.0 1053.0,385.0 1052.0,384.0 1045.0,383.0 1044.0,382.0 1032.0,382.0 1031.0,383.0 1024.0,384.0 1018.0,387.0 1016.0,387.0 999.0,396.0 996.0,396.0 995.0,397.0 989.0,397.0 988.0,396.0 983.0,396.0 978.0,394.0 971.0,394.0 970.0,393.0 968.0,393.0 967.0,394.0 957.0,395.0 940.0,402.0 937.0,402.0 936.0,403.0 929.0,403.0 928.0,402.0 925.0,402.0 922.0,400.0 920.0,400.0 904.0,392.0 881.0,385.0 857.0,372.0Z" fill="#e5510b" fill-rule="evenodd"/><path d="M840.0,370.0 840.0,459.0 1179.0,459.0 1179.0,403.0 1176.0,403.0 1172.0,401.0 1161.0,399.0 1157.0,397.0 1154.0,397.0 1149.0,395.0 1145.0,395.0 1144.0,394.0 1139.0,394.0 1138.0,393.0 1127.0,393.0 1126.0,394.0 1122.0,394.0 1121.0,395.0 1118.0,395.0 1113.0,397.0 1096.0,397.0 1095.0,396.0 1090.0,396.0 1089.0,395.0 1085.0,395.0 1084.0,394.0 1070.0,393.0 1069.0,392.0 1062.0,392.0 1061.0,391.0 1057.0,391.0 1044.0,386.0 1032.0,385.0 1031.0,386.0 1027.0,386.0 1026.0,387.0 1018.0,389.0 1002.0,398.0 1000.0,400.0 995.0,402.0 982.0,402.0 981.0,401.0 977.0,401.0 976.0,400.0 965.0,399.0 964.0,400.0 959.0,400.0 958.0,401.0 952.0,402.0 947.0,405.0 945.0,405.0 942.0,407.0 940.0,407.0 936.0,409.0 923.0,409.0 894.0,396.0 888.0,395.0 887.0,394.0 879.0,392.0 876.0,390.0 874.0,390.0 862.0,384.0 860.0,382.0 857.0,381.0 852.0,377.0 849.0,376.0Z" fill="#e2460e" fill-rule="evenodd"/><path d="M891.0,459.0 1179.0,459.0 1179.0,407.0 1171.0,404.0 1160.0,402.0 1152.0,399.0 1143.0,398.0 1142.0,397.0 1127.0,397.0 1126.0,398.0 1123.0,398.0 1112.0,402.0 1097.0,402.0 1096.0,401.0 1091.0,401.0 1090.0,400.0 1086.0,400.0 1085.0,399.0 1080.0,399.0 1079.0,398.0 1073.0,398.0 1072.0,397.0 1061.0,396.0 1060.0,395.0 1055.0,394.0 1052.0,392.0 1050.0,392.0 1047.0,390.0 1041.0,389.0 1040.0,388.0 1029.0,388.0 1028.0,389.0 1025.0,389.0 1019.0,392.0 1017.0,392.0 994.0,407.0 991.0,407.0 990.0,408.0 980.0,408.0 979.0,407.0 973.0,407.0 972.0,406.0 961.0,406.0 960.0,407.0 957.0,407.0 956.0,408.0 951.0,409.0 931.0,419.0 910.0,425.0 907.0,427.0 901.0,434.0Z" fill="#df3c11" fill-rule="evenodd"/><path d="M954.0,428.0 955.0,438.0 956.0,439.0 956.0,443.0 957.0,444.0 957.0,450.0 958.0,451.0 958.0,459.0 1179.0,459.0 1179.0,412.0 1178.0,411.0 1168.0,409.0 1164.0,407.0 1161.0,407.0 1160.0,406.0 1157.0,406.0 1152.0,404.0 1148.0,404.0 1147.0,403.0 1142.0,403.0 1141.0,402.0 1132.0,402.0 1131.0,403.0 1127.0,403.0 1126.0,404.0 1124.0,404.0 1117.0,407.0 1113.0,407.0 1112.0,408.0 1101.0,408.0 1100.0,407.0 1089.0,406.0 1088.0,405.0 1084.0,405.0 1083.0,404.0 1079.0,404.0 1078.0,403.0 1074.0,403.0 1073.0,402.0 1065.0,401.0 1042.0,391.0 1030.0,390.0 1029.0,391.0 1026.0,391.0 1016.0,395.0 992.0,413.0 990.0,413.0 987.0,415.0 984.0,415.0 983.0,416.0 977.0,416.0 976.0,417.0 964.0,418.0 958.0,421.0 956.0,423.0Z" fill="#db3215" fill-rule="evenodd"/><path d="M971.0,455.0 971.0,459.0 1170.0,459.0 1168.0,456.0 1146.0,434.0 1135.0,426.0 1129.0,423.0 1127.0,423.0 1117.0,419.0 1114.0,419.0 1113.0,418.0 1110.0,418.0 1109.0,417.0 1106.0,417.0 1105.0,416.0 1102.0,416.0 1101.0,415.0 1098.0,415.0 1097.0,414.0 1094.0,414.0 1093.0,413.0 1090.0,413.0 1089.0,412.0 1074.0,409.0 1073.0,408.0 1068.0,407.0 1065.0,405.0 1063.0,405.0 1044.0,394.0 1036.0,393.0 1035.0,392.0 1023.0,394.0 1011.0,401.0 986.0,426.0 985.0,426.0 980.0,431.0 975.0,439.0 975.0,441.0 973.0,445.0 973.0,448.0 972.0,449.0 972.0,454.0Z" fill="#d82818" fill-rule="evenodd"/><path d="M984.0,459.0 1110.0,459.0 1110.0,458.0 1109.0,457.0 1109.0,454.0 1108.0,453.0 1105.0,442.0 1100.0,433.0 1096.0,429.0 1081.0,421.0 1079.0,421.0 1071.0,417.0 1065.0,413.0 1050.0,400.0 1042.0,396.0 1039.0,396.0 1038.0,395.0 1028.0,395.0 1027.0,396.0 1022.0,397.0 1014.0,402.0 1006.0,410.0 1000.0,421.0 995.0,437.0 991.0,443.0Z" fill="#d42220" fill-rule="evenodd"/><path d="M1022.0,400.0 1016.0,404.0 1012.0,408.0 1008.0,415.0 1007.0,424.0 1010.0,432.0 1022.0,445.0 1029.0,450.0 1042.0,457.0 1044.0,457.0 1045.0,458.0 1052.0,458.0 1056.0,453.0 1056.0,451.0 1058.0,447.0 1058.0,443.0 1059.0,442.0 1059.0,421.0 1058.0,420.0 1058.0,417.0 1054.0,409.0 1047.0,402.0 1039.0,398.0 1028.0,398.0 1027.0,399.0Z" fill="#d01c29" fill-rule="evenodd"/><path d="M1028.0,402.0 1023.0,404.0 1017.0,409.0 1014.0,415.0 1014.0,421.0 1018.0,428.0 1021.0,431.0 1029.0,435.0 1034.0,435.0 1039.0,433.0 1046.0,426.0 1049.0,419.0 1049.0,413.0 1046.0,407.0 1041.0,403.0 1039.0,403.0 1038.0,402.0Z" fill="#cd1f37" fill-rule="evenodd"/><path d="M1030.0,412.0 1028.0,414.0 1028.0,417.0 1029.0,418.0 1033.0,418.0 1035.0,416.0 1035.0,413.0 1034.0,412.0Z" fill="#cd2343" fill-rule="evenodd"/></g></g><g clip-path="url(#bcB)"><path d="M1075.0,211.0 C1076.5,210.5 1081.2,209.0 1084.0,208.0 C1086.8,207.0 1090.7,205.5 1092.0,205.0" fill="none" stroke="#000" stroke-width="2.6"/><path d="M924.9,330.0 C927.4,330.7 935.3,332.6 940.0,334.0 C944.7,335.4 948.5,336.9 953.0,338.4 C957.5,339.9 962.3,341.6 967.0,343.0 C971.7,344.4 977.2,346.2 981.4,347.0 C985.6,347.8 988.2,347.5 992.0,347.5 C995.8,347.5 1002.0,347.1 1004.0,347.0" fill="none" stroke="#000" stroke-width="2.6"/><path d="M1065.0,343.5 C1067.5,343.9 1075.1,345.0 1080.0,346.0 C1084.9,347.0 1089.6,348.4 1094.6,349.7 C1099.6,351.0 1105.3,352.6 1110.0,354.0 C1114.7,355.4 1117.9,356.8 1122.9,358.0 C1127.9,359.2 1133.3,360.5 1140.0,361.5 C1146.7,362.5 1159.2,363.6 1163.0,364.0" fill="none" stroke="#000" stroke-width="2.6"/><path d="M995.0,233.0 C995.8,232.8 999.2,232.2 1000.0,232.0" fill="none" stroke="#000" stroke-width="2.6"/><path d="M1015.0,230.0 C1015.5,229.8 1017.5,229.2 1018.0,229.0" fill="none" stroke="#000" stroke-width="2.6"/></g><g clip-path="url(#bcB)"><text class="b" x="1011" y="152" font-size="25" text-anchor="middle" transform="rotate(-25,1011,144) translate(1011,0) scale(0.88,1) translate(-1011,0)">7.8</text><text class="b" x="1046" y="233" font-size="25" text-anchor="middle" transform="rotate(-12,1046,225) translate(1046,0) scale(0.88,1) translate(-1046,0)">7.9</text><text class="b" x="1034" y="355" font-size="25" text-anchor="middle" transform="rotate(0,1034,347) translate(1034,0) scale(0.88,1) translate(-1034,0)">8.1</text></g>
<g transform="translate(0,0)"><path d="M748.0,51.0 980.8,51.0 973.0,56.0 966.7,60.0 970.7,66.0 960.6,72.0 952.5,74.0 950.5,80.0 948.5,86.0 952.5,94.5 958.6,94.5 963.0,96.0 967.0,100.0 970.0,106.0 971.0,112.0 969.0,118.0 966.0,122.0 960.0,124.0 955.0,121.0 947.0,118.0 940.0,117.5 932.0,118.0 924.0,118.5 935.0,121.5 945.0,124.0 955.0,128.0 963.0,131.0 970.0,134.0 978.0,140.0 985.0,147.0 990.0,155.0 995.0,161.0 1003.0,173.0 1009.0,179.0 1017.0,187.4 1021.0,195.5 1019.0,201.5 1013.0,209.6 1005.0,223.8 999.0,234.0 1001.0,240.0 1004.0,250.0 1000.0,262.0 995.0,270.0 985.0,280.0 965.0,294.0 947.0,304.0 945.0,306.0 929.0,312.0 919.0,314.0 917.0,310.0 919.0,298.0 915.0,300.0 909.0,310.0 905.0,318.0 889.0,326.0 869.0,328.0 857.0,326.0 845.0,322.0 825.0,326.0 805.0,330.0 794.0,330.0 791.0,320.0 788.0,326.0 775.3,331.0 763.2,340.7 752.6,345.0 748.0,349.0ZM1035.0,51.0 1264.0,51.0 1264.0,274.0 1259.0,276.0 1257.0,290.0 1253.0,318.0 1245.0,326.0 1235.0,322.0 1223.0,314.0 1223.0,300.0 1227.0,286.0 1229.0,278.0 1221.0,268.0 1225.0,256.0 1225.0,240.0 1220.0,246.0 1215.0,250.0 1205.0,242.0 1197.0,232.0 1191.0,222.0 1197.0,216.0 1199.0,210.0 1193.0,212.0 1185.0,208.0 1179.0,192.0 1176.0,193.0 1173.0,202.0 1177.0,218.0 1180.0,232.0 1181.0,240.0 1185.0,250.0 1187.0,260.0 1185.0,270.0 1188.0,284.0 1195.0,292.0 1190.0,298.0 1181.0,302.0 1173.0,306.0 1171.0,318.0 1165.0,314.0 1145.0,302.0 1125.0,290.0 1105.0,276.0 1089.0,265.0 1097.0,260.0 1105.0,246.0 1107.0,232.0 1109.0,220.0 1109.0,196.0 1113.0,184.0 1125.0,174.0 1121.0,168.0 1113.0,172.0 1097.0,178.0 1085.0,186.0 1078.0,200.0 1077.0,212.0 1073.7,223.8 1067.7,219.7 1059.6,201.5 1057.6,189.4 1061.6,183.4 1053.5,177.0 1045.5,165.0 1043.4,157.0 1049.5,145.0 1061.6,135.0 1060.0,127.0 1053.0,135.0 1041.0,143.0 1031.0,149.0 1024.0,146.0 1024.0,143.0 1022.0,137.0 1017.0,129.0 1019.0,124.0 1017.0,118.0 1007.0,116.0 1011.0,110.0 1005.0,106.0 1011.0,102.0 1003.0,100.0 1005.0,94.0 999.0,88.0 1001.0,82.0 1007.0,74.0 1017.0,68.0 1025.0,64.0 1035.0,52.0ZM1185.0,438.0 1191.0,428.0 1197.0,428.0 1203.0,438.0 1207.0,444.0 1215.0,434.0 1225.0,430.0 1237.0,432.0 1245.0,436.0 1251.0,436.0 1253.0,432.0 1265.0,428.0 1265.0,492.0 1197.0,492.0 1195.0,472.0 1193.0,452.0Z" fill="#6b6b6b"/><path d="M1172.0,316.0 1178.0,310.0 1186.0,311.0 1187.0,318.0 1182.0,324.0 1174.0,323.0Z" fill="#6b6b6b"/>
<path d="M748.0,329.0 756.0,327.0 762.0,331.0 757.0,337.0 748.0,340.5Z" fill="#fff"/>
</g>
<circle cx="990" cy="125" r="2.6" fill="#3a3a3a"/><circle cx="1009" cy="159" r="2.6" fill="#3a3a3a"/><circle cx="1027" cy="189" r="2.6" fill="#3a3a3a"/><circle cx="1018" cy="231" r="2.6" fill="#3a3a3a"/><circle cx="1064" cy="247" r="2.6" fill="#3a3a3a"/><circle cx="1015" cy="273.6" r="2.6" fill="#3a3a3a"/><circle cx="1045.4" cy="273.6" r="2.6" fill="#3a3a3a"/><circle cx="1072.6" cy="273.6" r="2.6" fill="#3a3a3a"/><circle cx="1002.6" cy="315" r="2.6" fill="#3a3a3a"/><circle cx="1036.6" cy="314" r="2.6" fill="#3a3a3a"/><circle cx="1070" cy="314" r="2.6" fill="#3a3a3a"/><circle cx="1107.4" cy="315" r="2.6" fill="#3a3a3a"/><circle cx="951.6" cy="363.6" r="2.6" fill="#3a3a3a"/><circle cx="1010" cy="363.6" r="2.6" fill="#3a3a3a"/><circle cx="1055" cy="363" r="2.6" fill="#3a3a3a"/><circle cx="1103" cy="359.6" r="2.6" fill="#3a3a3a"/><circle cx="904.6" cy="415" r="2.6" fill="#3a3a3a"/><circle cx="968.6" cy="417" r="2.6" fill="#3a3a3a"/><circle cx="1029" cy="414.4" r="2.6" fill="#3a3a3a"/><circle cx="1088" cy="415" r="2.6" fill="#3a3a3a"/>
</g>
<g clip-path="url(#clipD)">
<defs><clipPath id="bcD"><path d="M975.0,509.2 C983.0,509.2 1004.7,507.0 1013.0,509.2 C1021.3,511.4 1020.5,514.0 1025.0,522.2 C1029.5,530.4 1033.2,548.5 1040.0,558.2 C1046.8,567.9 1061.3,571.9 1066.0,580.2 C1070.7,588.5 1066.5,597.7 1068.0,608.2 C1069.5,618.7 1073.5,636.5 1075.0,643.2 C1076.5,649.9 1074.7,644.7 1077.0,648.2 C1079.3,651.7 1085.7,660.2 1089.0,664.2 C1092.3,668.2 1094.0,669.9 1097.0,672.2 C1100.0,674.5 1104.0,673.9 1107.0,678.2 C1110.0,682.5 1111.2,688.2 1115.0,698.2 C1118.8,708.2 1121.0,725.9 1130.0,738.2 C1139.0,750.5 1162.8,765.5 1169.0,772.2 C1175.2,778.9 1168.3,775.5 1167.0,778.2 C1165.7,780.9 1163.0,785.5 1161.0,788.2 C1159.0,790.9 1156.0,792.5 1155.0,794.2 C1154.0,795.9 1154.3,796.5 1155.0,798.2 C1155.7,799.9 1157.8,801.2 1159.0,804.2 C1160.2,807.2 1161.7,812.5 1162.0,816.2 C1162.3,819.9 1162.2,822.5 1161.0,826.2 C1159.8,829.9 1158.0,835.2 1155.0,838.2 C1152.0,841.2 1146.3,842.4 1143.0,844.2 C1139.7,846.0 1135.7,847.5 1135.0,849.2 C1134.3,850.9 1137.3,852.0 1139.0,854.2 C1140.7,856.4 1143.7,858.9 1145.0,862.2 C1146.3,865.5 1147.7,870.2 1147.0,874.2 C1146.3,878.2 1144.7,882.2 1141.0,886.2 C1137.3,890.2 1131.0,895.0 1125.0,898.2 C1119.0,901.4 1111.7,903.5 1105.0,905.2 C1098.3,906.9 1091.0,907.9 1085.0,908.2 C1079.0,908.5 1073.7,907.7 1069.0,907.2 C1064.3,906.7 1061.0,905.4 1057.0,905.2 C1053.0,905.0 1050.3,905.9 1045.0,906.2 C1039.7,906.5 1031.7,907.2 1025.0,907.2 C1018.3,907.2 1011.7,905.7 1005.0,906.2 C998.3,906.7 991.7,909.4 985.0,910.2 C978.3,911.0 971.0,911.5 965.0,911.2 C959.0,910.9 954.7,909.0 949.0,908.2 C943.3,907.4 937.3,906.0 931.0,906.2 C924.7,906.4 917.3,908.7 911.0,909.2 C904.7,909.7 899.3,910.0 893.0,909.2 C886.7,908.4 879.0,906.7 873.0,904.2 C867.0,901.7 861.0,898.2 857.0,894.2 C853.0,890.2 850.3,884.5 849.0,880.2 C847.7,875.9 848.3,872.5 849.0,868.2 C849.7,863.9 850.3,858.2 853.0,854.2 C855.7,850.2 859.7,846.7 865.0,844.2 C870.3,841.7 879.8,840.4 885.0,839.2 C890.2,838.0 894.5,839.0 896.0,837.2 C897.5,835.4 894.5,831.4 894.0,828.2 C893.5,825.0 892.2,821.9 893.0,818.2 C893.8,814.5 896.0,809.9 899.0,806.2 C902.0,802.5 906.7,799.2 911.0,796.2 C915.3,793.2 920.0,790.0 925.0,788.2 C930.0,786.4 937.5,786.0 941.0,785.2 C944.5,784.4 945.3,785.7 946.0,783.2 C946.7,780.7 945.2,774.4 945.0,770.2 C944.8,766.0 942.5,763.5 945.0,758.2 C947.5,752.9 953.3,746.5 960.0,738.2 C966.7,729.9 979.5,721.5 985.0,708.2 C990.5,694.9 994.2,674.9 993.0,658.2 C991.8,641.5 984.3,619.2 978.0,608.2 C971.7,597.2 963.3,596.9 955.0,592.2 C946.7,587.5 931.3,583.9 928.0,580.2 C924.7,576.5 932.3,574.7 935.0,570.2 C937.7,565.7 942.7,559.4 944.0,553.2 C945.3,547.0 941.2,539.4 943.0,533.2 C944.8,527.0 951.3,520.2 955.0,516.2 C958.7,512.2 961.7,510.4 965.0,509.2 C968.3,508.0 967.0,509.2 975.0,509.2Z"/></clipPath><filter id="bfD" x="-5%" y="-5%" width="110%" height="110%"><feGaussianBlur stdDeviation="1.5"/></filter></defs><g clip-path="url(#bcD)"><g filter="url(#bfD)"><rect x="840" y="505" width="340" height="413" fill="#3774f0"/><path d="M840.0,505.0 840.0,641.0 849.0,656.0 849.0,660.0 847.0,664.0 840.0,673.0 840.0,917.0 1179.0,917.0 1179.0,579.0 1173.0,574.0 1162.0,568.0 1159.0,564.0 1160.0,562.0 1160.0,554.0 1161.0,553.0 1161.0,526.0 1160.0,525.0 1160.0,518.0 1159.0,517.0 1159.0,512.0 1158.0,511.0 1158.0,507.0 1157.0,505.0Z" fill="#2987f0" fill-rule="evenodd"/><path d="M840.0,505.0 840.0,641.0 849.0,656.0 849.0,660.0 847.0,664.0 840.0,673.0 840.0,917.0 1179.0,917.0 1179.0,579.0 1168.0,571.0 1162.0,568.0 1159.0,565.0 1159.0,562.0 1160.0,561.0 1160.0,554.0 1161.0,553.0 1161.0,526.0 1160.0,525.0 1160.0,518.0 1159.0,517.0 1159.0,512.0 1158.0,511.0 1158.0,507.0 1157.0,505.0ZM1034.0,850.0 1042.0,853.0 1048.0,859.0 1049.0,861.0 1049.0,866.0 1046.0,872.0 1042.0,876.0 1042.0,877.0 1033.0,886.0 1028.0,887.0 1023.0,884.0 1017.0,878.0 1017.0,877.0 1011.0,871.0 1007.0,863.0 1008.0,862.0 1008.0,860.0 1011.0,857.0 1015.0,855.0 1017.0,855.0 1020.0,853.0 1022.0,853.0 1026.0,851.0Z" fill="#2593ea" fill-rule="evenodd"/><path d="M840.0,505.0 840.0,641.0 849.0,656.0 849.0,660.0 847.0,664.0 840.0,673.0 840.0,917.0 1179.0,917.0 1179.0,579.0 1168.0,571.0 1162.0,568.0 1159.0,565.0 1159.0,562.0 1160.0,561.0 1160.0,554.0 1161.0,553.0 1161.0,526.0 1160.0,525.0 1160.0,518.0 1159.0,517.0 1159.0,512.0 1158.0,511.0 1158.0,507.0 1157.0,505.0ZM1037.0,845.0 1046.0,850.0 1051.0,855.0 1054.0,860.0 1054.0,869.0 1051.0,876.0 1043.0,885.0 1043.0,886.0 1033.0,896.0 1028.0,897.0 1023.0,894.0 1008.0,878.0 1002.0,868.0 1001.0,861.0 1002.0,860.0 1002.0,858.0 1006.0,854.0 1012.0,851.0 1014.0,851.0 1017.0,849.0 1019.0,849.0 1026.0,846.0 1029.0,846.0 1030.0,845.0Z" fill="#20a1e2" fill-rule="evenodd"/><path d="M840.0,505.0 840.0,641.0 850.0,658.0 849.0,659.0 849.0,661.0 840.0,673.0 840.0,917.0 1179.0,917.0 1179.0,579.0 1168.0,571.0 1162.0,568.0 1159.0,565.0 1159.0,562.0 1160.0,561.0 1160.0,553.0 1161.0,552.0 1161.0,527.0 1160.0,526.0 1160.0,518.0 1159.0,517.0 1159.0,512.0 1158.0,511.0 1158.0,507.0 1157.0,505.0ZM1039.0,841.0 1043.0,843.0 1054.0,855.0 1057.0,861.0 1057.0,872.0 1056.0,873.0 1055.0,878.0 1046.0,890.0 1032.0,904.0 1027.0,904.0 1025.0,903.0 1011.0,889.0 1011.0,888.0 1005.0,882.0 1001.0,876.0 1001.0,874.0 999.0,870.0 999.0,856.0 1003.0,852.0 1014.0,847.0 1019.0,846.0 1022.0,844.0 1024.0,844.0 1031.0,841.0Z" fill="#1aaed8" fill-rule="evenodd"/><path d="M840.0,505.0 840.0,641.0 850.0,658.0 849.0,659.0 849.0,661.0 840.0,673.0 840.0,917.0 998.0,917.0 998.0,908.0 997.0,907.0 997.0,878.0 996.0,877.0 996.0,856.0 997.0,855.0 997.0,853.0 1001.0,849.0 1007.0,846.0 1017.0,843.0 1020.0,841.0 1022.0,841.0 1026.0,839.0 1030.0,835.0 1031.0,833.0 1031.0,820.0 1032.0,819.0 1032.0,814.0 1037.0,808.0 1042.0,806.0 1052.0,806.0 1057.0,810.0 1057.0,818.0 1056.0,819.0 1056.0,821.0 1053.0,828.0 1053.0,831.0 1051.0,835.0 1050.0,844.0 1052.0,849.0 1057.0,856.0 1060.0,864.0 1060.0,874.0 1061.0,875.0 1061.0,917.0 1179.0,917.0 1179.0,579.0 1168.0,571.0 1162.0,568.0 1159.0,565.0 1159.0,562.0 1160.0,561.0 1160.0,553.0 1161.0,552.0 1161.0,527.0 1160.0,526.0 1160.0,518.0 1159.0,517.0 1159.0,512.0 1158.0,511.0 1157.0,505.0ZM909.0,811.0 911.0,809.0 914.0,809.0 915.0,808.0 923.0,808.0 924.0,807.0 943.0,807.0 944.0,806.0 969.0,806.0 970.0,807.0 973.0,807.0 977.0,811.0 978.0,816.0 979.0,817.0 979.0,827.0 978.0,828.0 978.0,832.0 977.0,834.0 973.0,837.0 965.0,837.0 964.0,836.0 961.0,836.0 960.0,835.0 955.0,834.0 952.0,832.0 950.0,832.0 940.0,827.0 938.0,827.0 933.0,824.0 926.0,822.0 912.0,815.0ZM990.0,685.0 996.0,685.0 1000.0,687.0 1015.0,701.0 1018.0,706.0 1018.0,708.0 1019.0,709.0 1019.0,715.0 1020.0,716.0 1020.0,728.0 1019.0,729.0 1019.0,735.0 1018.0,737.0 1015.0,739.0 1013.0,739.0 1006.0,733.0 997.0,718.0 997.0,716.0 995.0,713.0 995.0,711.0 990.0,698.0 989.0,691.0 988.0,690.0 988.0,687.0Z" fill="#14b8cb" fill-rule="evenodd"/><path d="M840.0,779.0 840.0,917.0 959.0,917.0 979.0,893.0 988.0,881.0 992.0,873.0 992.0,869.0 993.0,868.0 993.0,852.0 991.0,847.0 988.0,844.0 986.0,844.0 985.0,843.0 979.0,843.0 978.0,844.0 975.0,844.0 971.0,846.0 963.0,847.0 962.0,848.0 949.0,848.0 948.0,847.0 942.0,846.0 934.0,842.0 932.0,842.0 927.0,839.0 925.0,839.0 915.0,834.0 894.0,820.0 891.0,819.0 889.0,817.0 886.0,816.0 884.0,814.0 875.0,809.0 862.0,798.0 861.0,798.0ZM840.0,505.0 840.0,640.0 850.0,658.0 849.0,661.0 840.0,673.0 840.0,766.0 850.0,768.0 851.0,769.0 854.0,769.0 855.0,770.0 858.0,770.0 859.0,771.0 862.0,771.0 866.0,773.0 877.0,775.0 881.0,777.0 884.0,777.0 885.0,778.0 900.0,781.0 904.0,783.0 919.0,786.0 923.0,788.0 926.0,788.0 927.0,789.0 930.0,789.0 931.0,790.0 934.0,790.0 935.0,791.0 938.0,791.0 943.0,793.0 947.0,793.0 952.0,795.0 956.0,795.0 957.0,796.0 961.0,796.0 962.0,797.0 969.0,798.0 974.0,800.0 983.0,807.0 987.0,809.0 998.0,809.0 999.0,808.0 1007.0,808.0 1008.0,807.0 1029.0,807.0 1030.0,806.0 1033.0,806.0 1037.0,804.0 1045.0,803.0 1046.0,802.0 1051.0,802.0 1052.0,803.0 1058.0,804.0 1063.0,808.0 1064.0,814.0 1063.0,815.0 1062.0,822.0 1061.0,823.0 1061.0,825.0 1057.0,835.0 1056.0,842.0 1055.0,843.0 1055.0,848.0 1056.0,849.0 1056.0,851.0 1063.0,863.0 1063.0,865.0 1068.0,876.0 1091.0,901.0 1100.0,914.0 1101.0,917.0 1179.0,917.0 1179.0,579.0 1168.0,571.0 1163.0,569.0 1159.0,565.0 1159.0,562.0 1160.0,561.0 1160.0,553.0 1161.0,552.0 1161.0,527.0 1160.0,526.0 1160.0,519.0 1159.0,518.0 1159.0,513.0 1158.0,512.0 1157.0,505.0ZM1114.0,592.0 1113.0,596.0 1104.0,608.0 1099.0,613.0 1099.0,614.0 1094.0,619.0 1089.0,626.0 1080.0,635.0 1080.0,636.0 1069.0,646.0 1047.0,661.0 1042.0,666.0 1037.0,673.0 1034.0,679.0 1034.0,681.0 1030.0,691.0 1030.0,694.0 1024.0,709.0 1024.0,714.0 1023.0,715.0 1023.0,738.0 1022.0,739.0 1022.0,741.0 1018.0,745.0 1014.0,745.0 1012.0,744.0 1005.0,738.0 1000.0,731.0 998.0,726.0 996.0,724.0 996.0,722.0 989.0,708.0 976.0,695.0 975.0,695.0 971.0,691.0 970.0,691.0 966.0,687.0 950.0,675.0 946.0,673.0 939.0,666.0 943.0,663.0 953.0,662.0 954.0,661.0 959.0,661.0 960.0,660.0 966.0,660.0 967.0,659.0 972.0,659.0 973.0,658.0 978.0,658.0 979.0,657.0 984.0,657.0 985.0,656.0 990.0,656.0 991.0,655.0 995.0,655.0 996.0,654.0 1000.0,654.0 1001.0,653.0 1008.0,652.0 1009.0,651.0 1015.0,650.0 1018.0,648.0 1020.0,648.0 1025.0,645.0 1029.0,644.0 1031.0,642.0 1036.0,640.0 1041.0,636.0 1044.0,635.0 1070.0,617.0 1073.0,616.0 1106.0,594.0 1112.0,591.0Z" fill="#11bebc" fill-rule="evenodd"/><path d="M840.0,505.0 840.0,640.0 850.0,658.0 849.0,661.0 840.0,673.0 840.0,756.0 841.0,757.0 848.0,758.0 852.0,760.0 867.0,763.0 871.0,765.0 886.0,768.0 890.0,770.0 901.0,772.0 905.0,774.0 912.0,775.0 916.0,777.0 923.0,778.0 924.0,779.0 930.0,780.0 937.0,783.0 940.0,783.0 941.0,784.0 964.0,791.0 967.0,793.0 969.0,793.0 984.0,803.0 994.0,803.0 995.0,802.0 1002.0,802.0 1003.0,801.0 1018.0,801.0 1019.0,802.0 1023.0,802.0 1024.0,803.0 1036.0,803.0 1041.0,801.0 1055.0,801.0 1056.0,802.0 1059.0,802.0 1063.0,804.0 1067.0,808.0 1067.0,818.0 1066.0,819.0 1064.0,829.0 1063.0,830.0 1063.0,832.0 1060.0,839.0 1060.0,842.0 1059.0,843.0 1059.0,852.0 1065.0,859.0 1073.0,861.0 1074.0,860.0 1082.0,860.0 1083.0,859.0 1090.0,859.0 1091.0,858.0 1105.0,858.0 1106.0,859.0 1110.0,859.0 1118.0,862.0 1124.0,866.0 1134.0,876.0 1135.0,876.0 1176.0,917.0 1179.0,917.0 1179.0,579.0 1168.0,571.0 1163.0,569.0 1159.0,565.0 1159.0,561.0 1160.0,560.0 1160.0,552.0 1161.0,551.0 1161.0,528.0 1160.0,527.0 1160.0,519.0 1159.0,518.0 1159.0,513.0 1158.0,512.0 1157.0,505.0ZM1125.0,584.0 1125.0,586.0 1119.0,594.0 1098.0,618.0 1093.0,625.0 1087.0,631.0 1087.0,632.0 1079.0,640.0 1079.0,641.0 1063.0,656.0 1053.0,663.0 1044.0,673.0 1039.0,682.0 1039.0,684.0 1037.0,687.0 1037.0,689.0 1033.0,697.0 1033.0,699.0 1028.0,707.0 1028.0,709.0 1026.0,713.0 1026.0,737.0 1023.0,745.0 1019.0,748.0 1013.0,748.0 1009.0,746.0 1002.0,739.0 997.0,730.0 995.0,728.0 993.0,724.0 993.0,722.0 987.0,710.0 976.0,698.0 975.0,698.0 949.0,677.0 937.0,669.0 933.0,665.0 933.0,664.0 937.0,661.0 941.0,661.0 942.0,660.0 946.0,660.0 947.0,659.0 951.0,659.0 952.0,658.0 962.0,657.0 963.0,656.0 977.0,654.0 982.0,652.0 986.0,652.0 987.0,651.0 997.0,649.0 1008.0,644.0 1010.0,644.0 1016.0,641.0 1018.0,639.0 1023.0,637.0 1030.0,632.0 1033.0,631.0 1038.0,627.0 1041.0,626.0 1046.0,622.0 1049.0,621.0 1057.0,615.0 1060.0,614.0 1065.0,610.0 1068.0,609.0 1073.0,605.0 1076.0,604.0 1091.0,594.0 1111.0,585.0 1114.0,585.0 1119.0,583.0 1124.0,583.0Z" fill="#10c2aa" fill-rule="evenodd"/><path d="M840.0,505.0 840.0,640.0 850.0,658.0 849.0,661.0 840.0,673.0 840.0,747.0 845.0,748.0 846.0,749.0 849.0,749.0 850.0,750.0 853.0,750.0 854.0,751.0 857.0,751.0 861.0,753.0 876.0,756.0 880.0,758.0 887.0,759.0 891.0,761.0 898.0,762.0 902.0,764.0 909.0,765.0 916.0,768.0 919.0,768.0 920.0,769.0 934.0,773.0 937.0,775.0 942.0,776.0 952.0,781.0 954.0,781.0 970.0,789.0 980.0,798.0 984.0,800.0 995.0,800.0 996.0,799.0 1003.0,799.0 1004.0,798.0 1016.0,798.0 1017.0,799.0 1020.0,799.0 1025.0,801.0 1029.0,801.0 1030.0,802.0 1032.0,802.0 1033.0,801.0 1038.0,801.0 1039.0,800.0 1044.0,800.0 1045.0,799.0 1052.0,799.0 1053.0,800.0 1057.0,800.0 1058.0,801.0 1063.0,802.0 1070.0,808.0 1070.0,819.0 1069.0,820.0 1068.0,827.0 1066.0,831.0 1066.0,834.0 1065.0,835.0 1063.0,845.0 1062.0,846.0 1062.0,850.0 1065.0,854.0 1067.0,855.0 1076.0,855.0 1077.0,854.0 1084.0,854.0 1085.0,853.0 1099.0,853.0 1100.0,852.0 1122.0,851.0 1123.0,852.0 1127.0,852.0 1128.0,853.0 1139.0,856.0 1142.0,858.0 1150.0,860.0 1153.0,862.0 1161.0,864.0 1164.0,866.0 1166.0,866.0 1179.0,871.0 1179.0,579.0 1171.0,573.0 1163.0,569.0 1159.0,565.0 1159.0,561.0 1160.0,560.0 1160.0,552.0 1161.0,551.0 1161.0,528.0 1160.0,527.0 1160.0,519.0 1159.0,518.0 1159.0,513.0 1158.0,512.0 1157.0,505.0ZM1129.0,583.0 1124.0,590.0 1114.0,601.0 1114.0,602.0 1081.0,640.0 1081.0,641.0 1053.0,671.0 1046.0,681.0 1039.0,695.0 1037.0,697.0 1036.0,700.0 1032.0,705.0 1029.0,711.0 1029.0,713.0 1028.0,714.0 1028.0,739.0 1027.0,740.0 1026.0,745.0 1021.0,750.0 1019.0,750.0 1018.0,751.0 1013.0,751.0 1007.0,748.0 1001.0,742.0 996.0,735.0 990.0,724.0 990.0,722.0 987.0,717.0 987.0,715.0 982.0,707.0 973.0,698.0 972.0,698.0 946.0,677.0 935.0,670.0 931.0,666.0 930.0,666.0 928.0,663.0 932.0,660.0 935.0,660.0 936.0,659.0 939.0,659.0 944.0,657.0 948.0,657.0 949.0,656.0 952.0,656.0 957.0,654.0 961.0,654.0 962.0,653.0 977.0,650.0 978.0,649.0 992.0,645.0 995.0,643.0 997.0,643.0 1013.0,635.0 1015.0,633.0 1027.0,627.0 1029.0,625.0 1032.0,624.0 1034.0,622.0 1037.0,621.0 1054.0,610.0 1059.0,608.0 1071.0,600.0 1092.0,589.0 1094.0,589.0 1104.0,585.0 1107.0,585.0 1112.0,583.0 1116.0,583.0 1117.0,582.0 1122.0,582.0 1123.0,581.0 1127.0,581.0Z" fill="#10c294" fill-rule="evenodd"/><path d="M840.0,505.0 840.0,640.0 850.0,658.0 849.0,661.0 840.0,673.0 840.0,705.0 849.0,710.0 851.0,712.0 854.0,713.0 856.0,715.0 859.0,716.0 861.0,718.0 864.0,719.0 866.0,721.0 869.0,722.0 871.0,724.0 874.0,725.0 876.0,727.0 879.0,728.0 884.0,732.0 887.0,733.0 899.0,741.0 902.0,742.0 904.0,744.0 907.0,745.0 909.0,747.0 912.0,748.0 914.0,750.0 917.0,751.0 919.0,753.0 922.0,754.0 927.0,758.0 930.0,759.0 932.0,761.0 935.0,762.0 937.0,764.0 955.0,774.0 960.0,778.0 963.0,779.0 970.0,784.0 983.0,797.0 985.0,798.0 992.0,798.0 993.0,797.0 1000.0,797.0 1001.0,796.0 1016.0,796.0 1027.0,800.0 1037.0,800.0 1038.0,799.0 1042.0,799.0 1043.0,798.0 1052.0,798.0 1053.0,799.0 1057.0,799.0 1058.0,800.0 1066.0,802.0 1069.0,804.0 1073.0,809.0 1073.0,819.0 1072.0,820.0 1072.0,825.0 1071.0,826.0 1071.0,829.0 1070.0,830.0 1070.0,833.0 1069.0,834.0 1069.0,837.0 1067.0,842.0 1067.0,849.0 1070.0,851.0 1124.0,849.0 1125.0,850.0 1128.0,850.0 1129.0,851.0 1140.0,854.0 1143.0,856.0 1154.0,859.0 1157.0,861.0 1165.0,863.0 1168.0,865.0 1176.0,867.0 1179.0,869.0 1179.0,579.0 1171.0,573.0 1163.0,569.0 1159.0,565.0 1159.0,561.0 1160.0,560.0 1160.0,552.0 1161.0,551.0 1161.0,528.0 1160.0,527.0 1160.0,519.0 1159.0,518.0 1159.0,513.0 1158.0,512.0 1157.0,505.0ZM1131.0,581.0 1130.0,584.0 1127.0,588.0 1121.0,594.0 1121.0,595.0 1076.0,648.0 1068.0,659.0 1059.0,675.0 1032.0,709.0 1030.0,714.0 1030.0,739.0 1029.0,740.0 1029.0,743.0 1027.0,747.0 1023.0,751.0 1019.0,753.0 1011.0,753.0 1005.0,750.0 994.0,738.0 986.0,723.0 986.0,721.0 980.0,709.0 962.0,692.0 924.0,664.0 924.0,662.0 926.0,660.0 928.0,660.0 935.0,657.0 938.0,657.0 942.0,655.0 945.0,655.0 949.0,653.0 952.0,653.0 956.0,651.0 959.0,651.0 960.0,650.0 971.0,647.0 974.0,645.0 979.0,644.0 984.0,641.0 986.0,641.0 1010.0,629.0 1012.0,627.0 1023.0,622.0 1025.0,620.0 1032.0,617.0 1034.0,615.0 1041.0,612.0 1043.0,610.0 1050.0,607.0 1052.0,605.0 1077.0,592.0 1079.0,592.0 1082.0,590.0 1084.0,590.0 1094.0,586.0 1102.0,585.0 1107.0,583.0 1117.0,582.0 1118.0,581.0 1123.0,581.0 1124.0,580.0 1130.0,580.0Z" fill="#10c07e" fill-rule="evenodd"/><path d="M840.0,505.0 840.0,640.0 845.0,650.0 850.0,657.0 850.0,659.0 847.0,663.0 856.0,664.0 864.0,668.0 866.0,671.0 881.0,686.0 881.0,687.0 895.0,701.0 895.0,702.0 909.0,716.0 909.0,717.0 927.0,735.0 927.0,736.0 948.0,757.0 949.0,757.0 959.0,767.0 960.0,767.0 973.0,779.0 980.0,790.0 984.0,794.0 986.0,795.0 995.0,795.0 996.0,794.0 1005.0,794.0 1006.0,793.0 1009.0,793.0 1010.0,794.0 1019.0,795.0 1029.0,799.0 1036.0,799.0 1037.0,798.0 1042.0,798.0 1043.0,797.0 1052.0,797.0 1053.0,798.0 1056.0,798.0 1057.0,799.0 1060.0,799.0 1061.0,800.0 1066.0,801.0 1070.0,803.0 1075.0,808.0 1075.0,812.0 1076.0,813.0 1076.0,821.0 1075.0,822.0 1075.0,830.0 1074.0,831.0 1074.0,836.0 1073.0,837.0 1073.0,844.0 1075.0,846.0 1078.0,846.0 1079.0,847.0 1093.0,847.0 1094.0,848.0 1112.0,848.0 1113.0,847.0 1122.0,847.0 1123.0,848.0 1126.0,848.0 1127.0,849.0 1130.0,849.0 1131.0,850.0 1139.0,852.0 1142.0,854.0 1150.0,856.0 1153.0,858.0 1161.0,860.0 1164.0,862.0 1166.0,862.0 1179.0,867.0 1179.0,579.0 1171.0,573.0 1163.0,569.0 1159.0,565.0 1159.0,561.0 1160.0,560.0 1160.0,551.0 1161.0,550.0 1161.0,529.0 1160.0,528.0 1160.0,519.0 1159.0,518.0 1159.0,513.0 1158.0,512.0 1157.0,505.0ZM1133.0,581.0 1128.0,588.0 1117.0,600.0 1117.0,601.0 1101.0,619.0 1101.0,620.0 1079.0,646.0 1074.0,655.0 1072.0,657.0 1063.0,677.0 1056.0,687.0 1035.0,708.0 1033.0,711.0 1033.0,713.0 1032.0,714.0 1032.0,739.0 1031.0,740.0 1031.0,744.0 1027.0,750.0 1019.0,755.0 1017.0,755.0 1016.0,756.0 1009.0,756.0 1001.0,752.0 989.0,740.0 971.0,716.0 962.0,707.0 938.0,691.0 935.0,688.0 922.0,680.0 919.0,677.0 909.0,671.0 906.0,668.0 906.0,667.0 910.0,664.0 912.0,664.0 923.0,659.0 934.0,656.0 937.0,654.0 945.0,652.0 948.0,650.0 950.0,650.0 953.0,648.0 960.0,646.0 967.0,642.0 969.0,642.0 1025.0,614.0 1027.0,612.0 1068.0,592.0 1070.0,592.0 1080.0,588.0 1083.0,588.0 1088.0,586.0 1092.0,586.0 1093.0,585.0 1097.0,585.0 1098.0,584.0 1102.0,584.0 1103.0,583.0 1107.0,583.0 1108.0,582.0 1113.0,582.0 1114.0,581.0 1119.0,581.0 1120.0,580.0 1126.0,580.0 1127.0,579.0 1131.0,579.0Z" fill="#10c06c" fill-rule="evenodd"/><path d="M840.0,505.0 840.0,640.0 844.0,648.0 850.0,657.0 850.0,659.0 849.0,660.0 917.0,660.0 918.0,659.0 921.0,659.0 931.0,654.0 933.0,654.0 944.0,648.0 946.0,648.0 980.0,631.0 982.0,629.0 1029.0,606.0 1031.0,604.0 1055.0,593.0 1057.0,593.0 1061.0,591.0 1064.0,591.0 1065.0,590.0 1068.0,590.0 1069.0,589.0 1072.0,589.0 1073.0,588.0 1076.0,588.0 1077.0,587.0 1081.0,587.0 1082.0,586.0 1086.0,586.0 1087.0,585.0 1092.0,585.0 1093.0,584.0 1097.0,584.0 1098.0,583.0 1103.0,583.0 1104.0,582.0 1109.0,582.0 1110.0,581.0 1115.0,581.0 1116.0,580.0 1130.0,579.0 1131.0,578.0 1134.0,580.0 1133.0,583.0 1129.0,587.0 1129.0,588.0 1102.0,619.0 1102.0,620.0 1097.0,625.0 1097.0,626.0 1092.0,631.0 1092.0,632.0 1082.0,644.0 1073.0,660.0 1073.0,662.0 1071.0,665.0 1071.0,667.0 1067.0,675.0 1067.0,677.0 1060.0,688.0 1049.0,699.0 1043.0,703.0 1036.0,710.0 1033.0,718.0 1034.0,739.0 1033.0,740.0 1033.0,744.0 1031.0,748.0 1026.0,753.0 1016.0,759.0 1014.0,759.0 1010.0,761.0 994.0,761.0 989.0,763.0 985.0,767.0 983.0,771.0 983.0,780.0 986.0,788.0 989.0,790.0 1005.0,789.0 1006.0,790.0 1011.0,790.0 1024.0,796.0 1031.0,797.0 1032.0,798.0 1034.0,798.0 1035.0,797.0 1041.0,797.0 1042.0,796.0 1050.0,796.0 1051.0,797.0 1056.0,797.0 1057.0,798.0 1063.0,799.0 1069.0,802.0 1071.0,802.0 1074.0,804.0 1077.0,808.0 1077.0,810.0 1078.0,811.0 1078.0,816.0 1079.0,817.0 1080.0,836.0 1082.0,840.0 1086.0,843.0 1088.0,843.0 1092.0,845.0 1096.0,845.0 1097.0,846.0 1103.0,846.0 1104.0,847.0 1108.0,847.0 1109.0,846.0 1123.0,846.0 1124.0,847.0 1127.0,847.0 1128.0,848.0 1131.0,848.0 1132.0,849.0 1137.0,850.0 1140.0,852.0 1148.0,854.0 1151.0,856.0 1159.0,858.0 1162.0,860.0 1170.0,862.0 1173.0,864.0 1175.0,864.0 1179.0,866.0 1179.0,579.0 1174.0,575.0 1163.0,569.0 1159.0,565.0 1160.0,551.0 1161.0,550.0 1161.0,529.0 1160.0,528.0 1160.0,520.0 1159.0,519.0 1159.0,513.0 1158.0,512.0 1157.0,505.0Z" fill="#10bf5d" fill-rule="evenodd"/><path d="M840.0,505.0 840.0,640.0 844.0,648.0 849.0,655.0 850.0,659.0 917.0,659.0 936.0,650.0 938.0,648.0 947.0,644.0 949.0,642.0 956.0,639.0 958.0,637.0 971.0,631.0 973.0,629.0 994.0,619.0 996.0,617.0 1040.0,595.0 1045.0,594.0 1048.0,592.0 1051.0,592.0 1055.0,590.0 1059.0,590.0 1064.0,588.0 1068.0,588.0 1069.0,587.0 1074.0,587.0 1075.0,586.0 1080.0,586.0 1081.0,585.0 1086.0,585.0 1087.0,584.0 1093.0,584.0 1094.0,583.0 1099.0,583.0 1100.0,582.0 1106.0,582.0 1107.0,581.0 1112.0,581.0 1113.0,580.0 1119.0,580.0 1120.0,579.0 1126.0,579.0 1127.0,578.0 1135.0,578.0 1136.0,579.0 1134.0,583.0 1098.0,625.0 1080.0,649.0 1078.0,653.0 1078.0,655.0 1076.0,658.0 1071.0,675.0 1065.0,687.0 1055.0,698.0 1043.0,706.0 1037.0,712.0 1036.0,717.0 1035.0,718.0 1035.0,728.0 1036.0,729.0 1036.0,741.0 1035.0,742.0 1035.0,745.0 1029.0,753.0 1020.0,759.0 1016.0,763.0 1013.0,769.0 1012.0,779.0 1013.0,780.0 1013.0,784.0 1016.0,789.0 1026.0,795.0 1028.0,795.0 1029.0,796.0 1049.0,795.0 1050.0,796.0 1055.0,796.0 1059.0,798.0 1062.0,798.0 1075.0,803.0 1080.0,809.0 1080.0,812.0 1082.0,817.0 1082.0,821.0 1084.0,825.0 1085.0,831.0 1088.0,837.0 1092.0,841.0 1102.0,845.0 1124.0,845.0 1125.0,846.0 1128.0,846.0 1129.0,847.0 1143.0,851.0 1146.0,853.0 1154.0,855.0 1157.0,857.0 1165.0,859.0 1168.0,861.0 1176.0,863.0 1179.0,865.0 1179.0,579.0 1166.0,570.0 1163.0,569.0 1159.0,565.0 1160.0,551.0 1161.0,550.0 1161.0,529.0 1160.0,528.0 1160.0,520.0 1159.0,519.0 1159.0,513.0 1158.0,512.0 1157.0,505.0Z" fill="#10bc51" fill-rule="evenodd"/><path d="M840.0,505.0 840.0,640.0 844.0,648.0 849.0,655.0 850.0,659.0 912.0,659.0 913.0,658.0 917.0,658.0 929.0,652.0 947.0,640.0 964.0,631.0 966.0,629.0 975.0,625.0 977.0,623.0 1005.0,609.0 1007.0,607.0 1029.0,596.0 1031.0,596.0 1039.0,592.0 1042.0,592.0 1046.0,590.0 1054.0,589.0 1055.0,588.0 1066.0,587.0 1067.0,586.0 1073.0,586.0 1074.0,585.0 1080.0,585.0 1081.0,584.0 1088.0,584.0 1089.0,583.0 1095.0,583.0 1096.0,582.0 1102.0,582.0 1103.0,581.0 1109.0,581.0 1110.0,580.0 1116.0,580.0 1117.0,579.0 1123.0,579.0 1124.0,578.0 1130.0,578.0 1131.0,577.0 1136.0,577.0 1137.0,578.0 1136.0,582.0 1100.0,624.0 1100.0,625.0 1096.0,629.0 1084.0,645.0 1080.0,653.0 1071.0,683.0 1067.0,690.0 1060.0,698.0 1043.0,709.0 1039.0,713.0 1038.0,718.0 1037.0,719.0 1037.0,725.0 1038.0,726.0 1038.0,744.0 1035.0,750.0 1030.0,755.0 1024.0,759.0 1019.0,767.0 1018.0,779.0 1019.0,780.0 1019.0,785.0 1021.0,789.0 1024.0,792.0 1028.0,794.0 1031.0,794.0 1032.0,795.0 1037.0,795.0 1038.0,794.0 1048.0,794.0 1049.0,795.0 1053.0,795.0 1054.0,796.0 1061.0,797.0 1077.0,803.0 1082.0,808.0 1085.0,819.0 1087.0,822.0 1087.0,824.0 1089.0,827.0 1089.0,829.0 1091.0,833.0 1098.0,841.0 1106.0,844.0 1125.0,844.0 1126.0,845.0 1129.0,845.0 1130.0,846.0 1138.0,848.0 1141.0,850.0 1152.0,853.0 1155.0,855.0 1163.0,857.0 1166.0,859.0 1174.0,861.0 1177.0,863.0 1179.0,863.0 1179.0,579.0 1166.0,570.0 1163.0,569.0 1159.0,565.0 1160.0,550.0 1161.0,549.0 1161.0,530.0 1160.0,529.0 1160.0,520.0 1159.0,519.0 1159.0,514.0 1158.0,513.0 1157.0,505.0Z" fill="#13b644" fill-rule="evenodd"/><path d="M840.0,505.0 840.0,640.0 850.0,658.0 914.0,658.0 923.0,654.0 943.0,640.0 946.0,639.0 954.0,633.0 957.0,632.0 969.0,624.0 974.0,622.0 976.0,620.0 994.0,611.0 996.0,609.0 1007.0,604.0 1009.0,602.0 1028.0,593.0 1030.0,593.0 1037.0,590.0 1040.0,590.0 1041.0,589.0 1051.0,588.0 1052.0,587.0 1058.0,587.0 1059.0,586.0 1065.0,586.0 1066.0,585.0 1074.0,585.0 1075.0,584.0 1082.0,584.0 1083.0,583.0 1090.0,583.0 1091.0,582.0 1106.0,581.0 1107.0,580.0 1113.0,580.0 1114.0,579.0 1120.0,579.0 1121.0,578.0 1127.0,578.0 1128.0,577.0 1138.0,577.0 1139.0,578.0 1139.0,580.0 1135.0,584.0 1135.0,585.0 1108.0,616.0 1108.0,617.0 1103.0,622.0 1103.0,623.0 1089.0,640.0 1082.0,654.0 1082.0,657.0 1080.0,661.0 1077.0,676.0 1071.0,691.0 1063.0,700.0 1054.0,706.0 1046.0,710.0 1041.0,715.0 1040.0,717.0 1041.0,744.0 1039.0,749.0 1026.0,762.0 1024.0,766.0 1024.0,769.0 1023.0,770.0 1023.0,782.0 1024.0,783.0 1025.0,788.0 1030.0,792.0 1033.0,792.0 1034.0,793.0 1048.0,793.0 1049.0,794.0 1056.0,795.0 1060.0,797.0 1063.0,797.0 1067.0,799.0 1070.0,799.0 1080.0,803.0 1084.0,807.0 1089.0,818.0 1089.0,820.0 1095.0,832.0 1099.0,838.0 1103.0,841.0 1105.0,841.0 1106.0,842.0 1121.0,842.0 1122.0,843.0 1130.0,844.0 1179.0,862.0 1179.0,579.0 1159.0,566.0 1160.0,550.0 1161.0,549.0 1161.0,530.0 1160.0,529.0 1160.0,520.0 1159.0,519.0 1159.0,514.0 1158.0,513.0 1157.0,505.0Z" fill="#18b038" fill-rule="evenodd"/><path d="M840.0,505.0 840.0,640.0 850.0,658.0 912.0,658.0 913.0,657.0 915.0,657.0 927.0,650.0 937.0,642.0 961.0,626.0 964.0,625.0 969.0,621.0 979.0,616.0 986.0,611.0 993.0,608.0 995.0,606.0 1020.0,593.0 1022.0,593.0 1032.0,589.0 1036.0,589.0 1037.0,588.0 1041.0,588.0 1042.0,587.0 1048.0,587.0 1049.0,586.0 1056.0,586.0 1057.0,585.0 1066.0,585.0 1067.0,584.0 1075.0,584.0 1076.0,583.0 1085.0,583.0 1086.0,582.0 1094.0,582.0 1095.0,581.0 1110.0,580.0 1111.0,579.0 1125.0,578.0 1126.0,577.0 1132.0,577.0 1133.0,576.0 1141.0,576.0 1142.0,577.0 1141.0,580.0 1106.0,621.0 1091.0,641.0 1086.0,653.0 1080.0,683.0 1078.0,686.0 1078.0,688.0 1076.0,692.0 1069.0,700.0 1060.0,706.0 1051.0,710.0 1044.0,716.0 1043.0,718.0 1044.0,745.0 1041.0,752.0 1033.0,761.0 1030.0,767.0 1030.0,784.0 1033.0,788.0 1037.0,790.0 1052.0,793.0 1059.0,796.0 1062.0,796.0 1069.0,799.0 1072.0,799.0 1073.0,800.0 1076.0,800.0 1077.0,801.0 1082.0,802.0 1088.0,808.0 1095.0,822.0 1095.0,824.0 1097.0,826.0 1100.0,833.0 1104.0,838.0 1108.0,840.0 1112.0,840.0 1113.0,841.0 1124.0,841.0 1125.0,842.0 1132.0,843.0 1135.0,845.0 1146.0,848.0 1149.0,850.0 1151.0,850.0 1152.0,851.0 1157.0,852.0 1160.0,854.0 1168.0,856.0 1171.0,858.0 1179.0,860.0 1179.0,579.0 1159.0,566.0 1160.0,549.0 1161.0,548.0 1161.0,531.0 1160.0,530.0 1160.0,520.0 1159.0,519.0 1159.0,514.0 1158.0,513.0 1157.0,505.0Z" fill="#1fab2e" fill-rule="evenodd"/><path d="M840.0,505.0 840.0,640.0 850.0,658.0 908.0,658.0 909.0,657.0 916.0,656.0 936.0,641.0 940.0,639.0 943.0,636.0 947.0,634.0 950.0,631.0 971.0,617.0 974.0,616.0 979.0,612.0 994.0,604.0 996.0,602.0 1003.0,599.0 1005.0,597.0 1013.0,593.0 1015.0,593.0 1018.0,591.0 1020.0,591.0 1027.0,588.0 1037.0,587.0 1038.0,586.0 1045.0,586.0 1046.0,585.0 1056.0,585.0 1057.0,584.0 1067.0,584.0 1068.0,583.0 1078.0,583.0 1079.0,582.0 1098.0,581.0 1099.0,580.0 1106.0,580.0 1107.0,579.0 1122.0,578.0 1123.0,577.0 1137.0,576.0 1138.0,575.0 1144.0,575.0 1145.0,574.0 1151.0,574.0 1152.0,573.0 1158.0,573.0 1159.0,572.0 1167.0,572.0 1168.0,573.0 1167.0,575.0 1132.0,611.0 1132.0,612.0 1121.0,625.0 1120.0,628.0 1115.0,635.0 1108.0,650.0 1106.0,652.0 1098.0,669.0 1096.0,671.0 1090.0,683.0 1083.0,693.0 1075.0,701.0 1069.0,705.0 1055.0,711.0 1049.0,715.0 1046.0,720.0 1046.0,737.0 1047.0,738.0 1047.0,744.0 1046.0,745.0 1045.0,751.0 1040.0,761.0 1040.0,765.0 1039.0,766.0 1039.0,779.0 1040.0,780.0 1040.0,784.0 1041.0,786.0 1047.0,791.0 1049.0,791.0 1052.0,793.0 1054.0,793.0 1061.0,796.0 1064.0,796.0 1065.0,797.0 1075.0,799.0 1076.0,800.0 1084.0,801.0 1088.0,803.0 1094.0,810.0 1103.0,829.0 1110.0,837.0 1112.0,838.0 1126.0,839.0 1130.0,841.0 1133.0,841.0 1139.0,844.0 1150.0,847.0 1153.0,849.0 1161.0,851.0 1164.0,853.0 1166.0,853.0 1179.0,858.0 1179.0,579.0 1159.0,566.0 1160.0,549.0 1161.0,548.0 1161.0,531.0 1160.0,530.0 1160.0,521.0 1159.0,520.0 1159.0,514.0 1158.0,513.0 1157.0,505.0Z" fill="#29a828" fill-rule="evenodd"/><path d="M1179.0,664.0 1177.0,664.0 1176.0,665.0 1174.0,665.0 1173.0,666.0 1171.0,666.0 1170.0,667.0 1168.0,667.0 1167.0,668.0 1165.0,668.0 1164.0,669.0 1162.0,669.0 1161.0,670.0 1159.0,670.0 1158.0,671.0 1156.0,671.0 1155.0,672.0 1153.0,672.0 1152.0,673.0 1150.0,673.0 1149.0,674.0 1114.0,685.0 1106.0,689.0 1104.0,689.0 1094.0,694.0 1083.0,702.0 1073.0,707.0 1071.0,707.0 1068.0,709.0 1066.0,709.0 1055.0,714.0 1050.0,719.0 1049.0,724.0 1048.0,725.0 1049.0,745.0 1048.0,746.0 1048.0,749.0 1044.0,759.0 1044.0,783.0 1047.0,789.0 1054.0,793.0 1056.0,793.0 1063.0,796.0 1066.0,796.0 1070.0,798.0 1082.0,799.0 1083.0,800.0 1091.0,800.0 1096.0,802.0 1103.0,809.0 1110.0,823.0 1114.0,829.0 1120.0,832.0 1136.0,829.0 1140.0,827.0 1143.0,827.0 1150.0,824.0 1153.0,824.0 1160.0,821.0 1163.0,821.0 1170.0,818.0 1173.0,818.0 1174.0,817.0 1179.0,816.0ZM840.0,640.0 849.0,656.0 853.0,658.0 897.0,658.0 898.0,657.0 911.0,657.0 916.0,655.0 943.0,634.0 947.0,632.0 954.0,626.0 979.0,609.0 982.0,608.0 987.0,604.0 997.0,599.0 999.0,597.0 1013.0,590.0 1015.0,590.0 1022.0,587.0 1033.0,586.0 1034.0,585.0 1056.0,584.0 1057.0,583.0 1069.0,583.0 1070.0,582.0 1081.0,582.0 1082.0,581.0 1092.0,581.0 1093.0,580.0 1102.0,580.0 1103.0,579.0 1111.0,579.0 1112.0,578.0 1119.0,578.0 1120.0,577.0 1126.0,577.0 1127.0,576.0 1134.0,576.0 1135.0,575.0 1144.0,574.0 1150.0,571.0 1152.0,571.0 1160.0,567.0 1159.0,566.0 1159.0,559.0 1160.0,558.0 1160.0,549.0 1161.0,548.0 1161.0,531.0 1160.0,530.0 1160.0,521.0 1159.0,520.0 1159.0,514.0 1158.0,513.0 1157.0,505.0 840.0,505.0Z" fill="#35a521" fill-rule="evenodd"/><path d="M1179.0,672.0 1178.0,673.0 1176.0,673.0 1175.0,674.0 1173.0,674.0 1172.0,675.0 1170.0,675.0 1169.0,676.0 1167.0,676.0 1166.0,677.0 1164.0,677.0 1163.0,678.0 1161.0,678.0 1160.0,679.0 1125.0,690.0 1122.0,692.0 1108.0,696.0 1105.0,698.0 1103.0,698.0 1095.0,702.0 1093.0,702.0 1086.0,706.0 1062.0,713.0 1054.0,718.0 1051.0,723.0 1051.0,726.0 1050.0,727.0 1050.0,749.0 1047.0,756.0 1047.0,762.0 1046.0,763.0 1046.0,773.0 1047.0,774.0 1047.0,784.0 1048.0,785.0 1048.0,787.0 1052.0,791.0 1056.0,793.0 1058.0,793.0 1065.0,796.0 1072.0,797.0 1073.0,798.0 1089.0,798.0 1090.0,797.0 1097.0,796.0 1100.0,794.0 1102.0,794.0 1106.0,792.0 1111.0,787.0 1120.0,768.0 1122.0,766.0 1124.0,761.0 1126.0,759.0 1127.0,756.0 1129.0,754.0 1130.0,751.0 1141.0,734.0 1153.0,722.0 1176.0,706.0 1179.0,705.0ZM840.0,640.0 850.0,657.0 909.0,657.0 917.0,653.0 966.0,615.0 990.0,599.0 1000.0,594.0 1002.0,592.0 1006.0,590.0 1008.0,590.0 1011.0,588.0 1013.0,588.0 1017.0,586.0 1020.0,586.0 1021.0,585.0 1027.0,585.0 1028.0,584.0 1056.0,583.0 1057.0,582.0 1071.0,582.0 1072.0,581.0 1085.0,581.0 1086.0,580.0 1107.0,579.0 1108.0,578.0 1115.0,578.0 1116.0,577.0 1123.0,577.0 1124.0,576.0 1137.0,575.0 1138.0,574.0 1142.0,574.0 1143.0,573.0 1148.0,572.0 1159.0,566.0 1160.0,548.0 1161.0,547.0 1161.0,532.0 1160.0,531.0 1160.0,521.0 1159.0,520.0 1159.0,514.0 1158.0,513.0 1157.0,505.0 840.0,505.0Z" fill="#42a61b" fill-rule="evenodd"/><path d="M1179.0,679.0 1177.0,679.0 1170.0,682.0 1167.0,682.0 1166.0,683.0 1140.0,691.0 1137.0,693.0 1102.0,704.0 1099.0,706.0 1097.0,706.0 1093.0,708.0 1068.0,713.0 1059.0,717.0 1054.0,722.0 1052.0,727.0 1052.0,744.0 1051.0,745.0 1051.0,750.0 1050.0,751.0 1049.0,760.0 1048.0,761.0 1048.0,772.0 1049.0,773.0 1049.0,784.0 1050.0,785.0 1050.0,787.0 1054.0,791.0 1058.0,793.0 1060.0,793.0 1067.0,796.0 1071.0,796.0 1072.0,797.0 1086.0,797.0 1096.0,792.0 1100.0,787.0 1106.0,776.0 1111.0,771.0 1111.0,770.0 1122.0,757.0 1128.0,748.0 1129.0,745.0 1139.0,731.0 1150.0,721.0 1179.0,702.0ZM840.0,640.0 850.0,657.0 905.0,657.0 906.0,656.0 910.0,656.0 918.0,651.0 922.0,647.0 923.0,647.0 927.0,643.0 928.0,643.0 932.0,639.0 933.0,639.0 937.0,635.0 942.0,632.0 968.0,611.0 993.0,594.0 1006.0,587.0 1008.0,587.0 1015.0,584.0 1020.0,584.0 1021.0,583.0 1031.0,583.0 1032.0,582.0 1074.0,581.0 1075.0,580.0 1089.0,580.0 1090.0,579.0 1101.0,579.0 1102.0,578.0 1120.0,577.0 1121.0,576.0 1128.0,576.0 1129.0,575.0 1140.0,574.0 1141.0,573.0 1149.0,571.0 1159.0,566.0 1159.0,559.0 1160.0,558.0 1161.0,532.0 1160.0,531.0 1160.0,521.0 1159.0,520.0 1159.0,514.0 1158.0,513.0 1157.0,505.0 840.0,505.0Z" fill="#54ab12" fill-rule="evenodd"/><path d="M1179.0,684.0 1177.0,684.0 1176.0,685.0 1174.0,685.0 1173.0,686.0 1171.0,686.0 1170.0,687.0 1168.0,687.0 1167.0,688.0 1165.0,688.0 1164.0,689.0 1162.0,689.0 1161.0,690.0 1159.0,690.0 1158.0,691.0 1156.0,691.0 1155.0,692.0 1153.0,692.0 1152.0,693.0 1150.0,693.0 1149.0,694.0 1147.0,694.0 1146.0,695.0 1144.0,695.0 1143.0,696.0 1141.0,696.0 1140.0,697.0 1138.0,697.0 1137.0,698.0 1135.0,698.0 1134.0,699.0 1132.0,699.0 1131.0,700.0 1129.0,700.0 1107.0,708.0 1104.0,708.0 1096.0,711.0 1091.0,711.0 1090.0,712.0 1084.0,712.0 1083.0,713.0 1072.0,714.0 1071.0,715.0 1065.0,716.0 1058.0,720.0 1056.0,722.0 1053.0,730.0 1053.0,746.0 1052.0,747.0 1052.0,752.0 1051.0,753.0 1051.0,757.0 1050.0,758.0 1050.0,778.0 1051.0,779.0 1051.0,785.0 1052.0,787.0 1056.0,791.0 1060.0,793.0 1062.0,793.0 1066.0,795.0 1069.0,795.0 1070.0,796.0 1075.0,796.0 1076.0,797.0 1085.0,796.0 1091.0,793.0 1094.0,790.0 1102.0,774.0 1120.0,755.0 1136.0,731.0 1141.0,726.0 1142.0,726.0 1154.0,716.0 1179.0,700.0ZM840.0,640.0 850.0,657.0 899.0,657.0 900.0,656.0 908.0,656.0 916.0,651.0 942.0,629.0 948.0,625.0 953.0,620.0 954.0,620.0 958.0,616.0 963.0,613.0 979.0,600.0 994.0,590.0 1006.0,584.0 1012.0,583.0 1013.0,582.0 1018.0,582.0 1019.0,581.0 1050.0,581.0 1051.0,580.0 1076.0,580.0 1077.0,579.0 1105.0,578.0 1106.0,577.0 1115.0,577.0 1116.0,576.0 1124.0,576.0 1125.0,575.0 1138.0,574.0 1139.0,573.0 1142.0,573.0 1148.0,570.0 1150.0,570.0 1159.0,565.0 1159.0,559.0 1160.0,558.0 1161.0,533.0 1160.0,532.0 1160.0,521.0 1159.0,520.0 1159.0,515.0 1158.0,514.0 1157.0,505.0 840.0,505.0Z" fill="#6db10b" fill-rule="evenodd"/><path d="M1179.0,689.0 1177.0,689.0 1173.0,691.0 1170.0,691.0 1169.0,692.0 1167.0,692.0 1166.0,693.0 1164.0,693.0 1163.0,694.0 1161.0,694.0 1160.0,695.0 1158.0,695.0 1157.0,696.0 1155.0,696.0 1154.0,697.0 1152.0,697.0 1151.0,698.0 1149.0,698.0 1148.0,699.0 1146.0,699.0 1145.0,700.0 1143.0,700.0 1142.0,701.0 1140.0,701.0 1139.0,702.0 1137.0,702.0 1136.0,703.0 1134.0,703.0 1112.0,711.0 1103.0,712.0 1102.0,713.0 1096.0,713.0 1095.0,714.0 1075.0,715.0 1074.0,716.0 1067.0,717.0 1061.0,720.0 1057.0,724.0 1055.0,728.0 1055.0,731.0 1054.0,732.0 1054.0,746.0 1053.0,747.0 1053.0,753.0 1052.0,754.0 1052.0,782.0 1053.0,783.0 1053.0,786.0 1055.0,789.0 1062.0,793.0 1072.0,795.0 1073.0,796.0 1081.0,796.0 1088.0,793.0 1093.0,787.0 1093.0,785.0 1098.0,774.0 1102.0,770.0 1102.0,769.0 1105.0,767.0 1120.0,752.0 1131.0,734.0 1142.0,723.0 1177.0,699.0 1179.0,697.0ZM840.0,640.0 849.0,656.0 905.0,656.0 910.0,654.0 972.0,602.0 996.0,585.0 1000.0,583.0 1002.0,583.0 1005.0,581.0 1014.0,580.0 1015.0,579.0 1075.0,579.0 1076.0,578.0 1096.0,578.0 1097.0,577.0 1109.0,577.0 1110.0,576.0 1118.0,576.0 1119.0,575.0 1134.0,574.0 1135.0,573.0 1140.0,573.0 1141.0,572.0 1149.0,570.0 1159.0,565.0 1159.0,559.0 1160.0,558.0 1161.0,533.0 1160.0,532.0 1160.0,521.0 1159.0,520.0 1159.0,515.0 1158.0,514.0 1157.0,505.0 840.0,505.0Z" fill="#89b705" fill-rule="evenodd"/><path d="M1171.0,698.0 1166.0,698.0 1162.0,700.0 1159.0,700.0 1158.0,701.0 1156.0,701.0 1149.0,704.0 1146.0,704.0 1145.0,705.0 1143.0,705.0 1121.0,713.0 1118.0,713.0 1117.0,714.0 1113.0,714.0 1112.0,715.0 1097.0,715.0 1096.0,716.0 1079.0,716.0 1078.0,717.0 1072.0,717.0 1062.0,721.0 1058.0,725.0 1056.0,729.0 1056.0,732.0 1055.0,733.0 1055.0,746.0 1054.0,747.0 1054.0,754.0 1053.0,755.0 1053.0,777.0 1054.0,778.0 1054.0,784.0 1056.0,788.0 1058.0,790.0 1064.0,793.0 1067.0,793.0 1072.0,795.0 1081.0,795.0 1087.0,792.0 1089.0,790.0 1092.0,784.0 1093.0,779.0 1097.0,771.0 1117.0,753.0 1123.0,745.0 1124.0,742.0 1126.0,740.0 1131.0,731.0 1143.0,720.0 1167.0,703.0 1171.0,699.0ZM840.0,640.0 849.0,656.0 899.0,656.0 900.0,655.0 905.0,655.0 910.0,652.0 915.0,647.0 922.0,642.0 953.0,614.0 954.0,614.0 960.0,608.0 961.0,608.0 967.0,602.0 968.0,602.0 982.0,590.0 992.0,583.0 1002.0,578.0 1011.0,577.0 1012.0,576.0 1031.0,576.0 1032.0,577.0 1094.0,577.0 1095.0,576.0 1109.0,576.0 1110.0,575.0 1120.0,575.0 1121.0,574.0 1136.0,573.0 1137.0,572.0 1141.0,572.0 1142.0,571.0 1147.0,570.0 1150.0,568.0 1152.0,568.0 1159.0,564.0 1159.0,559.0 1160.0,558.0 1160.0,547.0 1161.0,546.0 1160.0,522.0 1159.0,521.0 1159.0,515.0 1158.0,514.0 1157.0,505.0 840.0,505.0Z" fill="#a8be00" fill-rule="evenodd"/><path d="M1147.0,712.0 1142.0,712.0 1141.0,713.0 1134.0,714.0 1126.0,717.0 1121.0,717.0 1120.0,718.0 1110.0,718.0 1109.0,717.0 1083.0,717.0 1082.0,718.0 1074.0,718.0 1063.0,722.0 1059.0,726.0 1056.0,734.0 1055.0,756.0 1054.0,757.0 1054.0,768.0 1055.0,769.0 1055.0,781.0 1056.0,782.0 1057.0,787.0 1060.0,790.0 1071.0,794.0 1080.0,794.0 1081.0,793.0 1083.0,793.0 1088.0,788.0 1091.0,778.0 1095.0,770.0 1100.0,765.0 1110.0,758.0 1117.0,751.0 1125.0,739.0 1130.0,729.0 1140.0,719.0 1141.0,719.0 1147.0,713.0ZM840.0,640.0 849.0,655.0 899.0,655.0 900.0,654.0 902.0,654.0 906.0,652.0 919.0,640.0 920.0,640.0 979.0,586.0 994.0,575.0 998.0,574.0 1001.0,572.0 1005.0,572.0 1006.0,571.0 1025.0,571.0 1026.0,572.0 1048.0,573.0 1049.0,574.0 1098.0,575.0 1099.0,574.0 1116.0,574.0 1117.0,573.0 1135.0,572.0 1136.0,571.0 1141.0,571.0 1142.0,570.0 1150.0,568.0 1159.0,563.0 1159.0,558.0 1160.0,557.0 1161.0,534.0 1160.0,533.0 1160.0,522.0 1159.0,521.0 1159.0,515.0 1158.0,514.0 1157.0,505.0 840.0,505.0Z" fill="#c7c400" fill-rule="evenodd"/><path d="M1125.0,722.0 1121.0,722.0 1120.0,721.0 1116.0,721.0 1115.0,720.0 1110.0,720.0 1109.0,719.0 1093.0,719.0 1092.0,718.0 1090.0,719.0 1076.0,719.0 1075.0,720.0 1071.0,720.0 1064.0,723.0 1060.0,727.0 1058.0,731.0 1058.0,734.0 1057.0,735.0 1057.0,742.0 1056.0,743.0 1056.0,775.0 1057.0,776.0 1057.0,783.0 1058.0,784.0 1058.0,786.0 1061.0,789.0 1067.0,792.0 1070.0,792.0 1071.0,793.0 1079.0,793.0 1080.0,792.0 1082.0,792.0 1086.0,788.0 1090.0,775.0 1094.0,768.0 1104.0,760.0 1108.0,758.0 1120.0,745.0 1121.0,742.0 1124.0,738.0 1124.0,736.0 1128.0,728.0 1128.0,724.0ZM846.0,651.0 848.0,653.0 891.0,653.0 896.0,651.0 921.0,627.0 922.0,627.0 946.0,603.0 946.0,602.0 965.0,583.0 965.0,582.0 972.0,575.0 980.0,564.0 986.0,558.0 987.0,558.0 991.0,554.0 1011.0,539.0 1036.0,522.0 1039.0,521.0 1049.0,514.0 1066.0,505.0 840.0,505.0 840.0,640.0 843.0,644.0Z" fill="#dac700" fill-rule="evenodd"/><path d="M1122.0,725.0 1115.0,722.0 1106.0,721.0 1105.0,720.0 1077.0,720.0 1076.0,721.0 1069.0,722.0 1065.0,724.0 1061.0,728.0 1058.0,735.0 1058.0,740.0 1057.0,741.0 1057.0,764.0 1058.0,765.0 1058.0,777.0 1059.0,778.0 1059.0,783.0 1062.0,788.0 1065.0,790.0 1071.0,791.0 1072.0,792.0 1078.0,792.0 1083.0,789.0 1086.0,783.0 1086.0,780.0 1090.0,770.0 1096.0,764.0 1111.0,754.0 1120.0,743.0 1124.0,734.0 1124.0,727.0Z" fill="#edca00" fill-rule="evenodd"/><path d="M1119.0,726.0 1113.0,723.0 1105.0,722.0 1104.0,721.0 1078.0,721.0 1077.0,722.0 1070.0,723.0 1066.0,725.0 1062.0,729.0 1060.0,732.0 1060.0,734.0 1059.0,735.0 1059.0,740.0 1058.0,741.0 1058.0,757.0 1059.0,758.0 1059.0,764.0 1060.0,765.0 1061.0,781.0 1064.0,787.0 1070.0,790.0 1078.0,790.0 1082.0,786.0 1087.0,770.0 1093.0,764.0 1108.0,755.0 1118.0,744.0 1122.0,736.0 1122.0,729.0Z" fill="#facb00" fill-rule="evenodd"/><path d="M1119.0,728.0 1112.0,724.0 1104.0,723.0 1103.0,722.0 1079.0,722.0 1078.0,723.0 1074.0,723.0 1067.0,726.0 1062.0,731.0 1060.0,736.0 1060.0,739.0 1059.0,740.0 1059.0,754.0 1060.0,755.0 1060.0,759.0 1062.0,763.0 1062.0,767.0 1063.0,768.0 1063.0,772.0 1064.0,773.0 1064.0,779.0 1066.0,784.0 1070.0,787.0 1076.0,787.0 1080.0,782.0 1080.0,779.0 1083.0,771.0 1090.0,764.0 1105.0,756.0 1114.0,748.0 1120.0,738.0 1121.0,732.0Z" fill="#ffc700" fill-rule="evenodd"/><path d="M1119.0,731.0 1115.0,727.0 1111.0,725.0 1104.0,724.0 1103.0,723.0 1079.0,723.0 1068.0,727.0 1063.0,732.0 1060.0,740.0 1060.0,753.0 1065.0,764.0 1070.0,771.0 1075.0,772.0 1084.0,765.0 1103.0,756.0 1115.0,745.0 1119.0,737.0Z" fill="#ffc000" fill-rule="evenodd"/><path d="M1117.0,731.0 1113.0,727.0 1111.0,727.0 1108.0,725.0 1105.0,725.0 1104.0,724.0 1080.0,724.0 1079.0,725.0 1073.0,726.0 1066.0,730.0 1062.0,737.0 1062.0,739.0 1061.0,740.0 1061.0,752.0 1064.0,758.0 1067.0,761.0 1073.0,764.0 1080.0,764.0 1081.0,763.0 1084.0,763.0 1085.0,762.0 1090.0,761.0 1104.0,754.0 1113.0,746.0 1118.0,736.0Z" fill="#feb600" fill-rule="evenodd"/><path d="M1116.0,732.0 1112.0,728.0 1104.0,725.0 1090.0,724.0 1089.0,725.0 1081.0,725.0 1080.0,726.0 1076.0,726.0 1067.0,731.0 1064.0,735.0 1064.0,737.0 1062.0,741.0 1062.0,750.0 1063.0,751.0 1063.0,753.0 1067.0,758.0 1074.0,761.0 1084.0,761.0 1085.0,760.0 1091.0,759.0 1105.0,752.0 1113.0,744.0 1116.0,738.0Z" fill="#faa603" fill-rule="evenodd"/><path d="M1115.0,734.0 1111.0,729.0 1104.0,726.0 1097.0,726.0 1096.0,725.0 1081.0,726.0 1071.0,730.0 1066.0,735.0 1063.0,742.0 1063.0,749.0 1065.0,753.0 1068.0,756.0 1072.0,758.0 1074.0,758.0 1075.0,759.0 1084.0,759.0 1085.0,758.0 1089.0,758.0 1090.0,757.0 1095.0,756.0 1107.0,749.0 1113.0,742.0 1115.0,737.0Z" fill="#f79308" fill-rule="evenodd"/><path d="M1113.0,733.0 1109.0,729.0 1107.0,729.0 1103.0,727.0 1096.0,727.0 1095.0,726.0 1083.0,727.0 1082.0,728.0 1076.0,729.0 1072.0,731.0 1067.0,736.0 1065.0,740.0 1065.0,744.0 1064.0,745.0 1065.0,750.0 1067.0,753.0 1070.0,755.0 1075.0,756.0 1076.0,757.0 1085.0,757.0 1086.0,756.0 1090.0,756.0 1091.0,755.0 1096.0,754.0 1105.0,749.0 1110.0,744.0 1113.0,739.0Z" fill="#f07a08" fill-rule="evenodd"/><path d="M1066.0,747.0 1069.0,752.0 1076.0,755.0 1086.0,755.0 1087.0,754.0 1094.0,753.0 1102.0,749.0 1109.0,743.0 1111.0,739.0 1111.0,733.0 1109.0,731.0 1102.0,728.0 1084.0,728.0 1083.0,729.0 1080.0,729.0 1077.0,731.0 1075.0,731.0 1069.0,736.0 1066.0,743.0Z" fill="#ea6708" fill-rule="evenodd"/><path d="M1109.0,734.0 1106.0,731.0 1101.0,730.0 1100.0,729.0 1087.0,729.0 1086.0,730.0 1082.0,730.0 1079.0,732.0 1077.0,732.0 1071.0,737.0 1069.0,740.0 1068.0,745.0 1069.0,746.0 1069.0,748.0 1074.0,752.0 1077.0,752.0 1078.0,753.0 1090.0,752.0 1102.0,747.0 1108.0,741.0 1109.0,739.0Z" fill="#e4520c" fill-rule="evenodd"/><path d="M1071.0,744.0 1072.0,745.0 1072.0,747.0 1077.0,750.0 1087.0,750.0 1088.0,749.0 1091.0,749.0 1092.0,748.0 1097.0,747.0 1102.0,744.0 1106.0,739.0 1106.0,735.0 1103.0,732.0 1101.0,732.0 1100.0,731.0 1086.0,731.0 1085.0,732.0 1082.0,732.0 1078.0,734.0 1072.0,740.0 1072.0,743.0Z" fill="#de3c12" fill-rule="evenodd"/><path d="M1101.0,736.0 1097.0,733.0 1088.0,733.0 1081.0,736.0 1077.0,740.0 1077.0,744.0 1080.0,746.0 1087.0,746.0 1088.0,745.0 1091.0,745.0 1098.0,742.0 1101.0,739.0Z" fill="#d82719" fill-rule="evenodd"/></g></g><g clip-path="url(#bcD)"><path d="M1015.4,522.7 C1015.8,522.2 1017.1,520.4 1018.0,519.5 C1018.9,518.6 1020.5,517.7 1021.0,517.3" fill="none" stroke="#000" stroke-width="2.6"/><path d="M1010.0,552.7 C1009.5,554.5 1008.6,559.3 1007.2,563.6 C1005.8,567.9 1004.1,574.5 1001.8,578.6 C999.5,582.7 997.0,586.0 993.6,588.2 C990.2,590.4 985.6,591.3 981.3,591.6 C977.0,591.9 971.3,590.9 967.7,590.2 C964.1,589.5 960.9,588.0 959.5,587.5" fill="none" stroke="#000" stroke-width="2.6"/><path d="M983.6,780.0 C987.2,781.2 997.9,785.2 1005.5,787.3 C1013.1,789.4 1021.8,790.9 1029.0,792.7 C1036.2,794.5 1043.5,797.0 1049.0,798.2 C1054.5,799.4 1057.8,799.1 1061.8,800.0 C1065.8,800.9 1069.7,801.8 1072.7,803.6 C1075.7,805.4 1078.2,808.0 1080.0,811.0 C1081.8,814.0 1082.4,818.5 1083.6,821.8 C1084.8,825.1 1085.5,828.3 1087.3,831.0 C1089.1,833.7 1090.9,836.1 1094.5,838.2 C1098.1,840.3 1104.2,842.2 1109.0,843.6 C1113.8,845.0 1119.1,845.6 1123.6,846.4 C1128.1,847.2 1133.9,848.1 1136.0,848.5" fill="none" stroke="#000" stroke-width="2.6"/><path d="M1009.0,764.5 C1010.8,763.4 1016.3,760.6 1020.0,758.0 C1023.7,755.4 1028.3,752.0 1031.0,749.0 C1033.7,746.0 1035.2,742.1 1036.4,740.0 C1037.6,737.9 1037.9,737.0 1038.2,736.4" fill="none" stroke="#000" stroke-width="2.6"/><path d="M1038.0,727.0 C1038.0,725.8 1037.6,722.4 1038.2,720.0 C1038.8,717.6 1039.7,714.4 1041.8,712.7 C1043.9,711.0 1048.3,710.5 1051.0,710.0 C1053.7,709.5 1056.8,710.0 1058.0,710.0" fill="none" stroke="#000" stroke-width="2.6"/><path d="M1076.4,704.5 C1078.7,703.1 1084.7,699.1 1090.0,696.0 C1095.3,692.9 1105.0,687.7 1108.0,686.0" fill="none" stroke="#000" stroke-width="2.6"/><path d="M1058.0,740.0 C1058.3,742.1 1059.8,748.8 1060.0,752.7 C1060.2,756.6 1058.8,760.0 1059.0,763.6 C1059.2,767.2 1060.7,772.7 1061.0,774.5" fill="none" stroke="#000" stroke-width="2.6"/><path d="M1085.5,774.5 C1085.8,772.7 1085.8,766.6 1087.3,763.6 C1088.8,760.6 1090.9,758.5 1094.5,756.4 C1098.1,754.3 1104.2,752.6 1109.0,751.0 C1113.8,749.4 1120.7,747.7 1123.0,747.0" fill="none" stroke="#000" stroke-width="2.6"/><path d="M1067.3,732.7 C1067.6,733.6 1067.5,735.9 1069.0,738.0 C1070.5,740.1 1073.4,744.0 1076.4,745.5 C1079.5,747.0 1083.7,747.6 1087.3,747.3 C1090.9,747.0 1094.9,744.8 1098.0,743.6 C1101.1,742.4 1104.7,740.6 1106.0,740.0" fill="none" stroke="#000" stroke-width="2.6"/><path d="M1087.0,716.0 C1088.3,715.4 1092.3,713.3 1095.0,712.5 C1097.7,711.7 1101.7,711.2 1103.0,711.0" fill="none" stroke="#000" stroke-width="2.6"/><path d="M1010.7,883.6 C1010.0,881.7 1007.0,875.8 1006.7,872.3 C1006.4,868.8 1007.4,865.0 1009.0,862.6 C1010.6,860.2 1013.0,858.9 1016.3,857.8 C1019.5,856.7 1024.5,855.8 1028.5,855.8 C1032.5,855.8 1037.5,856.4 1040.6,857.8 C1043.7,859.2 1045.8,861.5 1047.0,864.2 C1048.2,866.9 1048.2,870.5 1047.9,874.0 C1047.6,877.5 1046.5,881.7 1045.4,885.2 C1044.3,888.7 1042.9,892.3 1041.4,895.0 C1039.9,897.7 1038.7,899.5 1036.5,901.4 C1034.3,903.3 1030.7,905.1 1028.5,906.2 C1026.3,907.4 1024.4,907.9 1023.6,908.3" fill="none" stroke="#000" stroke-width="2.6"/></g><g clip-path="url(#bcD)"><text class="bi" x="938" y="586" font-size="26" text-anchor="middle" transform="rotate(-30,938,578)">27</text><text class="bi" x="1004" y="613" font-size="26" text-anchor="middle" transform="rotate(-62,1004,605)">22</text><text class="bi" x="983" y="779" font-size="26" text-anchor="middle" transform="rotate(-62,983,771)">22</text><text class="bi" x="1071" y="797" font-size="26" text-anchor="middle" transform="rotate(-10,1071,789)">27</text><text class="bi" x="1057" y="730" font-size="26" text-anchor="middle" transform="rotate(-55,1057,722)">27</text><text class="bi" x="1090" y="731" font-size="26" text-anchor="middle" transform="rotate(-20,1090,723)">32</text><text class="bi" x="1022" y="906" font-size="26" text-anchor="middle" transform="rotate(-40,1022,898)">17</text></g>
<g transform="translate(0,458.2)"><path d="M748.0,51.0 980.8,51.0 973.0,56.0 966.7,60.0 970.7,66.0 960.6,72.0 952.5,74.0 950.5,80.0 948.5,86.0 952.5,94.5 958.6,94.5 963.0,96.0 967.0,100.0 970.0,106.0 971.0,112.0 969.0,118.0 966.0,122.0 960.0,124.0 955.0,121.0 947.0,118.0 940.0,117.5 932.0,118.0 924.0,118.5 935.0,121.5 945.0,124.0 955.0,128.0 963.0,131.0 970.0,134.0 978.0,140.0 985.0,147.0 990.0,155.0 995.0,161.0 1003.0,173.0 1009.0,179.0 1017.0,187.4 1021.0,195.5 1019.0,201.5 1013.0,209.6 1005.0,223.8 999.0,234.0 1001.0,240.0 1004.0,250.0 1000.0,262.0 995.0,270.0 985.0,280.0 965.0,294.0 947.0,304.0 945.0,306.0 929.0,312.0 919.0,314.0 917.0,310.0 919.0,298.0 915.0,300.0 909.0,310.0 905.0,318.0 889.0,326.0 869.0,328.0 857.0,326.0 845.0,322.0 825.0,326.0 805.0,330.0 794.0,330.0 791.0,320.0 788.0,326.0 775.3,331.0 763.2,340.7 752.6,345.0 748.0,349.0ZM1035.0,51.0 1264.0,51.0 1264.0,274.0 1259.0,276.0 1257.0,290.0 1253.0,318.0 1245.0,326.0 1235.0,322.0 1223.0,314.0 1223.0,300.0 1227.0,286.0 1229.0,278.0 1221.0,268.0 1225.0,256.0 1225.0,240.0 1220.0,246.0 1215.0,250.0 1205.0,242.0 1197.0,232.0 1191.0,222.0 1197.0,216.0 1199.0,210.0 1193.0,212.0 1185.0,208.0 1179.0,192.0 1176.0,193.0 1173.0,202.0 1177.0,218.0 1180.0,232.0 1181.0,240.0 1185.0,250.0 1187.0,260.0 1185.0,270.0 1188.0,284.0 1195.0,292.0 1190.0,298.0 1181.0,302.0 1173.0,306.0 1171.0,318.0 1165.0,314.0 1145.0,302.0 1125.0,290.0 1105.0,276.0 1089.0,265.0 1097.0,260.0 1105.0,246.0 1107.0,232.0 1109.0,220.0 1109.0,196.0 1113.0,184.0 1125.0,174.0 1121.0,168.0 1113.0,172.0 1097.0,178.0 1085.0,186.0 1078.0,200.0 1077.0,212.0 1073.7,223.8 1067.7,219.7 1059.6,201.5 1057.6,189.4 1061.6,183.4 1053.5,177.0 1045.5,165.0 1043.4,157.0 1049.5,145.0 1061.6,135.0 1060.0,127.0 1053.0,135.0 1041.0,143.0 1031.0,149.0 1024.0,146.0 1024.0,143.0 1022.0,137.0 1017.0,129.0 1019.0,124.0 1017.0,118.0 1007.0,116.0 1011.0,110.0 1005.0,106.0 1011.0,102.0 1003.0,100.0 1005.0,94.0 999.0,88.0 1001.0,82.0 1007.0,74.0 1017.0,68.0 1025.0,64.0 1035.0,52.0ZM1185.0,438.0 1191.0,428.0 1197.0,428.0 1203.0,438.0 1207.0,444.0 1215.0,434.0 1225.0,430.0 1237.0,432.0 1245.0,436.0 1251.0,436.0 1253.0,432.0 1265.0,428.0 1265.0,492.0 1197.0,492.0 1195.0,472.0 1193.0,452.0Z" fill="#6b6b6b"/><path d="M1172.0,316.0 1178.0,310.0 1186.0,311.0 1187.0,318.0 1182.0,324.0 1174.0,323.0Z" fill="#6b6b6b"/>
<path d="M748.0,329.0 756.0,327.0 762.0,331.0 757.0,337.0 748.0,340.5Z" fill="#fff"/>
</g>
<circle cx="990" cy="583.2" r="2.6" fill="#3a3a3a"/><circle cx="1009" cy="617.2" r="2.6" fill="#3a3a3a"/><circle cx="1027" cy="647.2" r="2.6" fill="#3a3a3a"/><circle cx="1018" cy="689.2" r="2.6" fill="#3a3a3a"/><circle cx="1064" cy="705.2" r="2.6" fill="#3a3a3a"/><circle cx="1015" cy="731.8" r="2.6" fill="#3a3a3a"/><circle cx="1045.4" cy="731.8" r="2.6" fill="#3a3a3a"/><circle cx="1072.6" cy="731.8" r="2.6" fill="#3a3a3a"/><circle cx="1002.6" cy="773.2" r="2.6" fill="#3a3a3a"/><circle cx="1036.6" cy="772.2" r="2.6" fill="#3a3a3a"/><circle cx="1070" cy="772.2" r="2.6" fill="#3a3a3a"/><circle cx="1107.4" cy="773.2" r="2.6" fill="#3a3a3a"/><circle cx="951.6" cy="821.8" r="2.6" fill="#3a3a3a"/><circle cx="1010" cy="821.8" r="2.6" fill="#3a3a3a"/><circle cx="1055" cy="821.2" r="2.6" fill="#3a3a3a"/><circle cx="1103" cy="817.8" r="2.6" fill="#3a3a3a"/><circle cx="904.6" cy="873.2" r="2.6" fill="#3a3a3a"/><circle cx="968.6" cy="875.2" r="2.6" fill="#3a3a3a"/><circle cx="1029" cy="872.5999999999999" r="2.6" fill="#3a3a3a"/><circle cx="1088" cy="873.2" r="2.6" fill="#3a3a3a"/>
</g>
<rect x="100.5" y="46.5" width="523" height="447" fill="none" stroke="#b8b8b8" stroke-width="1"/>
<rect x="104.00" y="47" width="10.50" height="3" fill="#000"/>
<rect x="104.00" y="490" width="10.50" height="3" fill="#000"/>
<rect x="172.50" y="47" width="58.00" height="3" fill="#000"/>
<rect x="172.50" y="490" width="58.00" height="3" fill="#000"/>
<rect x="288.50" y="47" width="58.00" height="3" fill="#000"/>
<rect x="288.50" y="490" width="58.00" height="3" fill="#000"/>
<rect x="404.50" y="47" width="58.00" height="3" fill="#000"/>
<rect x="404.50" y="490" width="58.00" height="3" fill="#000"/>
<rect x="520.50" y="47" width="58.00" height="3" fill="#000"/>
<rect x="520.50" y="490" width="58.00" height="3" fill="#000"/>
<rect x="101" y="50.00" width="3" height="34.50" fill="#000"/>
<rect x="620" y="50.00" width="3" height="34.50" fill="#000"/>
<rect x="101" y="147.00" width="3" height="62.50" fill="#000"/>
<rect x="620" y="147.00" width="3" height="62.50" fill="#000"/>
<rect x="101" y="272.00" width="3" height="62.50" fill="#000"/>
<rect x="620" y="272.00" width="3" height="62.50" fill="#000"/>
<rect x="101" y="397.00" width="3" height="62.50" fill="#000"/>
<rect x="620" y="397.00" width="3" height="62.50" fill="#000"/>
<rect x="96.0" y="512.5" width="522.5" height="447" fill="none" stroke="#b8b8b8" stroke-width="1"/>
<rect x="99.50" y="513" width="10.50" height="3" fill="#000"/>
<rect x="99.50" y="956" width="10.50" height="3" fill="#000"/>
<rect x="168.00" y="513" width="58.00" height="3" fill="#000"/>
<rect x="168.00" y="956" width="58.00" height="3" fill="#000"/>
<rect x="284.00" y="513" width="58.00" height="3" fill="#000"/>
<rect x="284.00" y="956" width="58.00" height="3" fill="#000"/>
<rect x="400.00" y="513" width="58.00" height="3" fill="#000"/>
<rect x="400.00" y="956" width="58.00" height="3" fill="#000"/>
<rect x="516.00" y="513" width="58.00" height="3" fill="#000"/>
<rect x="516.00" y="956" width="58.00" height="3" fill="#000"/>
<rect x="96.5" y="516.00" width="3" height="34.50" fill="#000"/>
<rect x="615.0" y="516.00" width="3" height="34.50" fill="#000"/>
<rect x="96.5" y="613.00" width="3" height="62.50" fill="#000"/>
<rect x="615.0" y="613.00" width="3" height="62.50" fill="#000"/>
<rect x="96.5" y="738.00" width="3" height="62.50" fill="#000"/>
<rect x="615.0" y="738.00" width="3" height="62.50" fill="#000"/>
<rect x="96.5" y="863.00" width="3" height="62.50" fill="#000"/>
<rect x="615.0" y="863.00" width="3" height="62.50" fill="#000"/>
<rect x="744.5" y="47.5" width="523" height="448" fill="none" stroke="#b8b8b8" stroke-width="1"/>
<rect x="748.00" y="48" width="11.50" height="3" fill="#000"/>
<rect x="748.00" y="492" width="11.50" height="3" fill="#000"/>
<rect x="805.60" y="48" width="46.10" height="3" fill="#000"/>
<rect x="805.60" y="492" width="46.10" height="3" fill="#000"/>
<rect x="897.80" y="48" width="46.10" height="3" fill="#000"/>
<rect x="897.80" y="492" width="46.10" height="3" fill="#000"/>
<rect x="990.00" y="48" width="46.10" height="3" fill="#000"/>
<rect x="990.00" y="492" width="46.10" height="3" fill="#000"/>
<rect x="1082.20" y="48" width="46.10" height="3" fill="#000"/>
<rect x="1082.20" y="492" width="46.10" height="3" fill="#000"/>
<rect x="1174.40" y="48" width="46.10" height="3" fill="#000"/>
<rect x="1174.40" y="492" width="46.10" height="3" fill="#000"/>
<rect x="745" y="86.00" width="3" height="49.75" fill="#000"/>
<rect x="1264" y="86.00" width="3" height="49.75" fill="#000"/>
<rect x="745" y="185.50" width="3" height="49.75" fill="#000"/>
<rect x="1264" y="185.50" width="3" height="49.75" fill="#000"/>
<rect x="745" y="285.00" width="3" height="49.75" fill="#000"/>
<rect x="1264" y="285.00" width="3" height="49.75" fill="#000"/>
<rect x="745" y="384.50" width="3" height="49.75" fill="#000"/>
<rect x="1264" y="384.50" width="3" height="49.75" fill="#000"/>
<rect x="745" y="484.00" width="3" height="8.00" fill="#000"/>
<rect x="1264" y="484.00" width="3" height="8.00" fill="#000"/>
<rect x="744.5" y="505.5" width="523" height="448" fill="none" stroke="#b8b8b8" stroke-width="1"/>
<rect x="748.00" y="506" width="11.50" height="3" fill="#000"/>
<rect x="748.00" y="950" width="11.50" height="3" fill="#000"/>
<rect x="805.60" y="506" width="46.10" height="3" fill="#000"/>
<rect x="805.60" y="950" width="46.10" height="3" fill="#000"/>
<rect x="897.80" y="506" width="46.10" height="3" fill="#000"/>
<rect x="897.80" y="950" width="46.10" height="3" fill="#000"/>
<rect x="990.00" y="506" width="46.10" height="3" fill="#000"/>
<rect x="990.00" y="950" width="46.10" height="3" fill="#000"/>
<rect x="1082.20" y="506" width="46.10" height="3" fill="#000"/>
<rect x="1082.20" y="950" width="46.10" height="3" fill="#000"/>
<rect x="1174.40" y="506" width="46.10" height="3" fill="#000"/>
<rect x="1174.40" y="950" width="46.10" height="3" fill="#000"/>
<rect x="745" y="544.20" width="3" height="49.75" fill="#000"/>
<rect x="1264" y="544.20" width="3" height="49.75" fill="#000"/>
<rect x="745" y="643.70" width="3" height="49.75" fill="#000"/>
<rect x="1264" y="643.70" width="3" height="49.75" fill="#000"/>
<rect x="745" y="743.20" width="3" height="49.75" fill="#000"/>
<rect x="1264" y="743.20" width="3" height="49.75" fill="#000"/>
<rect x="745" y="842.70" width="3" height="49.75" fill="#000"/>
<rect x="1264" y="842.70" width="3" height="49.75" fill="#000"/>
<rect x="745" y="942.20" width="3" height="7.80" fill="#000"/>
<rect x="1264" y="942.20" width="3" height="7.80" fill="#000"/>
<text class="t" x="257" y="25" font-size="34.4">Qinzhou bay</text>
<text class="t" x="901" y="28" font-size="34.6">Tieshangang bay</text>
<text class="bi" x="90.5" y="156.3" font-size="28.3" text-anchor="end">21.7°N</text>
<text class="bi" x="86" y="621.5" font-size="28.3" text-anchor="end">21.7°N</text>
<text class="bi" x="90.5" y="281.3" font-size="28.3" text-anchor="end">21.6°N</text>
<text class="bi" x="86" y="746.5" font-size="28.3" text-anchor="end">21.6°N</text>
<text class="bi" x="90.5" y="406.3" font-size="28.3" text-anchor="end">21.5°N</text>
<text class="bi" x="86" y="871.5" font-size="28.3" text-anchor="end">21.5°N</text>
<text class="bi" x="733.5" y="95.0" font-size="27" text-anchor="end">21.7°N</text>
<text class="bi" x="733.5" y="553.2" font-size="27" text-anchor="end">21.7°N</text>
<text class="bi" x="733.5" y="194.5" font-size="27" text-anchor="end">21.6°N</text>
<text class="bi" x="733.5" y="652.7" font-size="27" text-anchor="end">21.6°N</text>
<text class="bi" x="733.5" y="294.0" font-size="27" text-anchor="end">21.5°N</text>
<text class="bi" x="733.5" y="752.2" font-size="27" text-anchor="end">21.5°N</text>
<text class="bi" x="733.5" y="393.5" font-size="27" text-anchor="end">21.4°N</text>
<text class="bi" x="733.5" y="851.7" font-size="27" text-anchor="end">21.4°N</text>
<text class="bi" x="733.5" y="493.0" font-size="27" text-anchor="end">21.3°N</text>
<text class="bi" x="733.5" y="951.2" font-size="27" text-anchor="end">21.3°N</text>
<text class="bi" x="109.5" y="989.2" font-size="28" text-anchor="middle">108.4°E</text>
<text class="bi" x="225.5" y="989.2" font-size="28" text-anchor="middle">108.5°E</text>
<text class="bi" x="341.5" y="989.2" font-size="28" text-anchor="middle">108.6°E</text>
<text class="bi" x="457.5" y="989.2" font-size="28" text-anchor="middle">108.7°E</text>
<text class="bi" x="573.5" y="989.2" font-size="28" text-anchor="middle">108.8°E</text>
<text class="bi" x="758.0" y="982.8" font-size="27.6" text-anchor="middle">109.3°E</text>
<text class="bi" x="850.2" y="982.8" font-size="27.6" text-anchor="middle">109.4°E</text>
<text class="bi" x="942.4" y="982.8" font-size="27.6" text-anchor="middle">109.5°E</text>
<text class="bi" x="1034.6" y="982.8" font-size="27.6" text-anchor="middle">109.6°E</text>
<text class="bi" x="1126.8" y="982.8" font-size="27.6" text-anchor="middle">109.7°E</text>
<text class="bi" x="1219.0" y="982.8" font-size="27.6" text-anchor="middle">109.8°E</text>
<text class="s" x="117.5" y="467.7" font-size="30">A</text>
<text class="s" x="765" y="467.7" font-size="30">B</text>
<text class="s" x="118" y="933.5" font-size="30">C</text>
<text class="s" x="765" y="934" font-size="30">D</text>
<text class="bi" font-size="17" transform="translate(641.5,485) rotate(-90)">Ocean Data View</text>
<text class="bi" font-size="17" transform="translate(1286,487) rotate(-90)">Ocean Data View</text>
<text class="bi" font-size="17" transform="translate(637,951) rotate(-90)">Ocean Data View</text>
<text class="bi" font-size="17" transform="translate(1286,945.5) rotate(-90)">Ocean Data View</text>
<defs><linearGradient id="cb1" gradientUnits="userSpaceOnUse" x1="0" y1="44" x2="0" y2="495"><stop offset="0.0000" stop-color="#f9b088"/><stop offset="0.0355" stop-color="#f6a484"/><stop offset="0.0576" stop-color="#f29882"/><stop offset="0.0687" stop-color="#ee8c80"/><stop offset="0.0843" stop-color="#e07078"/><stop offset="0.1020" stop-color="#d85068"/><stop offset="0.1175" stop-color="#d03050"/><stop offset="0.1353" stop-color="#cc2040"/><stop offset="0.1508" stop-color="#d01c28"/><stop offset="0.1685" stop-color="#d82818"/><stop offset="0.1907" stop-color="#e04010"/><stop offset="0.2129" stop-color="#e85a08"/><stop offset="0.2350" stop-color="#f07808"/><stop offset="0.2572" stop-color="#f89808"/><stop offset="0.2794" stop-color="#fcb000"/><stop offset="0.2971" stop-color="#ffbe00"/><stop offset="0.3237" stop-color="#ffc800"/><stop offset="0.3525" stop-color="#f0cc00"/><stop offset="0.3792" stop-color="#d8c800"/><stop offset="0.4013" stop-color="#c0c400"/><stop offset="0.4235" stop-color="#9cbc00"/><stop offset="0.4457" stop-color="#78b408"/><stop offset="0.4678" stop-color="#50a818"/><stop offset="0.4900" stop-color="#38a420"/><stop offset="0.5122" stop-color="#28a828"/><stop offset="0.5344" stop-color="#1cac34"/><stop offset="0.5565" stop-color="#14b444"/><stop offset="0.5787" stop-color="#10bc58"/><stop offset="0.6009" stop-color="#10c068"/><stop offset="0.6253" stop-color="#10c080"/><stop offset="0.6452" stop-color="#10c49c"/><stop offset="0.6674" stop-color="#10c0b8"/><stop offset="0.6896" stop-color="#10b8cc"/><stop offset="0.7118" stop-color="#18acdc"/><stop offset="0.7339" stop-color="#2098e8"/><stop offset="0.7561" stop-color="#2888f0"/><stop offset="0.7783" stop-color="#3078f0"/><stop offset="0.8004" stop-color="#4068f0"/><stop offset="0.8226" stop-color="#4858f0"/><stop offset="0.8448" stop-color="#5048f0"/><stop offset="0.8714" stop-color="#5838f0"/><stop offset="0.9002" stop-color="#6030f0"/><stop offset="0.9335" stop-color="#7828f0"/><stop offset="0.9512" stop-color="#a040f0"/><stop offset="0.9667" stop-color="#b850f0"/><stop offset="0.9845" stop-color="#c860f0"/><stop offset="1.0000" stop-color="#d068f0"/></linearGradient><linearGradient id="cb2" gradientUnits="userSpaceOnUse" x1="0" y1="502" x2="0" y2="957"><stop offset="0.0000" stop-color="#f9b088"/><stop offset="0.0396" stop-color="#f6a484"/><stop offset="0.0615" stop-color="#f09080"/><stop offset="0.0835" stop-color="#e06878"/><stop offset="0.1011" stop-color="#d84060"/><stop offset="0.1165" stop-color="#d02040"/><stop offset="0.1385" stop-color="#d81c28"/><stop offset="0.1604" stop-color="#d82818"/><stop offset="0.1824" stop-color="#e04410"/><stop offset="0.2044" stop-color="#e86008"/><stop offset="0.2264" stop-color="#f07808"/><stop offset="0.2484" stop-color="#f89808"/><stop offset="0.2703" stop-color="#fcb000"/><stop offset="0.2857" stop-color="#ffbc00"/><stop offset="0.3143" stop-color="#ffc800"/><stop offset="0.3363" stop-color="#f8cc00"/><stop offset="0.3582" stop-color="#e0c800"/><stop offset="0.3802" stop-color="#c8c400"/><stop offset="0.4022" stop-color="#a0bc00"/><stop offset="0.4242" stop-color="#78b408"/><stop offset="0.4462" stop-color="#58ac10"/><stop offset="0.4571" stop-color="#48a818"/><stop offset="0.4791" stop-color="#38a420"/><stop offset="0.5011" stop-color="#28a828"/><stop offset="0.5231" stop-color="#1cac30"/><stop offset="0.5451" stop-color="#14b440"/><stop offset="0.5670" stop-color="#10bc50"/><stop offset="0.5890" stop-color="#10c060"/><stop offset="0.6066" stop-color="#10c070"/><stop offset="0.6286" stop-color="#10c088"/><stop offset="0.6440" stop-color="#10c4a0"/><stop offset="0.6659" stop-color="#10c0b8"/><stop offset="0.6879" stop-color="#14b8cc"/><stop offset="0.7099" stop-color="#1caadc"/><stop offset="0.7319" stop-color="#2498e8"/><stop offset="0.7538" stop-color="#2888f0"/><stop offset="0.7758" stop-color="#3478f0"/><stop offset="0.7978" stop-color="#4068f0"/><stop offset="0.8198" stop-color="#4c58f0"/><stop offset="0.8418" stop-color="#5448f0"/><stop offset="0.8637" stop-color="#5c3cf0"/><stop offset="0.8857" stop-color="#6434f0"/><stop offset="0.9077" stop-color="#7830f0"/><stop offset="0.9297" stop-color="#9030f0"/><stop offset="0.9407" stop-color="#a840f0"/><stop offset="0.9670" stop-color="#c050f0"/><stop offset="0.9846" stop-color="#d060f0"/><stop offset="1.0000" stop-color="#d868f0"/></linearGradient></defs>
<path d="M1295.4,51.4 L1303.65,43.7 L1311.9,51.4 L1311.9,491 L1308,495.5 L1298.8,495.5 L1295.4,491 Z" fill="url(#cb1)" stroke="#c8c8c8" stroke-width="0.6"/>
<path d="M1295.4,508 L1303.65,501.4 L1311.9,508 L1311.9,950 L1303.65,956.5 L1295.4,950 Z" fill="url(#cb2)" stroke="#c8c8c8" stroke-width="0.6"/>
<rect x="1295.4" y="105.0" width="3" height="1.2" fill="#222" opacity="0.8"/><rect x="1308.9" y="105.0" width="3" height="1.2" fill="#222" opacity="0.8"/>
<rect x="1295.4" y="214.9" width="3" height="1.2" fill="#222" opacity="0.8"/><rect x="1308.9" y="214.9" width="3" height="1.2" fill="#222" opacity="0.8"/>
<rect x="1295.4" y="325.2" width="3" height="1.2" fill="#222" opacity="0.8"/><rect x="1308.9" y="325.2" width="3" height="1.2" fill="#222" opacity="0.8"/>
<rect x="1295.4" y="436.29999999999995" width="3" height="1.2" fill="#222" opacity="0.8"/><rect x="1308.9" y="436.29999999999995" width="3" height="1.2" fill="#222" opacity="0.8"/>
<rect x="1295.4" y="554.6" width="3" height="1.2" fill="#222" opacity="0.8"/><rect x="1308.9" y="554.6" width="3" height="1.2" fill="#222" opacity="0.8"/>
<rect x="1295.4" y="632.1" width="3" height="1.2" fill="#222" opacity="0.8"/><rect x="1308.9" y="632.1" width="3" height="1.2" fill="#222" opacity="0.8"/>
<rect x="1295.4" y="709.3" width="3" height="1.2" fill="#222" opacity="0.8"/><rect x="1308.9" y="709.3" width="3" height="1.2" fill="#222" opacity="0.8"/>
<rect x="1295.4" y="787.0" width="3" height="1.2" fill="#222" opacity="0.8"/><rect x="1308.9" y="787.0" width="3" height="1.2" fill="#222" opacity="0.8"/>
<rect x="1295.4" y="864.6" width="3" height="1.2" fill="#222" opacity="0.8"/><rect x="1308.9" y="864.6" width="3" height="1.2" fill="#222" opacity="0.8"/>
<rect x="1295.4" y="941.8" width="3" height="1.2" fill="#222" opacity="0.8"/><rect x="1308.9" y="941.8" width="3" height="1.2" fill="#222" opacity="0.8"/>
<text class="bi" x="1319" y="114.6" font-size="26.5">8.2</text>
<text class="bi" x="1319" y="224.5" font-size="26.5">8</text>
<text class="bi" x="1319" y="334.8" font-size="26.5">7.8</text>
<text class="bi" x="1319" y="445.9" font-size="26.5">7.6</text>
<text class="bi" x="1318.5" y="563.2" font-size="26.5">35</text>
<text class="bi" x="1318.5" y="640.7" font-size="26.5">30</text>
<text class="bi" x="1318.5" y="717.9" font-size="26.5">25</text>
<text class="bi" x="1318.5" y="795.6" font-size="26.5">20</text>
<text class="bi" x="1318.5" y="873.2" font-size="26.5">15</text>
<text class="bi" x="1318.5" y="950.4" font-size="26.5">10</text>
<text class="b" font-size="35" transform="translate(1402.5,315.5) rotate(-90)">pH</text>
<text class="b" font-size="36" transform="translate(1394.5,818) rotate(-90)">TSM (mg L<tspan font-size="21.5" dy="-13.5">-1</tspan><tspan dy="13.5">)</tspan></text>
</svg></body></html>
